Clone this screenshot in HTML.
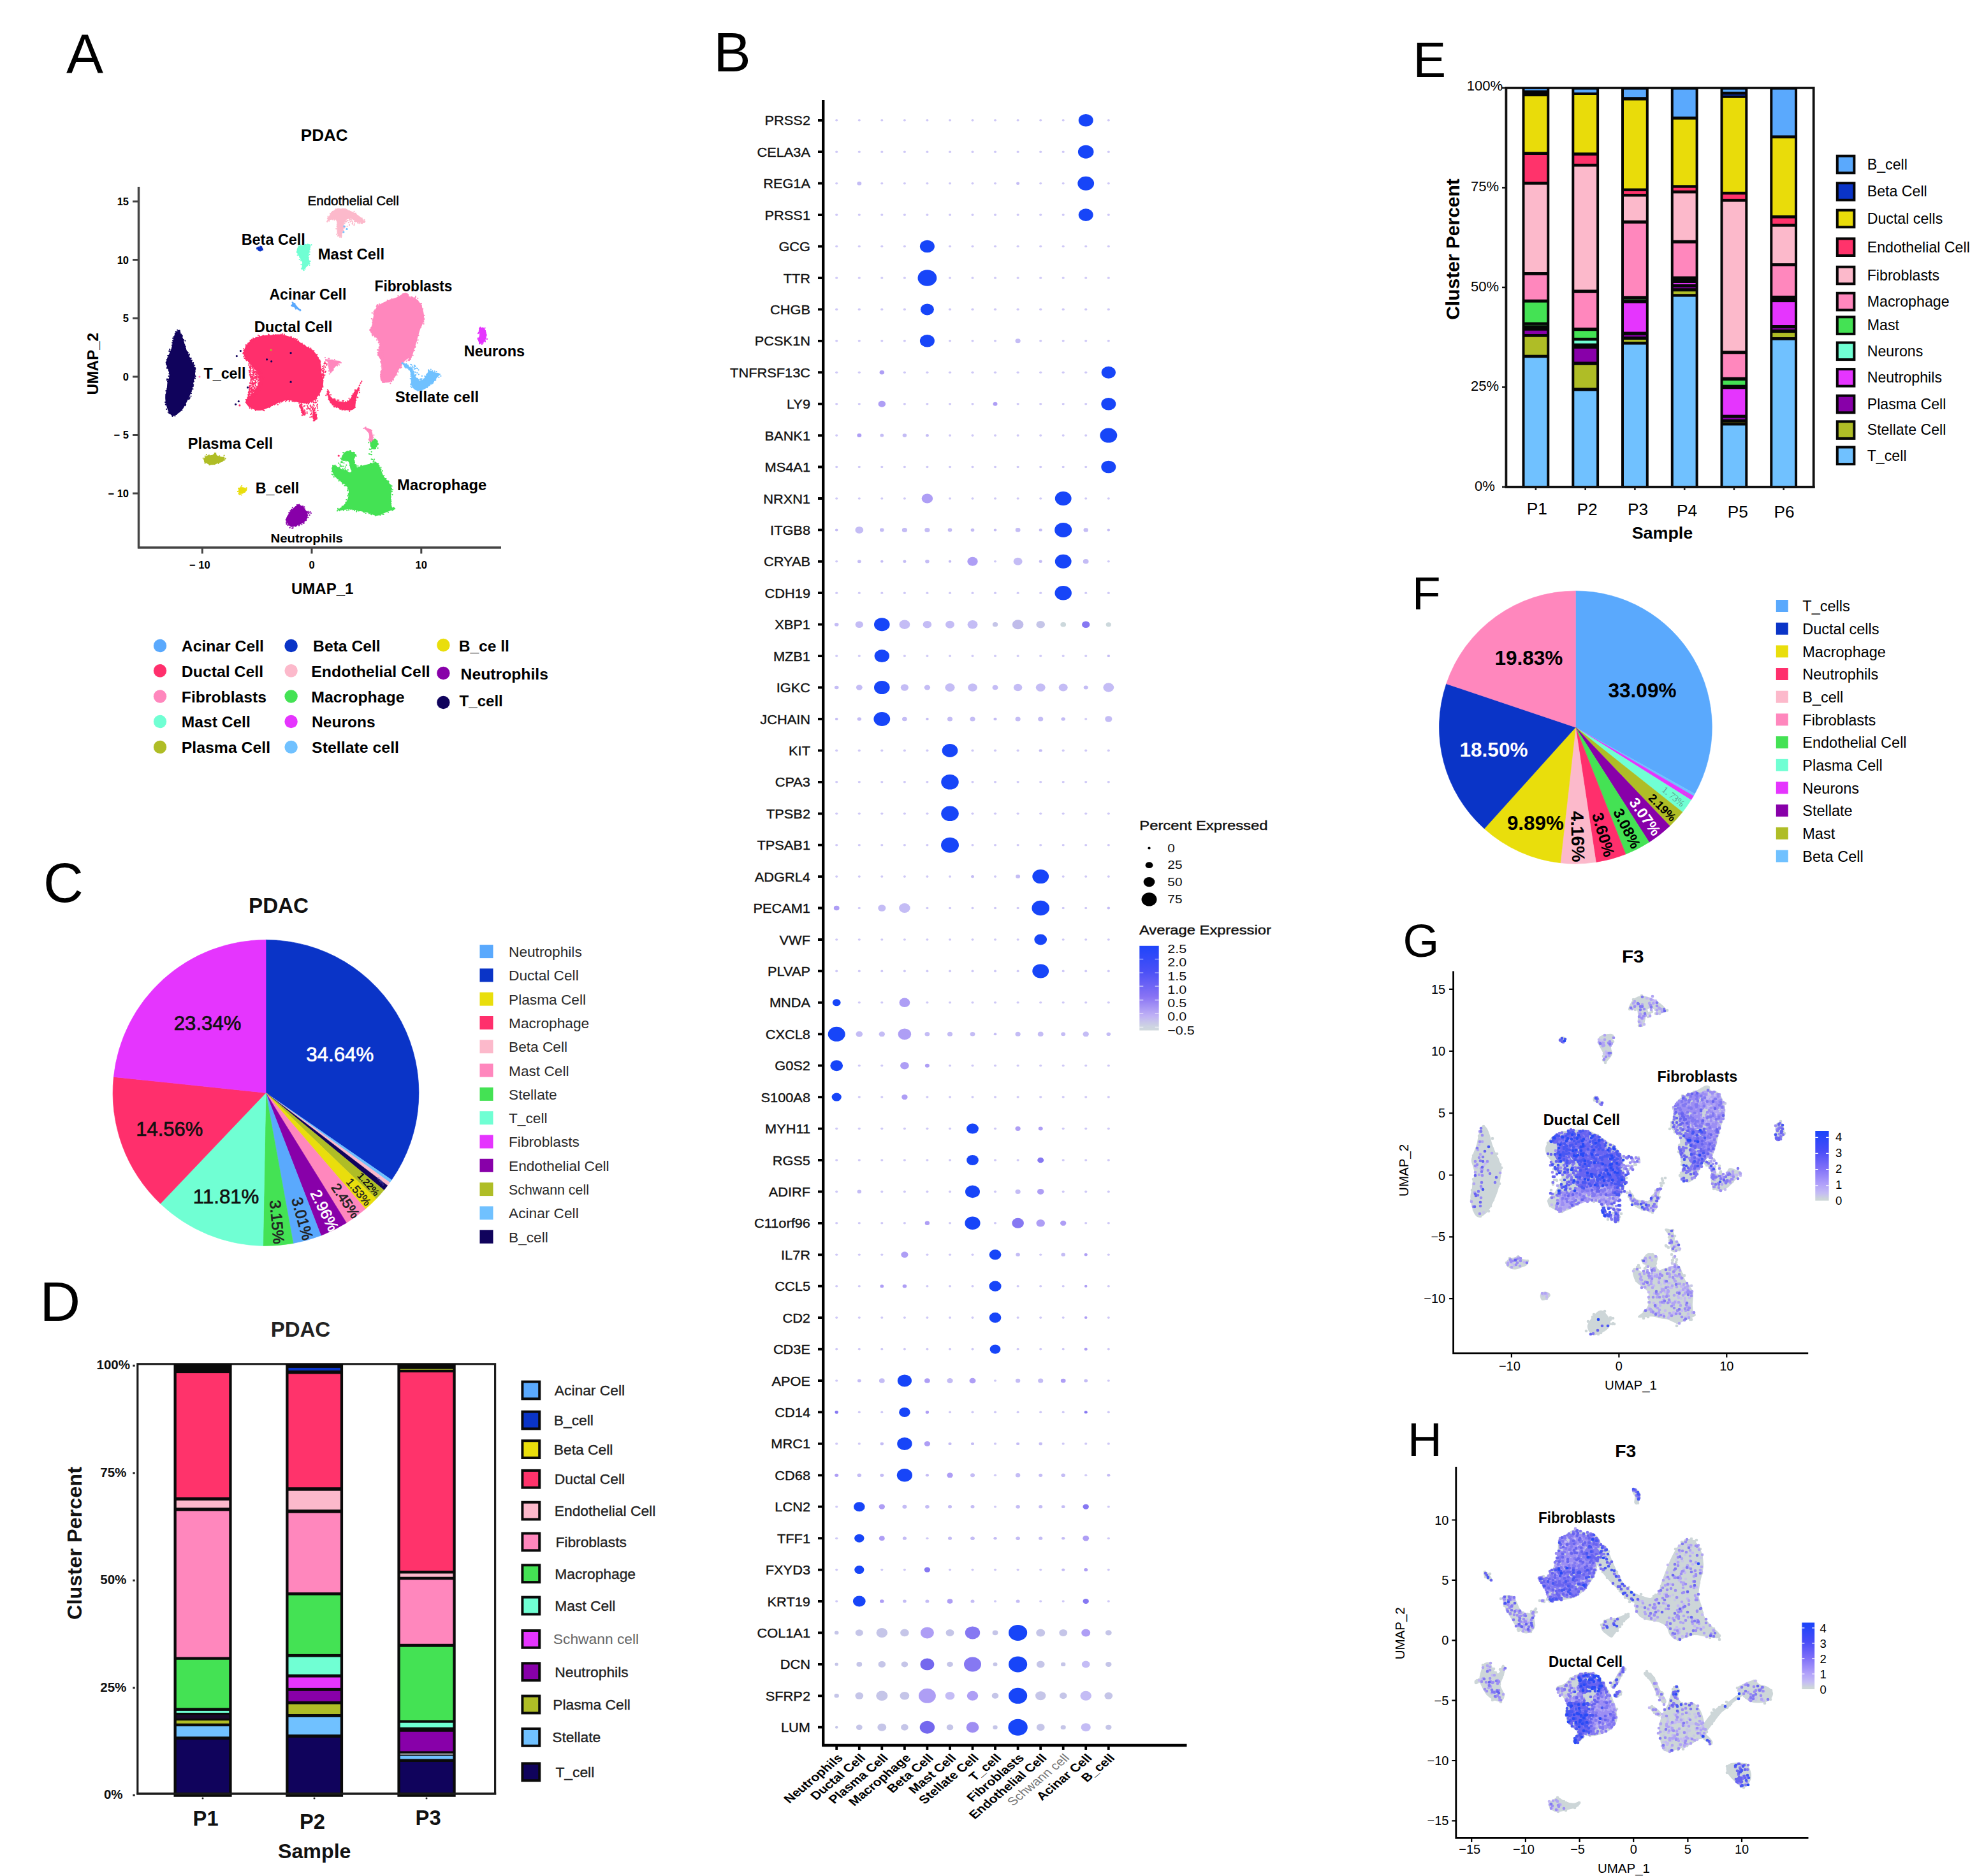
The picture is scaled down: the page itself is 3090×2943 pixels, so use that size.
<!DOCTYPE html>
<html><head><meta charset="utf-8"><title>Figure</title>
<style>html,body{margin:0;padding:0;background:#fff}svg{display:block}text{font-family:"Liberation Sans",sans-serif}</style>
</head><body>
<svg width="3090" height="2943" viewBox="0 0 3090 2943">
<rect width="3090" height="2943" fill="#fff"/>
<text x="104" y="115.3" font-size="87">A</text>
<text x="471.8" y="221" font-size="26.5" font-weight="bold" textLength="73.7" lengthAdjust="spacingAndGlyphs">PDAC</text>
<path d="M278.9 519.2C280.4 519.4 282.4 521.2 284 523.7C285.5 526.1 286.8 530.3 288 533.8C289.2 537.4 289.7 541.1 291.1 545C292.4 548.9 294.3 553.1 296.1 557.2C298 561.2 300.5 565.6 302.2 569.3C303.9 573.1 305.8 576.1 306.3 579.5C306.8 582.9 305.8 585.9 305.3 589.6C304.8 593.4 304.1 597.8 303.2 601.8C302.4 605.9 301.7 609.6 300.2 614C298.7 618.4 296.5 623.5 294.1 628.2C291.7 633 288.7 638.9 286 642.4C283.3 646 280.4 647.9 277.9 649.5C275.3 651.2 273 652.7 270.8 652.2C268.6 651.7 266.4 649.5 264.7 646.5C263 643.5 261.5 638.4 260.6 634.3C259.7 630.3 259 626.2 259.2 622.1C259.4 618.1 261 613.7 261.6 609.9C262.2 606.2 262 603.2 262.6 599.8C263.3 596.4 265.5 593 265.7 589.6C265.9 586.3 264.5 582.9 263.7 579.5C262.8 576.1 260.6 572.7 260.6 569.3C260.6 566 262.3 562.9 263.7 559.2C265 555.5 267.4 551.4 268.7 547C270.1 542.6 270.8 536.9 271.8 532.8C272.8 528.7 273.6 524.9 274.8 522.6C276 520.4 277.4 519 278.9 519.2Z" fill="#10035c"/>
<path d="M265.4 648.2h0M266.1 547.9h0M299.8 614.2h0M296.9 556.7h0M296.5 622.3h0M274.8 523.4h0M305.9 577.1h0M270 651.5h0M272.2 528.6h0M289.4 541.4h0M267 551.6h0M265.3 586.3h0M291.1 634.5h0M261.2 641.9h0M303.1 571.1h0M261.1 570.2h0M271.7 535.3h0M259.8 634.6h0M294.6 557.3h0M289.3 541.9h0M264.6 590.1h0M283.1 524.7h0M260.7 568.7h0M290.6 636.2h0M303.2 589.9h0M264.1 596h0M259.4 631.4h0M293.7 552.1h0M261.2 572.1h0M305.5 582.8h0M303.1 573.9h0M290.5 534.6h0M271.1 534.4h0M262.3 610.1h0M305.2 587.8h0M273.1 531.1h0M284.3 524.7h0M286.5 639.7h0M303.2 569h0M262.7 575.2h0M283.5 643.6h0M300.4 611.7h0M269.9 541.6h0M295.8 557.5h0M305.4 591.6h0M261.6 567.3h0M303.2 603.9h0M294.6 624h0M284.6 526.4h0M275.9 520h0M260.2 634.9h0M295.3 625.5h0M278.2 517.8h0M294.9 553.4h0M302.5 610.3h0M265.3 644.1h0M265.9 581.7h0M306 593.8h0M264.9 581.3h0M262 577.7h0M305.2 573h0M299.7 562h0M302.7 606.2h0M274.9 650.5h0M271.1 545.3h0M259.3 630.9h0M265 557.8h0M265.2 550.8h0M303.9 598.4h0M306.2 579h0M263.8 646.7h0M300.8 565.4h0M286 531.5h0M289.3 541.2h0M262.9 561.8h0M262.2 576.5h0M285.3 643.5h0M266.5 590.2h0M290.9 546.6h0M271.5 651.9h0M261.4 626.2h0M299.5 621.5h0M305.6 589.1h0M263.5 595.3h0M260 631.4h0M270.3 537.7h0M263.8 558h0M295.9 626.2h0M288.1 533.3h0M261.9 596.2h0M263 607.2h0M266.9 648.3h0M263 598.5h0M296.7 555.7h0M290.7 543.7h0M271.8 538h0M287.8 533.4h0M306.5 590.4h0M270.5 653h0M305.4 593.1h0M286 527.1h0M303.1 603.9h0M262.1 594.7h0M262 564.6h0M301.7 606.1h0M263.9 606.2h0M281.4 519.9h0M305.1 587.1h0M261.9 564h0M274.4 652.4h0M281.7 518.6h0M272.1 541.9h0M300 617.1h0M262.5 576.7h0M280 518.9h0M275.7 522.7h0M297.1 625.5h0M305.5 583.5h0M260.4 613.2h0M276.8 649.9h0M263.2 558h0M306.3 578h0M281.2 521.2h0M297.7 624h0M298.3 562.2h0M282.4 521.1h0M281.3 520.3h0M266.4 548.7h0M263.7 577.7h0M300.7 609.4h0M260.1 619.5h0M287.5 532.8h0M305.5 580.5h0M271.2 530.7h0" stroke="#10035c" stroke-width="2.2" stroke-linecap="round" fill="none"/>
<path d="M382.4 550.1C383.4 546.8 385.8 542.1 388.5 538.9C391.2 535.7 395 532.8 398.7 530.8C402.4 528.7 406.5 527.5 410.9 526.7C415.3 525.9 420.3 526 425.1 525.7C429.8 525.3 434.6 524.3 439.3 524.7C444 525 449.1 526.2 453.5 527.7C457.9 529.2 461.6 531.4 465.7 533.8C469.7 536.2 473.8 539.4 477.9 541.9C481.9 544.5 486.7 546.2 490.1 549C493.4 551.9 496 555.5 498.2 559.2C500.4 562.9 502.2 567 503.2 571.4C504.3 575.8 503.6 581.2 504.3 585.6C504.9 590 507.3 593.4 507.3 597.8C507.3 602.2 505.8 607.9 504.3 612C502.7 616 500.5 619.3 498.2 622.1C495.8 625 493.1 627.5 490.1 629.2C487 630.9 483.6 631.9 479.9 632.3C476.2 632.6 471.8 631.9 467.7 631.3C463.7 630.6 459.6 628.6 455.5 628.2C451.5 627.9 447.4 628.2 443.4 629.2C439.3 630.3 435.2 632.5 431.2 634.3C427.1 636.2 423 638.8 419 640.4C414.9 642 410.5 643.9 406.8 644.1C403.1 644.2 399.7 642.7 396.6 641.4C393.6 640.1 390.4 638.2 388.5 636.3C386.7 634.5 385.3 632.5 385.5 630.3C385.7 628.1 387.7 625.3 389.5 623.1C391.4 620.9 394.8 619.1 396.6 617.1C398.5 615 399.2 613.3 400.7 611C402.2 608.6 404.6 605.9 405.8 602.8C407 599.8 408.3 596.1 407.8 592.7C407.3 589.3 404.9 585.7 402.7 582.5C400.6 579.4 397.5 576.7 395 573.8C392.5 570.9 389.7 567.9 387.7 565.3C385.7 562.7 383.9 560.7 383 558.2C382.2 555.6 381.5 553.3 382.4 550.1Z" fill="#ff2f6c"/>
<path d="M399.7 614.2h0M405.6 600.7h0M440.8 524.6h0M421.2 526h0M386.5 558.7h0M485.5 631.1h0M390.7 637.3h0M496 624h0M436.5 526.8h0M435.8 634.8h0M400.9 610.9h0M500.7 620.3h0M504.7 611h0M484.3 544.6h0M489.9 629.7h0M413.2 526.6h0M400.6 531h0M390.5 622.9h0M422.7 637.1h0M464.4 629h0M400.5 642.7h0M406.7 589.9h0M506.1 588h0M468.2 536.4h0M404.6 585.4h0M498.6 561.3h0M468 535.1h0M385 563.3h0M400.2 579.4h0M422.3 525.5h0M490.7 626.7h0M401.7 583.9h0M488.7 548.5h0M503.2 585.8h0M411.9 642.6h0M502.8 581.6h0M462.9 628h0M385.9 541.2h0M386.3 563.5h0M483 631.5h0M443.4 629.7h0M460.5 530.5h0M381.4 554.6h0M449.3 628.2h0M445.9 524.7h0M506.4 596.8h0M460.5 629.4h0M413.2 643.5h0M390.1 567.2h0M448.1 630h0M500.7 564.7h0M472.4 632.2h0M427.1 635.9h0M497.3 556.4h0M392.5 533.9h0M481.8 630.5h0M424.3 637.5h0M396.6 576.2h0M400.3 579.1h0M385.7 631.1h0M396.4 613.8h0M401.5 529.6h0M402.4 530.2h0M407 594.6h0M467.3 536.4h0M402.7 584.9h0M381.7 553h0M383.4 550.4h0M443.1 524.1h0M397 574.5h0M400.4 531.3h0M453.7 629.8h0M391 537.8h0M478.3 632.4h0M405 526h0M500.9 618.5h0M397.1 530.7h0M503.7 580.3h0M385.5 562h0M496.9 556.4h0M394.5 574.3h0M430.8 634.4h0M405.4 586.5h0M498.1 560.7h0M390.7 570h0M462.4 531.9h0M401.1 643.9h0M432.1 525.3h0M428.7 525.4h0M469 537.4h0M397.9 612.5h0M400.6 578.6h0M394.7 641.3h0M459.1 629.5h0M391.3 638.3h0M500.9 565.8h0M396.2 617.6h0M382.5 559.4h0M507.5 592.6h0M383.3 555.8h0M472.6 540.2h0M382 547.3h0M491.6 550.8h0M502.4 567.1h0M383.5 561.9h0M477.3 541.5h0M430.5 635h0M481.2 633.2h0M395.4 616.9h0M504.3 587.2h0M403.6 585.7h0M395.9 575.7h0M408.7 591.6h0M463 531.1h0M493.8 626.8h0M401.6 642.3h0M391.9 640.3h0M456.7 529.4h0M407.1 527.2h0M387.3 564.3h0M435.5 630.9h0M421.1 524.5h0M465.8 532.3h0M386.4 627.5h0M492.3 550.4h0M496.8 625.3h0M478.5 542.5h0M394 534.4h0M449.8 627.6h0M469.1 632.5h0M492.1 627.8h0M385.8 627h0M386.1 627.1h0M441.4 630.5h0M493.1 626.7h0M396.6 534.7h0M506.1 604.4h0M422.3 637h0M391.4 537.5h0M385.5 562h0M505.8 589.3h0M390.6 570.3h0M386.8 631.2h0M503.3 583.3h0M438.8 632h0M506.4 606.9h0M389.6 620.2h0M469.2 537.8h0M398.6 531.7h0M398.2 640.4h0M502 568.5h0M386.7 565.5h0M456.5 527.8h0M473.8 538.5h0M416.6 638.4h0M389.9 635.4h0M404.6 585.2h0M462.6 630.2h0M432.6 633.4h0M382.4 550.2h0M409.1 642.8h0M487.3 546.4h0M385.9 543.2h0M426.1 526.8h0M503.9 579.6h0M395.2 618.4h0M391.7 637.2h0M501.6 565.4h0M389.1 538.6h0M392.5 571.3h0M482.8 545.7h0M422.6 638.8h0M422.3 639.1h0M407.8 593h0M458.5 629.5h0M453.9 628.1h0M391 622.4h0M404.2 606.2h0M388.5 623.2h0M414.3 644.2h0M491.2 550.6h0M499.2 561.3h0M503.8 611.1h0M486 629.5h0M397.6 614h0M412 642.4h0M409.2 592.8h0M484.3 633h0M456.8 529.5h0M464.5 533.2h0M395.1 532.7h0M411.5 527.4h0M495.3 626h0" stroke="#ff2f6c" stroke-width="2.2" stroke-linecap="round" fill="none"/>
<path d="M514.4 614C515 613.6 516.8 619.5 518.5 621.7C520.2 623.9 522 625.9 524.6 627.2C527.1 628.6 530.7 629.3 533.7 629.8C536.8 630.4 540.3 631.3 542.8 630.7C545.4 630.1 547.2 628 548.9 626.2C550.6 624.4 551.5 622.1 553 619.7C554.5 617.3 556.4 613.5 558.1 612C559.8 610.5 562.8 609.2 563.1 610.6C563.5 611.9 561 616.8 560.1 620.1C559.2 623.4 558.4 626.9 557.9 630.3C557.3 633.6 558 637.8 556.6 640C555.3 642.2 552.6 643.1 549.9 643.7C547.3 644.2 543.7 643.5 540.8 643C537.9 642.6 535.4 641.9 532.7 640.8C530 639.8 526.9 638.2 524.6 636.8C522.2 635.3 520.1 634 518.5 631.9C516.9 629.8 515.5 627.1 514.8 624.2C514.1 621.2 513.8 614.4 514.4 614Z" fill="#ff2f6c"/>
<path d="M532.7 638.6h0M563.2 612.1h0M519 619.4h0M523.8 626.5h0M525.1 625.9h0M553.9 618h0M552.6 623.7h0M557 611.5h0M554.5 619.1h0M560.4 623.3h0M519.4 624.3h0M523.8 627.9h0M555.9 638.4h0M515.8 615h0M513.2 617.8h0M513.6 615.1h0M513.9 618.7h0M529 627.6h0M525.8 637.6h0M523.5 628.8h0M523.3 626h0M555.8 615.9h0M561.5 609.7h0M531.4 627.7h0M534.3 641.1h0M513.5 614.1h0M558.2 628h0M530.1 628.1h0M556.9 639h0M513.9 611.6h0M521.4 635h0M557.9 614.5h0M525.8 627.4h0M537.3 628.9h0M561.3 623.6h0M552.2 620.8h0M560.8 616.5h0M538.4 642.5h0M519.8 631.2h0M558.2 622.2h0M547.5 624.8h0M535.3 640.2h0M534.5 642h0M524.2 638.3h0M523.7 637.1h0M556.9 632.1h0M530.5 637.7h0M557 612.9h0M525.4 627.7h0M515.5 626.6h0M548.2 644.9h0M516.4 615.3h0M557.9 618.7h0M542.1 630.3h0M541.1 643.2h0M564 615.7h0M536.6 642.9h0M545.4 629.2h0M549.1 626.9h0M539 628.9h0M535.4 640.8h0M513.3 619.3h0M511.3 620.3h0M518.6 631.5h0M562 611.6h0M527.6 639.1h0M515 613.3h0M532.6 641.3h0M537 641.8h0M557.1 616.4h0M559.1 613.6h0" stroke="#ff2f6c" stroke-width="2.2" stroke-linecap="round" fill="none"/>
<path d="M470.2 632.7C470.7 632.4 473.5 637.8 474.8 640.4C476.1 643 477.9 646.9 477.9 648.5C477.9 650.2 475.8 651.2 474.8 650.2C473.8 649.1 472.6 645.3 471.8 642.4C471 639.5 469.6 633 470.2 632.7Z" fill="#ff2f6c"/>
<path d="M473.1 647h0M471.9 635.4h0M474.4 639.6h0M472.7 639.4h0M473.5 637.3h0M473.3 633.9h0M470.1 638.1h0M470 635.8h0M473.7 651.4h0M477.4 650.8h0M473.8 639h0M475.7 648.6h0M476.1 650.2h0M474.9 651.3h0M470.5 635.3h0M469.5 630.7h0M478.6 647.9h0M473 641.2h0" stroke="#ff2f6c" stroke-width="2.2" stroke-linecap="round" fill="none"/>
<path d="M489 638.4C489.5 638.4 492.8 643.5 494.1 646.5C495.5 649.5 497.3 654.5 497.2 656.6C497 658.8 494.3 660 493.1 659.7C491.9 659.4 490.4 656.8 490.1 654.6C489.7 652.4 491.2 649.2 491.1 646.5C490.9 643.8 488.5 638.4 489 638.4Z" fill="#ff2f6c"/>
<path d="M496.4 649.9h0M488.8 644.6h0M491.7 660.1h0M493.4 658.7h0M490.4 640.8h0M496.7 657.3h0M493.3 660h0M495.5 646.5h0M490.9 653h0M489.6 637.4h0M493.2 641.9h0M496.1 651.8h0M492.9 644.2h0M497.2 655.7h0M494.2 647.2h0M495.3 651.2h0M492.6 659.3h0M489.9 641.9h0M491.3 650.8h0M486.7 636.9h0M496.1 653h0M491.1 646.3h0" stroke="#ff2f6c" stroke-width="2.2" stroke-linecap="round" fill="none"/>
<path d="M511.4 563.7C512.7 562.9 518.7 564.3 522.5 564.9C526.4 565.4 533.3 565.7 534.3 566.9C535.3 568.2 530.6 570.3 528.6 572.4C526.7 574.5 524.2 577.3 522.5 579.5C520.8 581.7 519.7 585.9 518.5 585.6C517.3 585.2 516.1 580.2 515.4 577.5C514.8 574.8 515.1 571.6 514.4 569.3C513.7 567 510 564.4 511.4 563.7Z" fill="#ff87bd"/>
<path d="M510 561.1h0M521.7 565.4h0M529 573.7h0M533.1 568.1h0M512.2 565.7h0M513.3 571.2h0M530.2 571.3h0M515 562.3h0M520.8 565.9h0M516.6 586.6h0M511 564.1h0M524.7 564.1h0M520.9 581.7h0M528.1 571.8h0M516.4 562.5h0M512.8 572.5h0M530.4 566.8h0M531.5 568.5h0M532.8 569.2h0M532.1 572.5h0M515.9 565.2h0M517.2 577h0M516.3 577.5h0M520.6 564.8h0M511.2 565.6h0M512.9 565.5h0M515.3 573.9h0M521.4 565h0M523 580.3h0M515.9 581.8h0M534.9 569.2h0M521.8 580.4h0" stroke="#ff87bd" stroke-width="2.2" stroke-linecap="round" fill="none"/>
<path d="M319.5 721.6C319.2 719.6 321.2 716.9 323.6 715.5C325.9 714.2 331.3 714.3 333.7 713.5C336.1 712.7 336.4 710.1 337.8 710.5C339.1 710.8 339.5 714.3 341.8 715.5C344.2 716.7 350.6 716.2 352 717.6C353.3 718.9 351.6 722.1 349.9 723.7C348.3 725.2 344.5 725.8 341.8 726.7C339.1 727.6 336.4 729.2 333.7 729.3C331 729.5 328 729 325.6 727.7C323.2 726.4 319.8 723.7 319.5 721.6Z" fill="#afbd26"/>
<path d="M328.7 728.5h0M340.9 716.2h0M321.8 715.7h0M352.3 721.6h0M321.9 726.3h0M337 711h0M351.6 714.6h0M335.4 713.3h0M343.2 716h0M321.5 726.5h0M320.9 724.3h0M326.9 715.2h0M337.3 711.4h0M344.2 715.3h0M336.7 711.2h0M338.3 711h0M321.5 720.1h0M336.8 727.5h0M323.8 713.1h0M338.5 727.1h0M342.8 727h0M324.8 715.6h0M329.3 728.9h0M336.7 728.2h0M328.4 727.4h0M322.5 722.7h0M320.3 720.5h0M350.6 717.7h0M326.5 715.3h0M318.7 718.8h0M350.6 718h0M327.9 714h0M328.4 729.1h0M321.9 725.4h0M343.1 725.6h0M353.6 719.4h0M341.2 715.8h0" stroke="#afbd26" stroke-width="2.2" stroke-linecap="round" fill="none"/>
<path d="M374.3 767.3C375.2 765.6 378.2 764.2 380.4 764.3C382.6 764.4 387.2 766.4 387.5 767.9C387.9 769.4 384.5 772.3 382.4 773.4C380.4 774.5 376.7 775.4 375.3 774.4C374 773.4 373.5 769 374.3 767.3Z" fill="#e9de0c"/>
<path d="M381.3 766.6h0M376.2 765.8h0M380.3 773.5h0M379.2 762.2h0M382.9 766.6h0M381.6 766.1h0M383.7 771.9h0M377.9 764.2h0M375.5 775.5h0M376.9 775.6h0M374.2 766.2h0M374.5 774.3h0M386.6 765.3h0M374.6 766.4h0M379 776.5h0M386.7 765.9h0M372.9 771h0" stroke="#e9de0c" stroke-width="2.2" stroke-linecap="round" fill="none"/>
<path d="M513.5 345.8C513.5 344 517.2 336.6 519.6 333.7C522 330.7 524.5 329.2 527.7 328.2C530.9 327.2 535 327 538.9 327.6C542.8 328.1 547 329.8 551.1 331.6C555.1 333.5 559.9 336.2 563.2 338.7C566.6 341.3 570.4 345.1 571.4 346.9C572.4 348.6 571.4 349.1 569.3 349.3C567.3 349.5 562.6 349 559.2 347.9C555.8 346.8 552.1 343 549 342.8C546 342.6 542.6 344.5 540.9 346.9C539.2 349.2 539.7 353.3 538.9 357C538 360.7 537 367 535.8 369.2C534.7 371.4 533 370.9 531.8 370.2C530.6 369.5 529.2 368 528.7 365.1C528.2 362.3 529.1 356.3 528.7 352.9C528.4 349.6 528.2 346.2 526.7 344.8C525.2 343.5 521.8 344.7 519.6 344.8C517.4 345 513.5 347.7 513.5 345.8Z" fill="#fcb9cb"/>
<path d="M538.4 357.7h0M513.2 347.8h0M558.9 346.9h0M529.9 327.5h0M538.6 361.4h0M526.7 329h0M567.7 342.4h0M528.6 355.3h0M528.2 367.7h0M530.5 328h0M568.5 344.7h0M572.2 347.4h0M537.5 364.5h0M533 371.8h0M514.8 341h0M516.2 346.7h0M520.1 333.2h0M569.2 348.2h0M569.7 349h0M538.4 356.5h0M548.5 342.9h0M548.1 331.3h0M513.9 342.5h0M543.1 343.4h0M517.9 334.8h0M527.4 358.8h0M517.8 337.5h0M547.6 343.1h0M566.4 350h0M540.1 357.5h0M537.7 327.6h0M551.1 345.1h0M528.3 345h0M534.7 370.2h0M560.7 348.2h0M541.2 348.1h0M551.1 333h0M515.8 344.8h0M568.9 349.3h0M558.1 334.7h0M522 331.8h0M537.2 358.4h0M531.8 327.5h0M541.4 327.7h0M555.5 331.8h0M540.2 355.4h0M539.8 346.2h0M528.8 352.7h0M524.7 344.9h0M535.6 369.5h0M530 370.2h0M542.2 345.7h0M537.5 360.9h0M522.1 344.5h0M571.5 348.8h0M535.2 372.1h0M570 347.7h0M568.1 350.2h0M513.7 346.6h0M571.7 347.4h0M545.2 342.9h0M558.1 347h0M542.6 343.6h0M527 328h0M535.5 371.1h0M550.9 342.2h0M567 348.8h0M564.1 348.4h0M538.7 354.8h0M568.9 349.1h0M547.8 342.6h0M556.6 334.9h0M531.3 369.6h0M531.2 369h0M521.8 343.2h0M571.8 348.5h0M514.6 339.7h0M571.5 344.9h0M539.6 328h0M543.7 328.8h0" stroke="#fcb9cb" stroke-width="2.2" stroke-linecap="round" fill="none"/>
<path d="M751.1 517.4C751.9 515.4 755.5 513.4 757.2 513.4C758.8 513.4 760.2 515.4 761.2 517.4C762.2 519.4 763.2 522.8 763.2 525.5C763.2 528.2 762.4 531.5 761.2 533.7C760 535.9 757.7 537.9 756.1 538.7C754.6 539.6 753.1 539.7 752.1 538.7C751.1 537.7 750.1 534.8 750.1 532.6C750.1 530.4 751.9 528.1 752.1 525.5C752.3 523 750.2 519.4 751.1 517.4Z" fill="#e535fe"/>
<path d="M753.4 513.6h0M751 534.3h0M749.8 532.1h0M763.5 531.8h0M752 539.3h0M752.8 515.5h0M752.6 514.6h0M752.3 515h0M752 515.7h0M753.1 535.1h0M754.1 514.9h0M761.1 521.3h0M752.5 516.3h0M764.2 531.8h0M761 536.1h0M759.5 531.9h0M757.6 538h0M760.9 518.8h0M762.9 525.6h0M751.5 530.2h0M749.9 523.2h0M750.8 521.5h0M760.9 534.9h0M755.9 540h0M760.7 514.6h0M756.8 538.5h0M752.1 537.8h0M749.6 530.7h0M753.3 523.4h0" stroke="#e535fe" stroke-width="2.2" stroke-linecap="round" fill="none"/>
<path d="M599.8 590.1C599.8 589.7 600.1 582.3 599.8 578.3C599.5 574.3 599 569.9 597.8 566.1C596.6 562.4 593 559.4 592.7 556C592.4 552.6 595.6 549.6 595.7 545.8C595.9 542.1 595.4 537 593.7 533.7C592 530.3 587.8 527.9 585.6 525.5C583.4 523.2 580.8 522.1 580.5 519.4C580.2 516.7 582.7 513 583.6 509.3C584.4 505.6 584.9 500.8 585.6 497.1C586.3 493.4 585.9 490.2 587.6 487C589.3 483.7 592 480.5 595.7 477.8C599.5 475.1 605.5 472.6 609.9 470.7C614.3 468.8 617.7 468.5 622.1 466.6C626.5 464.8 633 459.5 636.3 459.5C639.7 459.5 639.7 465.1 642.4 466.6C645.1 468.2 649.5 466.6 652.6 468.7C655.6 470.7 658.7 474.8 660.7 478.8C662.7 482.9 664.3 488.6 664.8 493C665.3 497.4 664.8 501.2 663.8 505.2C662.7 509.3 660.2 513 658.7 517.4C657.2 521.8 656 526.9 654.6 531.6C653.3 536.4 651.9 541.4 650.6 545.8C649.2 550.2 647.9 554.6 646.5 558C645.1 561.4 643.5 565.4 642.4 566.1C641.4 566.9 642.3 561.6 640.4 562.3C638.5 563.1 633.6 567.7 631.3 570.5C628.9 573.2 628.1 575.2 626.2 578.6C624.3 582 622.5 587.4 620.1 590.8C617.7 594.1 615 597.4 612 598.9C608.9 600.4 604.4 600.6 601.8 599.9C599.3 599.2 597.1 598 596.8 594.8C596.4 591.6 599.3 581.4 599.8 580.6C600.3 579.8 599.8 590.5 599.8 590.1Z" fill="#ff87bd"/>
<path d="M583.8 524.4h0M582.2 514h0M596.9 538.5h0M600.8 583.9h0M586.7 490.4h0M646 466.3h0M627.7 577.4h0M600 574.1h0M663 484.8h0M660.6 479.1h0M593.7 534.5h0M614 598.2h0M585.5 505.1h0M643.7 563h0M586.6 488.5h0M662.6 499.5h0M594.7 535h0M597 567.5h0M591.4 482.9h0M642.4 466h0M659.1 476.3h0M650.1 550h0M640 461.8h0M625.8 576.4h0M582.8 500h0M591.5 532.2h0M640.3 564.9h0M624.9 583.5h0M580.1 517.8h0M624.4 464.2h0M656.5 526.2h0M663.2 502.3h0M587.8 527.9h0M639.2 461.4h0M582.4 519.2h0M600.3 589.9h0M600 585h0M609 471.9h0M593.7 537.6h0M614.5 469.2h0M599.9 579.9h0M599.3 585.9h0M664.9 499.4h0M644.6 466.3h0M597.1 591.6h0M586.9 526h0M584.7 525.5h0M612.1 597.2h0M598.1 583.6h0M643.6 468.2h0M650.7 468.2h0M593.9 537.1h0M602 600h0M665.3 494.8h0M641.7 563.3h0M586.7 526.1h0M597.7 568.5h0M652 466.3h0M651.3 543.7h0M651 545h0M600.9 584.4h0M582.3 518.9h0M614.6 597.6h0M632.2 461h0M629.7 576.4h0M629.8 571.6h0M636.8 461h0M649.5 467.1h0M638.8 461.9h0M585.8 492.5h0M615.9 592.5h0M645.6 467h0M594.9 534.9h0M599.9 581h0M595 544.1h0M586.9 490.6h0M595.7 535.3h0M663.2 484.5h0M652.5 536.1h0M595.2 534h0M660.1 513.2h0M584.2 505.7h0M629.3 574h0M601 583.5h0M591.1 533.5h0M628 576h0M597.6 594.4h0M640.2 463.7h0M593 480.2h0M646.4 467.7h0M595.1 544.3h0M598.8 571.6h0M587.2 506.3h0M665 501.5h0M595.3 477.3h0M609.8 598.7h0M592.5 478.2h0M663.9 503.7h0M654.8 538h0M593.5 552.7h0M660.9 476.2h0M664.5 505h0M592.1 553.6h0M589.5 528.6h0M646.3 468.4h0M642.3 467.8h0M583.7 490.9h0M597.9 566.3h0M655.2 471.8h0M641.5 565.4h0M603.3 599.6h0M583.9 500.5h0M647.2 466.7h0M584.3 526.4h0M598.7 585.2h0M643.8 564h0M617 595.9h0M652 464.8h0M585.2 523.5h0M660.6 511.1h0M581.8 518.3h0M591.3 478.9h0M640.5 464.8h0M638.4 561h0M645 465.9h0M592.5 556.8h0M595 477h0M588.5 486.8h0M584.7 502.5h0M595.5 540.9h0M637.6 566.6h0M642.1 564.4h0M647.6 557.5h0M598.8 577.3h0M620.4 586.7h0M580.7 516.5h0M627.8 573.5h0M660.8 479.4h0M631.4 461.6h0M629.9 572.1h0M601 584h0M594.9 547.7h0M609.6 598.8h0M633.5 569.6h0M600.4 599h0M622.6 588.3h0M607.7 471.2h0M590.9 480.9h0M645.2 466.7h0M595.4 545.6h0M644.8 560.4h0M632.5 570h0M598.1 586h0M642.3 469.3h0M655.6 533.4h0M656.7 475.8h0M597 538.4h0M660.9 480.9h0M655.3 468h0M627.4 576.8h0M600.2 600h0M599.6 585.8h0M653.3 534.3h0M599.9 586.3h0M612.2 470.7h0M590.6 480.7h0M664.6 508.2h0M597.9 586.8h0M584.1 514h0M612.4 601.3h0M599.5 588.6h0M643.3 468h0M594.6 545.7h0M660.8 478.6h0M587.7 486.5h0M587.7 528.4h0" stroke="#ff87bd" stroke-width="2.2" stroke-linecap="round" fill="none"/>
<path d="M631.3 570.5C631.6 569.8 634.5 569.6 636.3 570.5C638.2 571.3 640.4 573.3 642.4 575.5C644.5 577.7 646.8 580.9 648.5 583.7C650.2 586.4 651.1 589.4 652.6 591.8C654.1 594.1 656 597.2 657.7 597.9C659.4 598.5 660.9 597.4 662.7 595.8C664.6 594.3 667.1 591.1 668.8 588.7C670.5 586.4 670.9 582.5 672.9 581.6C674.9 580.8 678.1 582.8 681 583.7C683.9 584.5 689.1 585.5 690.2 586.7C691.2 587.9 689.1 588.4 687.1 590.8C685.1 593.1 681.4 597.7 678 600.9C674.6 604.1 670.7 608 666.8 610.1C662.9 612.1 658 613.6 654.6 613.1C651.2 612.6 648.2 609.7 646.5 607C644.8 604.3 644.6 600.1 644.5 596.9C644.3 593.6 646.2 590.8 645.5 587.7C644.8 584.7 642.3 580.8 640.4 578.6C638.5 576.4 635.8 575.9 634.3 574.5C632.8 573.2 630.9 571.1 631.3 570.5Z" fill="#70c1ff"/>
<path d="M646.3 578.3h0M640 573.2h0M648.8 583h0M682.7 594.6h0M646.4 576.6h0M640.3 575.4h0M636.4 575.7h0M632.1 570.2h0M688.7 587.4h0M660.4 595.8h0M682.1 596.9h0M636.3 576.9h0M683.3 596.1h0M675.8 579.6h0M658.7 611.1h0M659.5 594.7h0M644.6 583.8h0M645.3 589.7h0M678.4 598.8h0M666.4 590.2h0M655.4 613.1h0M672 580.4h0M675.8 582.6h0M661.1 596h0M659.8 610.4h0M645.6 594.2h0M644 602.6h0M648.6 582.8h0M654.9 594.2h0M651 588.9h0M641.3 579.7h0M669.2 587.9h0M645.8 579.1h0M672 581.8h0M687.3 586.2h0M686.4 585.8h0M645.3 587.4h0M646.3 581.3h0M672.7 581.2h0M679 599.4h0M649.3 589h0M659.7 597.5h0M659.9 613h0M646 586.6h0M644.5 606h0M663.5 594.5h0M658.6 598.7h0M633.3 570.9h0M673.3 604.1h0M638.5 572.9h0M681.6 582.4h0M631.2 569h0M645.7 607.8h0M634.7 575.4h0M643.7 594.1h0M678.2 581.9h0M669.5 587.2h0M656.5 597.1h0M689.7 587.1h0M638.4 572.4h0M637.9 575.8h0M673.9 604.7h0M661.7 613h0M630.2 570.1h0M641.7 576.8h0M680.1 598.9h0M667.4 590.9h0M638.7 577.7h0M653.9 595.7h0M691.4 589.9h0M670.8 586.5h0M637.4 570.9h0M677.2 602.4h0M684.5 583h0M670.1 607.8h0M656 595.7h0M661.6 614.1h0M644.7 585.5h0M678.8 601.1h0M644.8 603.4h0M641.5 578.1h0M688.4 591.9h0" stroke="#70c1ff" stroke-width="2.2" stroke-linecap="round" fill="none"/>
<path d="M520.6 734.9C520.8 732.7 521.6 729.8 523.7 729.8C525.7 729.8 529.6 733.6 532.8 734.9C536 736.3 540.2 737 542.9 738C545.7 739 546.7 741.5 549 741C551.4 740.5 554.1 736.6 557.2 734.9C560.2 733.2 563.6 732 567.3 730.9C571 729.7 575.6 728.7 579.5 727.8C583.4 727 587.8 724.6 590.7 725.8C593.5 727 594.9 731.4 596.8 734.9C598.6 738.5 599.6 743.4 601.8 747.1C604 750.8 607.9 754.2 609.9 757.3C612 760.3 613.5 761 614 765.4C614.5 769.8 612.8 778.6 613 783.7C613.2 788.7 614.2 793.5 615 795.8C615.9 798.2 618.9 796.9 618.1 797.9C617.2 798.9 613 800.6 609.9 801.9C606.9 803.3 603 804.8 599.8 806C596.6 807.2 593.7 809 590.7 809C587.6 809 584.4 807 581.5 806C578.6 805 576.1 803.6 573.4 802.9C570.7 802.3 568 802.4 565.3 801.9C562.6 801.4 560.2 800.4 557.2 799.9C554.1 799.4 550.1 798.9 547 798.9C544 798.9 541.9 799.6 538.9 799.9C535.8 800.2 528.9 801.5 528.7 800.5C528.6 799.5 535.2 796.6 537.9 793.8C540.6 791 543.5 787.4 545 783.7C546.5 779.9 547.3 775.2 547 771.5C546.7 767.7 545 764 542.9 761.3C540.9 758.6 537.5 757.3 534.8 755.2C532.1 753.2 528.7 751.2 526.7 749.1C524.7 747.1 523.7 745.4 522.6 743C521.6 740.7 520.4 737.1 520.6 734.9Z" fill="#44e254"/>
<path d="M533.1 734.5h0M582.2 806.5h0M538.1 757.9h0M520.8 739.6h0M539 800.6h0M544.2 800.7h0M602.2 746.1h0M545.5 777.8h0M593.4 727.6h0M544.4 762.4h0M549.1 769.7h0M553.5 799.4h0M563.4 801h0M612.9 764.4h0M545.5 741.1h0M521.2 740h0M527.2 731.5h0M592.9 727.6h0M615 797h0M614.7 799.1h0M540.9 738.3h0M554.4 735.6h0M525.4 730.4h0M536.7 756.5h0M610.3 800.8h0M545.3 769.6h0M570.2 802.9h0M602 749.2h0M557.7 736h0M529.9 734h0M599.5 806.8h0M523.8 748.2h0M523.2 732.1h0M535.2 755h0M524.5 739.8h0M589.2 808.9h0M556.6 734.5h0M530 797.9h0M604.3 751.2h0M597.4 736.3h0M617.3 796h0M588.3 725.2h0M596.8 806.8h0M559.6 801h0M567.2 730.6h0M533.8 753.2h0M569.8 802.3h0M542.1 737.3h0M542.4 788h0M546.7 774.5h0M564.4 801.2h0M539.1 756.2h0M540.6 761.3h0M559.4 799.8h0M545.9 784.9h0M608.9 754.7h0M529 801.4h0M542.1 759.6h0M599.2 803.7h0M608.9 803.7h0M617.8 796.7h0M612.8 783.7h0M554.5 736.2h0M612.8 779.7h0M617.6 798.1h0M615.5 798.3h0M581.7 806.2h0M600 738.7h0M589.4 726.1h0M581 726.8h0M601.8 806.8h0M536.8 794.4h0M554.1 799h0M605.4 750.8h0M619.2 798.1h0M520.7 744h0M609.6 755.8h0M582.4 807.2h0M531.6 754.4h0M543.2 761.7h0M539.5 757.8h0M542.2 761.8h0M557.1 798.3h0M527.6 731.8h0M611.5 760.3h0M533.4 736.1h0M614 766.4h0M525.6 729.8h0M540.6 762h0M615.2 800.1h0M532.9 801.1h0M566 731h0M613.5 786.3h0M537.2 735.6h0M615.2 800.5h0M571.3 803.6h0M553.2 738.2h0M573.7 805h0M578.9 805.5h0M613.2 789.9h0M545.7 767.1h0M613.2 761.6h0M614.8 771.2h0M522.1 730.4h0M615.9 800.4h0M543.9 738.7h0M593.4 806.2h0M582.2 727.2h0M537.4 759h0M522.3 745h0M617.5 799.1h0M547.1 800.1h0M613.9 768.6h0M596.4 808h0M601.5 748.9h0M612.7 761.4h0M561.4 731.1h0M562.4 801.5h0M546.7 776.1h0M535.5 753.9h0M521 734.7h0M597.2 737.5h0M535.3 799.5h0M537.3 757.4h0M597.2 736.4h0M614.8 762.5h0M533.7 798.5h0M554.3 738.8h0M615.5 797.6h0M597.4 733.4h0M532 752.9h0M559.2 802.6h0M612.7 762.5h0M556 800.7h0M538.6 736.3h0M607 754.3h0M578.5 803.4h0M591.5 727h0M616 768.3h0M522.8 731.9h0M594.4 730.7h0M615.5 776.1h0M529.2 750.6h0M594.7 807.3h0M543.3 784h0M538.6 800h0M532 733.7h0M525.5 730.8h0M552.7 738.9h0M568.2 801.2h0M572.8 802.2h0M550.4 799.1h0M608.9 754.9h0" stroke="#44e254" stroke-width="2.2" stroke-linecap="round" fill="none"/>
<path d="M536.9 714.6C538.2 712.4 541.3 708.4 544 707.5C546.7 706.7 550.7 708.5 553.1 709.5C555.5 710.6 557.8 711.4 558.2 713.6C558.5 715.8 555.1 719.9 555.1 722.7C555.1 725.6 557.2 728.7 558.2 730.9C559.2 733.1 562.4 734.8 561.2 735.9C560 737.1 553.4 739.8 551.1 738C548.7 736.1 548.7 727.3 547 724.8C545.3 722.2 542.8 723.4 540.9 722.7C539.1 722.1 536.5 722.1 535.8 720.7C535.2 719.4 535.5 716.8 536.9 714.6Z" fill="#44e254"/>
<path d="M562.3 735.8h0M546.8 723.1h0M558.1 713.9h0M548 722.3h0M554.4 709.8h0M549.4 709.4h0M535.7 720.5h0M557.7 733.8h0M554.3 710.3h0M538 720.7h0M536.7 721.4h0M534.6 719h0M556.6 732h0M557.2 713.8h0M558.8 731.6h0M557.3 729h0M554.2 710h0M536.4 723.6h0M558.7 729.8h0M542.8 723.1h0M555.5 710.1h0M558.7 715.6h0M555.8 710h0M538.3 714.8h0M550.1 707.8h0M549.1 707h0M538.4 721.6h0M538.2 710.2h0M555.4 725.3h0M539.6 722.2h0M549.1 730.2h0M553.1 710.4h0M557.8 735h0M555.6 723h0M555.6 728h0M556 725.2h0M539.7 710.5h0M556.3 714.3h0M555 722.9h0M557.6 713.7h0M552.3 738.8h0M537.3 717.4h0M552.2 739.4h0" stroke="#44e254" stroke-width="2.2" stroke-linecap="round" fill="none"/>
<path d="M581.5 690.3C583 689.1 587.8 688.2 589.6 689.2C591.5 690.3 592.7 694.1 592.7 696.3C592.7 698.5 591.2 701.3 589.6 702.4C588.1 703.6 585.1 704.5 583.6 703.5C582 702.4 580.8 698.5 580.5 696.3C580.2 694.1 580 691.4 581.5 690.3Z" fill="#44e254"/>
<path d="M582.1 689.3h0M586.7 703h0M585.2 703.8h0M587.1 703.9h0M591.9 692h0M582.6 690.5h0M580.9 692.1h0M592.6 695.6h0M592.6 702.9h0M582.1 700.2h0M589 703.6h0M583.6 688.6h0M590.9 692.4h0M588.5 701.8h0M587.9 689.2h0M578.3 694.3h0M581.7 699.2h0M583.2 703.4h0M589.5 690.1h0M592.9 696.9h0" stroke="#44e254" stroke-width="2.2" stroke-linecap="round" fill="none"/>
<path d="M571.4 671.4C571.9 670.4 579.3 672.2 581.5 674C583.7 675.8 584.2 679.4 584.6 682.1C584.9 684.8 584.4 688.9 583.6 690.3C582.7 691.6 580.3 691.9 579.5 690.3C578.6 688.6 579.8 683.2 578.5 680.1C577.1 677 570.9 672.4 571.4 671.4Z" fill="#ff87bd"/>
<path d="M584.3 684.1h0M572.4 671.3h0M582.8 691.6h0M583 675.1h0M580.9 674h0M573.7 670.3h0M580.4 690.6h0M584.9 689.9h0M585.1 689.5h0M572.7 671.8h0M579.4 691.4h0M585.4 689.7h0M581 691h0M581.5 674.8h0M578.6 689h0M585.2 686h0M581.5 690.1h0M570.5 672h0M586.4 682.6h0M580.6 689.7h0M583.5 687.4h0M581.4 676.4h0M579.8 681.8h0M581.9 693h0" stroke="#ff87bd" stroke-width="2.2" stroke-linecap="round" fill="none"/>
<path d="M404.8 388.8C405.5 388 406.8 387.2 408 387.2C409.1 387.1 411 387.9 411.7 388.6C412.4 389.2 412.5 390.3 412.2 391.2C411.9 392.1 410.9 393.6 409.9 394.1C408.9 394.6 407.1 394.5 406.1 394.1C405.1 393.7 404.1 392.5 403.9 391.6C403.7 390.8 404.1 389.5 404.8 388.8Z" fill="#0a34c7"/>
<path d="M408 387.3h0M410.2 387.1h0M405.4 387.9h0M403.2 389.1h0M403 390.4h0M412 391.9h0M404.7 390.4h0M408.1 386.5h0M409.6 388.4h0M410.8 389.8h0M404.5 388.7h0" stroke="#0a34c7" stroke-width="2.2" stroke-linecap="round" fill="none"/>
<path d="M467.7 387.2C469.6 385.4 474.1 384.5 477.3 384C480.5 383.4 485.5 382.2 486.9 384C488.2 385.7 485.8 391.4 485.3 394.6C484.7 397.8 483.6 400.3 483.7 403.2C483.8 406 486.3 409 485.8 411.7C485.3 414.3 482.2 417.2 480.5 419.1C478.8 421.1 476.8 423.2 475.7 423.4C474.5 423.6 473.8 422.2 473.5 420.2C473.3 418.3 474.5 414.2 474.1 411.7C473.6 409.2 472 407.4 470.9 405.3C469.7 403.2 468 400.7 467.1 398.9C466.3 397.1 465.5 396.6 465.5 394.6C465.6 392.7 465.7 388.9 467.7 387.2Z" fill="#70ffd3"/>
<path d="M474.7 420.3h0M485.7 410.2h0M484.2 404.3h0M476.7 424.1h0M471.4 384.6h0M468.4 385.8h0M470.4 404.1h0M485.4 413.5h0M485.8 395.3h0M479 383.8h0M472.2 408.9h0M486.5 409.9h0M472.4 415.2h0M473.4 385.9h0M482.7 402.2h0M477.4 420.8h0M485.8 387.7h0M474.2 420.2h0M483.8 384.1h0M481.8 416.5h0M485.4 416h0M469.7 407h0M472.3 407.5h0M482.5 404.8h0M475 410.2h0M474.7 414.2h0M472.9 421.7h0M486.1 409.5h0M466.7 400.3h0M482.7 383.3h0M465.6 395.6h0M483.2 400.1h0M485.5 399.1h0M478 419.8h0M466.8 391.1h0M478.4 422h0M472.5 405.5h0M483.5 405.3h0M465.7 395.3h0M483.9 401.1h0M483.2 397.9h0M470.7 385.9h0M483.3 405.8h0M476.8 420.8h0M476.2 423.7h0M488.5 384.2h0M485.7 391.5h0" stroke="#70ffd3" stroke-width="2.2" stroke-linecap="round" fill="none"/>
<path d="M457.5 479.4C457 478 458.9 474.5 460.2 474.6C461.5 474.7 463.9 478.1 465.5 479.9C467.2 481.7 469.8 484.1 470.3 485.2C470.9 486.4 469.9 487.2 468.7 486.8C467.6 486.5 465.3 484.4 463.4 483.1C461.5 481.9 458.1 480.8 457.5 479.4Z" fill="#5aa9fd"/>
<path d="M459.8 480.6h0M459.2 474.8h0M470.7 487.4h0M462.8 482.7h0M464.8 483.2h0M459 474.8h0M457.1 479h0M464.1 484.7h0M459.3 480.7h0M457.2 479.7h0M464.3 483h0M470.8 485.9h0M458.6 474.3h0M469.6 485.9h0M471.5 486.6h0M462.4 476.3h0" stroke="#5aa9fd" stroke-width="2.2" stroke-linecap="round" fill="none"/>
<path d="M448.7 813.8C449.2 811.1 451.6 807.7 453.8 804.7C456 801.6 459.2 797.6 461.9 795.5C464.6 793.4 467.5 791.7 470.1 792.1C472.6 792.4 475.1 795.3 477.2 797.6C479.2 799.8 481.6 802.8 482.2 805.7C482.9 808.6 482.6 812.3 481.2 814.8C479.9 817.4 477 819.2 474.1 820.9C471.2 822.6 466.8 824 464 825C461.1 825.9 459.1 827.3 456.9 826.6C454.7 825.9 452.1 823 450.8 820.9C449.4 818.8 448.2 816.5 448.7 813.8Z" fill="#8800a9"/>
<path d="M451.7 809.9h0M465.2 824.4h0M458.7 800h0M450.5 818.6h0M451.6 824.2h0M465 823.2h0M476.9 820.4h0M483.2 811.8h0M467.4 792.1h0M457 799.2h0M458.8 796.4h0M455.1 803.8h0M463.5 795.6h0M459.6 828.2h0M454.7 827.8h0M452.1 822.6h0M463.3 825.3h0M480.1 816.2h0M469.4 791.6h0M448.7 815.4h0M449.3 817.5h0M474.8 818.4h0M477.9 798.4h0M483.7 805.2h0M454.5 804.6h0M475.7 820.8h0M463.9 825.3h0M481 802.8h0M482.4 808.2h0M475 794.2h0M475.3 819.9h0M473.4 823h0M476.3 795.8h0M456.3 801.1h0M470.1 822.5h0M480.6 802.7h0M468.3 793h0M481.1 804h0M453.1 804.6h0M449 820.1h0M449.5 822.2h0M469 824.4h0M455.2 801.6h0M481.2 805.3h0M465.9 792.1h0M458.2 828.7h0M477.4 795.4h0" stroke="#8800a9" stroke-width="2.2" stroke-linecap="round" fill="none"/>
<path d="M396.9 584.8h0M393.3 621.7h0M397.6 612h0M395.5 590.8h0M406.8 582.8h0M401.9 600.3h0M405.2 580.4h0M402.3 616.8h0M392.4 623.2h0M402.1 614.8h0M410.4 592.6h0M391.3 607.6h0M408.7 596.1h0M403.4 586.9h0M394.8 595.9h0M401.1 598.5h0M390 572.7h0M396.5 612.4h0M407.3 585.6h0M394.3 601.2h0M392.1 606.1h0M403 612.6h0M407.3 612.1h0M406.3 587.6h0M388.9 625.1h0M399.2 577.2h0M405.4 580.3h0M399.7 608h0M407.7 586.1h0M392.8 581.4h0M398.3 606.9h0M395.5 581.4h0M393.3 577.1h0M392.6 590h0M400.8 582.6h0M400.2 596.9h0M392.7 605.4h0M391.3 581.8h0M413 594.9h0M396.9 596.1h0M396.8 611h0M397.9 580.9h0M410.3 604.4h0M406.7 592.2h0M398.1 596.5h0M395.4 603.3h0M405 613.4h0M397.2 619.9h0M408.4 605.3h0M405.4 591.4h0M398.1 582.6h0M390.6 622.5h0M396 599.2h0M400.6 592.7h0M411.1 591.9h0M404.4 599h0M396.3 594h0M403.6 616.3h0M394.4 593.1h0M397.7 592.6h0M394.8 590.9h0M409.2 581.3h0M392.6 575.7h0M408.8 580.6h0M393.5 575.6h0M394.5 613.3h0M411.9 596.6h0M392.6 614.2h0M410.2 593.9h0M390 621.1h0M407.4 605.7h0M404.1 578.7h0M391.8 582.5h0M403.6 609.9h0M413.1 592.5h0M397.8 586.5h0M392.1 582.4h0M401.5 610.4h0M408.4 604.5h0M399.4 621.6h0M403.4 591.2h0M402.3 580.3h0M408.6 595.5h0M405.2 604.2h0M406.7 595.2h0M395.9 593.4h0M394.6 622.9h0M405.7 590.2h0M407.5 587h0M403.6 581.2h0M410.2 599.7h0M394.8 623.9h0M389.7 624.3h0M407.5 580.7h0M407.6 604.4h0M389.8 615.8h0M390.5 621h0M399.2 612.9h0M394.3 613.2h0M404.6 577.8h0M400.5 612.7h0M393.2 608.9h0M394.8 593.1h0M402.6 617.5h0M407.5 597.9h0M410.3 594.8h0M390.6 614.2h0M391.3 610.3h0M388.9 627.6h0M401.8 613.7h0M391 607.9h0M397.5 586.3h0M400.1 577.2h0M399.9 612.5h0M406.8 591.6h0M391.1 617.9h0M400.7 591.2h0M391.8 624.3h0M400 616.3h0M394.1 623.3h0M393.4 623h0M407.9 607.6h0M399.2 577.9h0M405.5 614h0M393.6 598.3h0M405.6 603.3h0M398.2 581.8h0M400.5 587.3h0M397.2 603.3h0M407.6 605.3h0M391.8 621.9h0M397.7 603h0M392.9 579.3h0M395 607.5h0M405.6 592.6h0M405.2 592.5h0M403.5 589.2h0M392.9 600.7h0M390.6 619.1h0M405.2 610.6h0M405.4 612.2h0M395.8 604.1h0M392.9 582.4h0M410.8 601.2h0M398.2 611.3h0M389.3 618.8h0M407.2 587.5h0M404 608.9h0M391.8 612.9h0M402.1 592.4h0M391.3 581.2h0M391.5 605.2h0M408.7 581.3h0M400.8 604.5h0M402.3 595.4h0M393.8 614.6h0M393.9 618.4h0M393.9 577.6h0M400.1 594h0M396.4 615.1h0M393.4 609.8h0M409.5 597.7h0M403.5 582.5h0M396.3 577.3h0M404.6 596h0M395.7 601h0M396.1 623.2h0M406.2 596.3h0M391.9 574.9h0M390.7 619.7h0M404.6 581.1h0M400.9 591.1h0M390.2 613.8h0M406.4 600.9h0M391.9 609.8h0M399 609.3h0M389.9 622.8h0M398 583.5h0M394.5 609.8h0M393.4 594.8h0M405.7 596.4h0M391.6 576.3h0M400.8 599.7h0M392.6 609.8h0M400.6 617.5h0M395.2 624.5h0M409 598.8h0M390.9 610.7h0M405.9 604.7h0M406.6 591.8h0M405.9 592.9h0M406.3 587.8h0M404.3 581.1h0M395.9 623.1h0M402.4 583.4h0M401.2 599.4h0M396.4 593.3h0M401 605.2h0M393.4 587.9h0M400.8 600.5h0M398.6 609.5h0M392.4 602.1h0M394.8 615.4h0M401.2 586.3h0M397.4 588.6h0M398.1 612h0M409.1 599.3h0M406.8 584.3h0M399.4 592.4h0M395.6 592.5h0M393 585.4h0M408.2 608.9h0M405.4 607.9h0M405.8 587.6h0M388.4 626.1h0M401.4 609.8h0M393.6 591.2h0M390.4 616.8h0M407 599.6h0M397.3 587.5h0M400.4 612.1h0M410.4 596.9h0M398.6 589.9h0M391.7 588.1h0M396.3 619.9h0M411 596.2h0M392.6 615.5h0M397.4 579h0M411.3 596.9h0M398 605.6h0M397.8 593.6h0M407.6 591h0M405.5 607.3h0M392.5 573.5h0M405.3 606.5h0M395.3 583.6h0M393.7 605.1h0M402.7 590.4h0M404.5 606h0M401 579.2h0M393.1 589.8h0M398.5 592.7h0M410.1 586h0M403 593.4h0M408.9 587.4h0M408 599.1h0M397.6 585.1h0M404 615.8h0M409.7 603h0M397.7 617h0M407.4 597h0M399.7 584.3h0M398.9 600.7h0M395.1 611.6h0M392 600.9h0M400.5 593.1h0M410.2 584.1h0M410.7 592.4h0M396.4 606.7h0M402.4 588.2h0M389.7 625.7h0M397.3 578.8h0M404.8 602.1h0M396.2 590.7h0M409.8 591.3h0M397 594.8h0M391.8 609.4h0M405.1 597.3h0M398.2 585.4h0M408.4 597.9h0M409.5 593.3h0M405.5 610.1h0M400.6 598.8h0M392.7 582h0M404.5 611.1h0M394.3 608.4h0M391.1 606.6h0M392 600.8h0M395.8 603.1h0M403.8 579.9h0M395.7 610.3h0M401.9 606.8h0M408.1 604.3h0M393.4 597.1h0M409.4 604h0M407.4 592.7h0M409.2 608.8h0M388.4 624.5h0M394.6 619.6h0M392.2 618.6h0M411 597h0M392.9 622.6h0M396.4 576.1h0M390.7 581.3h0M395.2 588h0M399.1 616.8h0M394.9 624.1h0M393.5 577.5h0M391.3 611.4h0M399.8 616.3h0M399.5 583.4h0M394.1 611.2h0M398 584.9h0M397.2 600.9h0M410.6 592.3h0M393 591.8h0M406.8 609.1h0M398.2 601.7h0M391.6 623.7h0M400 600.7h0M408.3 583.4h0M406.6 592.1h0M394.8 607.9h0M400.2 593.4h0M402.8 584.5h0M408.6 586.6h0M409.4 603.2h0M403.4 607.3h0M390.8 615.8h0M395.2 620.6h0M408.3 610.3h0M409 596.8h0M392.5 578h0M398.4 600.8h0M391.4 584.7h0M410.4 594.1h0M391.4 582.6h0M402.8 583h0M400.1 602.4h0M399.1 600.5h0" stroke="#ff2f6c" stroke-width="2.2" stroke-linecap="round" fill="none"/>
<path d="M495.1 628.7h0M498 634.3h0M486.7 644.6h0M478.4 650.4h0M475.9 645.7h0M489.1 639.5h0M483.8 630.2h0M489 649.3h0M473.6 645h0M491.8 631.3h0M495.1 654.7h0M470.3 635.8h0M471.4 635.9h0M476.6 637.4h0M483.3 639.5h0M493.5 650.2h0M472.3 635h0M492.6 640.8h0M498 640.2h0M478.6 630.4h0M498.6 643.8h0M482.6 641.5h0M492.9 653.5h0M483.7 633.6h0M481.6 648.4h0M486.3 642.3h0M486.8 635.7h0M486.3 654.6h0M471.2 639.5h0M488.6 653.9h0M483.5 632.2h0M478.2 649.9h0M491.7 634.5h0M489 648.2h0M482.6 638.1h0M487.5 638.5h0M478.4 644.8h0M494.2 631.7h0M491.7 630.3h0M498.2 629h0M491.5 639.5h0M474.4 640.3h0M484.5 640.9h0M472.6 644.1h0M480.8 641.5h0M478.9 647.9h0M494.9 640.2h0M492.5 636.7h0M475.1 641.6h0M492.7 636.6h0M473.5 644h0M497 635.5h0M486.4 640.9h0M497.5 637.4h0M487.2 649.9h0M472.2 637.4h0M480.5 632.1h0M473.5 635h0M474.9 644h0M481.9 635.9h0M481.6 646.4h0M495.9 631.3h0M487.2 650.2h0M477.5 643.4h0M474.6 641.5h0M477.6 646.1h0M478.1 636.6h0M489 630.8h0M493.9 643.3h0M475.9 631.7h0" stroke="#ff2f6c" stroke-width="2.2" stroke-linecap="round" fill="none"/>
<path d="M508.4 579.6h0M510.1 575.9h0M507.6 590.7h0M506.5 593.2h0M511.9 572.6h0M510.9 582.7h0M509.5 588.3h0M511.3 570.3h0M506.4 582.8h0M505.8 578.4h0M509.6 568.2h0M508.1 583.7h0M507.4 577.4h0M507.3 585.1h0M510.3 583.8h0M507.5 581.5h0M508.5 570.6h0M508 589.1h0M506.2 586.4h0M506.4 587.7h0M508.1 574.2h0M507.3 588h0M509.7 570.1h0M505.5 581.4h0M506 574.8h0" stroke="#ff2f6c" stroke-width="2.2" stroke-linecap="round" fill="none"/>
<path d="M567.3 598.2h0M561.7 610.6h0M565.6 601.2h0M566 600.7h0M557 617.6h0M556.1 618.4h0M562.6 607.9h0M553.5 620h0M566.1 600.6h0M563.6 605.1h0M557.3 616.8h0M563.2 609.3h0M564.2 604.3h0M558.1 615.8h0" stroke="#ff2f6c" stroke-width="2.2" stroke-linecap="round" fill="none"/>
<path d="M594.8 557.4h0M601 572.7h0M600.6 570h0M599.4 582.3h0M599.1 567.9h0M600.3 578h0M598.6 580.7h0M595.2 552.4h0M598.3 555.8h0M600.3 553.3h0M600.6 554.7h0M597.5 560.2h0M599.8 573.2h0M601.7 561.9h0M594.3 557.6h0M596.5 561.7h0M597.6 582.7h0M600.2 563.5h0M598.1 569.4h0M595 554.1h0M602.3 575.3h0M599.9 558.8h0M597.7 585.4h0M599.4 556.7h0M598.9 567.1h0M600 550h0M594.3 553.4h0M602 553.8h0M596.9 589.8h0M601.9 582.7h0M600.5 575h0M600.2 562.3h0M599.7 566.5h0M600.6 550.1h0M603 565.3h0M601.3 569.2h0M601.4 561.6h0M597.1 551.7h0M602 578.4h0M600.3 575.2h0M601.4 560.4h0M594.2 550h0M600.4 557.5h0M599.4 574.2h0M596.2 550.7h0M600.3 550h0M599.8 570.1h0M597.1 554.6h0M597.4 583.9h0M596.2 560h0M599.2 573.6h0M602.4 571h0M593.5 548.9h0M597.1 587.4h0M599.9 580.7h0M600.7 561.6h0M600.3 557.3h0M598 574.7h0M600.9 555.6h0M601.3 591.8h0M600.5 577.1h0M600.9 571.2h0M598.1 589.3h0M599.2 577.4h0M598.4 570.2h0M600.6 573.7h0M598.1 564.3h0M591.9 548.9h0M600.2 565.8h0M595.5 558.8h0" stroke="#ff87bd" stroke-width="2.2" stroke-linecap="round" fill="none"/>
<path d="M656.5 580.3h0M649.2 591.7h0M653.8 577.6h0M668 596.8h0M645.4 572.3h0M668.3 590.7h0M656.7 597.6h0M672.6 589.2h0M654.9 578.1h0M672.5 592.7h0M644.6 577.4h0M652.2 587.9h0M651.6 583.8h0M651.7 588.9h0M644.2 583h0M661.9 589.9h0M644.7 587.5h0M646.3 579.8h0M661.8 597.9h0M649.4 583.8h0M647 574.5h0M647.8 580.6h0M654 593.6h0M654.3 584.9h0M654.1 594h0M649.8 574.6h0M646.5 580.7h0M649.4 576.9h0M651.7 578h0M650.5 579h0M652.4 594.5h0M667.6 591.7h0M671 590.4h0M644.3 571.8h0M646.1 578.3h0M658.6 595.5h0M644.5 590.3h0M652.7 597.5h0M650.7 573.5h0M649.8 573.1h0M646.9 583.7h0M646.1 589.6h0M644.2 575.8h0M648.8 586.1h0M656.8 587.3h0M665.5 597.7h0M651.4 574.8h0M661.2 594.3h0M644.9 579.4h0M669.8 591.4h0" stroke="#70c1ff" stroke-width="2.2" stroke-linecap="round" fill="none"/>
<path d="M582.9 713.2h0M582.6 720.3h0M580.4 712.7h0M587.1 720.6h0M578.9 712h0M586.3 723.2h0M579.7 704.7h0M582.5 713.2h0M582.7 708.8h0M584.5 720.9h0M585.4 724.7h0M581.7 704.8h0" stroke="#44e254" stroke-width="2.2" stroke-linecap="round" fill="none"/>
<path d="M559.6 347.1h0M561.2 349.7h0M563.2 348h0M552.6 350.8h0M563.4 350.3h0M543.4 347.6h0M542.6 343.9h0M556.2 347.4h0M546.8 349.2h0M541.3 355.7h0M552.4 347.2h0M557.2 347.7h0M541.2 344.5h0M549.4 344.6h0M545.6 345.9h0M539.6 346.7h0M540.6 350.3h0M548 352.4h0M556 351.3h0M548 353.2h0M553.2 349.4h0M553.1 351.6h0M544.6 355h0M563.7 349.7h0M544.2 346.6h0M549.6 347.8h0M564.6 347.6h0M548.2 345.3h0M555.4 353.2h0M542 348.1h0" stroke="#fcb9cb" stroke-width="2.2" stroke-linecap="round" fill="none"/>
<path d="M533.6 731.3h0M535.3 731.5h0M545.8 737.2h0M533.4 728.3h0M539.4 726.3h0M541.7 732.7h0M535.1 724.9h0M543.3 729.7h0M533.8 730.6h0M541 735.6h0M536.2 731.3h0M538.5 731.5h0M536.8 725.6h0M536.3 731.7h0M531.1 726.6h0" stroke="#44e254" stroke-width="2.2" stroke-linecap="round" fill="none"/>
<path d="M487.9 805h0M482.4 803.7h0M484.8 804.5h0M486.5 803.1h0M485.7 808h0M483.3 802.6h0" stroke="#8800a9" stroke-width="2.2" stroke-linecap="round" fill="none"/>
<circle cx="377.4" cy="550.5" r="1.6" fill="#10035c"/>
<circle cx="371.3" cy="558.6" r="1.6" fill="#10035c"/>
<circle cx="418.6" cy="563.9" r="1.6" fill="#10035c"/>
<circle cx="425.7" cy="566.9" r="1.6" fill="#10035c"/>
<circle cx="456.1" cy="553.7" r="1.6" fill="#10035c"/>
<circle cx="456.1" cy="599.2" r="1.6" fill="#10035c"/>
<circle cx="388.5" cy="607.9" r="1.6" fill="#10035c"/>
<circle cx="374.3" cy="629.6" r="1.6" fill="#10035c"/>
<circle cx="369.6" cy="634.3" r="1.6" fill="#10035c"/>
<circle cx="425.1" cy="549" r="1.6" fill="#afbd26"/>
<circle cx="375.9" cy="635.9" r="1.6" fill="#ff2f6c"/>
<circle cx="531.2" cy="715" r="1.6" fill="#ff2f6c"/>
<circle cx="313" cy="591.1" r="1.6" fill="#ff87bd"/>
<circle cx="620.1" cy="450.4" r="1.6" fill="#ff87bd"/>
<circle cx="539.9" cy="355" r="1.6" fill="#70c1ff"/>
<circle cx="544" cy="359.4" r="1.6" fill="#70c1ff"/>
<circle cx="538.9" cy="364.1" r="1.6" fill="#70c1ff"/>
<path d="M217.5 293V860.5M216 859H786" stroke="#444" stroke-width="3.5" fill="none"/>
<path d="M208 316H217M208 407.6H217M208 499.3H217M208 591H217M208 682.5H217M208 774H217M317.3 859V868.5M489 859V868.5M660.8 859V868.5" stroke="#444" stroke-width="3" fill="none"/>
<text x="202" y="321.9" font-size="16.5" text-anchor="end" font-weight="bold">15</text>
<text x="202" y="413.5" font-size="16.5" text-anchor="end" font-weight="bold">10</text>
<text x="202" y="505.2" font-size="16.5" text-anchor="end" font-weight="bold">5</text>
<text x="202" y="596.9" font-size="16.5" text-anchor="end" font-weight="bold">0</text>
<text x="202" y="688.4" font-size="16.5" text-anchor="end" font-weight="bold">− 5</text>
<text x="202" y="779.9" font-size="16.5" text-anchor="end" font-weight="bold">− 10</text>
<text x="313.3" y="892" font-size="16.5" text-anchor="middle" font-weight="bold">− 10</text>
<text x="489" y="892" font-size="16.5" text-anchor="middle" font-weight="bold">0</text>
<text x="660.8" y="892" font-size="16.5" text-anchor="middle" font-weight="bold">10</text>
<text x="456.9" y="931.6" font-size="24" font-weight="bold" textLength="97.5" lengthAdjust="spacingAndGlyphs">UMAP_1</text>
<text font-size="24" text-anchor="middle" font-weight="bold" textLength="97.5" lengthAdjust="spacingAndGlyphs" transform="translate(153.5 570.8) rotate(-90)">UMAP_2</text>
<text x="482.4" y="322.1" font-size="20.7" textLength="143.4" lengthAdjust="spacingAndGlyphs" stroke="#000" stroke-width="0.5">Endothelial Cell</text>
<text x="378.7" y="384" font-size="23" font-weight="bold" textLength="100.2" lengthAdjust="spacingAndGlyphs">Beta Cell</text>
<text x="498.7" y="406.8" font-size="23" font-weight="bold" textLength="104.5" lengthAdjust="spacingAndGlyphs">Mast Cell</text>
<text x="587.6" y="456.9" font-size="23" font-weight="bold" textLength="121.8" lengthAdjust="spacingAndGlyphs">Fibroblasts</text>
<text x="422.4" y="469.8" font-size="23" font-weight="bold" textLength="121" lengthAdjust="spacingAndGlyphs">Acinar Cell</text>
<text x="398.7" y="520.6" font-size="23" font-weight="bold" textLength="122.8" lengthAdjust="spacingAndGlyphs">Ductal Cell</text>
<text x="319.5" y="593.7" font-size="23" font-weight="bold" textLength="66" lengthAdjust="spacingAndGlyphs">T_cell</text>
<text x="727.7" y="559" font-size="23" font-weight="bold" textLength="95.4" lengthAdjust="spacingAndGlyphs">Neurons</text>
<text x="619.7" y="631.4" font-size="23" font-weight="bold" textLength="131.4" lengthAdjust="spacingAndGlyphs">Stellate cell</text>
<text x="294.7" y="704.4" font-size="23" font-weight="bold" textLength="133.4" lengthAdjust="spacingAndGlyphs">Plasma Cell</text>
<text x="400.7" y="774" font-size="23" font-weight="bold" textLength="68.6" lengthAdjust="spacingAndGlyphs">B_cell</text>
<text x="623.1" y="769" font-size="23" font-weight="bold" textLength="140.1" lengthAdjust="spacingAndGlyphs">Macrophage</text>
<text x="424.4" y="851.4" font-size="19" font-weight="bold" textLength="113.6" lengthAdjust="spacingAndGlyphs">Neutrophils</text>
<circle cx="251" cy="1013" r="10.2" fill="#5aa9fd"/>
<text x="284.8" y="1022.3" font-size="24.7" font-weight="bold" textLength="129.1" lengthAdjust="spacingAndGlyphs">Acinar Cell</text>
<circle cx="251" cy="1052.3" r="10.2" fill="#ff2f6c"/>
<text x="284.8" y="1061.6" font-size="24.7" font-weight="bold" textLength="128.3" lengthAdjust="spacingAndGlyphs">Ductal Cell</text>
<circle cx="251" cy="1092.5" r="10.2" fill="#ff87bd"/>
<text x="284.8" y="1101.8" font-size="24.7" font-weight="bold" textLength="133.2" lengthAdjust="spacingAndGlyphs">Fibroblasts</text>
<circle cx="251" cy="1132" r="10.2" fill="#70ffd3"/>
<text x="284.8" y="1141.3" font-size="24.7" font-weight="bold" textLength="108" lengthAdjust="spacingAndGlyphs">Mast Cell</text>
<circle cx="251" cy="1172" r="10.2" fill="#afbd26"/>
<text x="284.8" y="1181.3" font-size="24.7" font-weight="bold" textLength="139.3" lengthAdjust="spacingAndGlyphs">Plasma Cell</text>
<circle cx="456.6" cy="1013" r="10.2" fill="#0a34c7"/>
<text x="491.1" y="1022.3" font-size="24.7" font-weight="bold" textLength="105.6" lengthAdjust="spacingAndGlyphs">Beta Cell</text>
<circle cx="456.6" cy="1052.3" r="10.2" fill="#fcb9cb"/>
<text x="488.3" y="1061.6" font-size="24.7" font-weight="bold" textLength="186.4" lengthAdjust="spacingAndGlyphs">Endothelial Cell</text>
<circle cx="456.6" cy="1092.5" r="10.2" fill="#44e254"/>
<text x="488.3" y="1101.8" font-size="24.7" font-weight="bold" textLength="146.2" lengthAdjust="spacingAndGlyphs">Macrophage</text>
<circle cx="456.6" cy="1132" r="10.2" fill="#e535fe"/>
<text x="489.1" y="1141.3" font-size="24.7" font-weight="bold" textLength="99.5" lengthAdjust="spacingAndGlyphs">Neurons</text>
<circle cx="456.6" cy="1172" r="10.2" fill="#70c1ff"/>
<text x="489.1" y="1181.3" font-size="24.7" font-weight="bold" textLength="136.9" lengthAdjust="spacingAndGlyphs">Stellate cell</text>
<circle cx="695.4" cy="1012" r="10.2" fill="#e9de0c"/>
<text x="719.7" y="1022.3" font-size="24.7" font-weight="bold" textLength="79.2" lengthAdjust="spacingAndGlyphs">B_ce ll</text>
<circle cx="695.4" cy="1056" r="10.2" fill="#8800a9"/>
<text x="722.6" y="1065.7" font-size="24.7" font-weight="bold" textLength="137.3" lengthAdjust="spacingAndGlyphs">Neutrophils</text>
<circle cx="695.4" cy="1102" r="10.2" fill="#10035c"/>
<text x="720.6" y="1107.6" font-size="24.7" font-weight="bold" textLength="68.2" lengthAdjust="spacingAndGlyphs">T_cell</text>
<text x="1119.3" y="112.4" font-size="87.6">B</text>
<path d="M1291.2 157V2739.8M1289.5 2738H1861.5" stroke="#000" stroke-width="4.4" fill="none"/>
<path d="M1283 188.8H1291M1283 238.2H1291M1283 287.7H1291M1283 337.1H1291M1283 386.5H1291M1283 436H1291M1283 485.4H1291M1283 534.8H1291M1283 584.2H1291M1283 633.7H1291M1283 683.1H1291M1283 732.5H1291M1283 782H1291M1283 831.4H1291M1283 880.8H1291M1283 930.2H1291M1283 979.7H1291M1283 1029.1H1291M1283 1078.5H1291M1283 1128H1291M1283 1177.4H1291M1283 1226.8H1291M1283 1276.3H1291M1283 1325.7H1291M1283 1375.1H1291M1283 1424.5H1291M1283 1474H1291M1283 1523.4H1291M1283 1572.8H1291M1283 1622.3H1291M1283 1671.7H1291M1283 1721.1H1291M1283 1770.6H1291M1283 1820H1291M1283 1869.4H1291M1283 1918.8H1291M1283 1968.3H1291M1283 2017.7H1291M1283 2067.1H1291M1283 2116.6H1291M1283 2166H1291M1283 2215.4H1291M1283 2264.9H1291M1283 2314.3H1291M1283 2363.7H1291M1283 2413.2H1291M1283 2462.6H1291M1283 2512H1291M1283 2561.4H1291M1283 2610.9H1291M1283 2660.3H1291M1283 2709.7H1291M1312.2 2738V2745M1347.8 2738V2745M1383.3 2738V2745M1418.9 2738V2745M1454.4 2738V2745M1490 2738V2745M1525.5 2738V2745M1561 2738V2745M1596.6 2738V2745M1632.2 2738V2745M1667.7 2738V2745M1703.2 2738V2745M1738.8 2738V2745" stroke="#000" stroke-width="3.8" fill="none"/>
<text x="1271" y="196.3" font-size="19.8" text-anchor="end" textLength="71.4" lengthAdjust="spacingAndGlyphs" fill="#111" stroke="#111" stroke-width="0.35">PRSS2</text>
<text x="1271" y="245.7" font-size="19.8" text-anchor="end" textLength="83.5" lengthAdjust="spacingAndGlyphs" fill="#111" stroke="#111" stroke-width="0.35">CELA3A</text>
<text x="1271" y="295.2" font-size="19.8" text-anchor="end" textLength="73.8" lengthAdjust="spacingAndGlyphs" fill="#111" stroke="#111" stroke-width="0.35">REG1A</text>
<text x="1271" y="344.6" font-size="19.8" text-anchor="end" textLength="71.4" lengthAdjust="spacingAndGlyphs" fill="#111" stroke="#111" stroke-width="0.35">PRSS1</text>
<text x="1271" y="394" font-size="19.8" text-anchor="end" textLength="49.6" lengthAdjust="spacingAndGlyphs" fill="#111" stroke="#111" stroke-width="0.35">GCG</text>
<text x="1271" y="443.5" font-size="19.8" text-anchor="end" textLength="42.3" lengthAdjust="spacingAndGlyphs" fill="#111" stroke="#111" stroke-width="0.35">TTR</text>
<text x="1271" y="492.9" font-size="19.8" text-anchor="end" textLength="62.9" lengthAdjust="spacingAndGlyphs" fill="#111" stroke="#111" stroke-width="0.35">CHGB</text>
<text x="1271" y="542.3" font-size="19.8" text-anchor="end" textLength="87.2" lengthAdjust="spacingAndGlyphs" fill="#111" stroke="#111" stroke-width="0.35">PCSK1N</text>
<text x="1271" y="591.7" font-size="19.8" text-anchor="end" textLength="125.9" lengthAdjust="spacingAndGlyphs" fill="#111" stroke="#111" stroke-width="0.35">TNFRSF13C</text>
<text x="1271" y="641.2" font-size="19.8" text-anchor="end" textLength="37.1" lengthAdjust="spacingAndGlyphs" fill="#111" stroke="#111" stroke-width="0.35">LY9</text>
<text x="1271" y="690.6" font-size="19.8" text-anchor="end" textLength="71.4" lengthAdjust="spacingAndGlyphs" fill="#111" stroke="#111" stroke-width="0.35">BANK1</text>
<text x="1271" y="740" font-size="19.8" text-anchor="end" textLength="71.4" lengthAdjust="spacingAndGlyphs" fill="#111" stroke="#111" stroke-width="0.35">MS4A1</text>
<text x="1271" y="789.5" font-size="19.8" text-anchor="end" textLength="73.8" lengthAdjust="spacingAndGlyphs" fill="#111" stroke="#111" stroke-width="0.35">NRXN1</text>
<text x="1271" y="838.9" font-size="19.8" text-anchor="end" textLength="62.9" lengthAdjust="spacingAndGlyphs" fill="#111" stroke="#111" stroke-width="0.35">ITGB8</text>
<text x="1271" y="888.3" font-size="19.8" text-anchor="end" textLength="73" lengthAdjust="spacingAndGlyphs" fill="#111" stroke="#111" stroke-width="0.35">CRYAB</text>
<text x="1271" y="937.8" font-size="19.8" text-anchor="end" textLength="71.4" lengthAdjust="spacingAndGlyphs" fill="#111" stroke="#111" stroke-width="0.35">CDH19</text>
<text x="1271" y="987.2" font-size="19.8" text-anchor="end" textLength="55.7" lengthAdjust="spacingAndGlyphs" fill="#111" stroke="#111" stroke-width="0.35">XBP1</text>
<text x="1271" y="1036.6" font-size="19.8" text-anchor="end" textLength="58.1" lengthAdjust="spacingAndGlyphs" fill="#111" stroke="#111" stroke-width="0.35">MZB1</text>
<text x="1271" y="1086" font-size="19.8" text-anchor="end" textLength="53.2" lengthAdjust="spacingAndGlyphs" fill="#111" stroke="#111" stroke-width="0.35">IGKC</text>
<text x="1271" y="1135.5" font-size="19.8" text-anchor="end" textLength="78.7" lengthAdjust="spacingAndGlyphs" fill="#111" stroke="#111" stroke-width="0.35">JCHAIN</text>
<text x="1271" y="1184.9" font-size="19.8" text-anchor="end" textLength="33.9" lengthAdjust="spacingAndGlyphs" fill="#111" stroke="#111" stroke-width="0.35">KIT</text>
<text x="1271" y="1234.3" font-size="19.8" text-anchor="end" textLength="55.3" lengthAdjust="spacingAndGlyphs" fill="#111" stroke="#111" stroke-width="0.35">CPA3</text>
<text x="1271" y="1283.8" font-size="19.8" text-anchor="end" textLength="69" lengthAdjust="spacingAndGlyphs" fill="#111" stroke="#111" stroke-width="0.35">TPSB2</text>
<text x="1271" y="1333.2" font-size="19.8" text-anchor="end" textLength="83.5" lengthAdjust="spacingAndGlyphs" fill="#111" stroke="#111" stroke-width="0.35">TPSAB1</text>
<text x="1271" y="1382.6" font-size="19.8" text-anchor="end" textLength="87.2" lengthAdjust="spacingAndGlyphs" fill="#111" stroke="#111" stroke-width="0.35">ADGRL4</text>
<text x="1271" y="1432" font-size="19.8" text-anchor="end" textLength="89.6" lengthAdjust="spacingAndGlyphs" fill="#111" stroke="#111" stroke-width="0.35">PECAM1</text>
<text x="1271" y="1481.5" font-size="19.8" text-anchor="end" textLength="48.4" lengthAdjust="spacingAndGlyphs" fill="#111" stroke="#111" stroke-width="0.35">VWF</text>
<text x="1271" y="1530.9" font-size="19.8" text-anchor="end" textLength="67" lengthAdjust="spacingAndGlyphs" fill="#111" stroke="#111" stroke-width="0.35">PLVAP</text>
<text x="1271" y="1580.3" font-size="19.8" text-anchor="end" textLength="64.1" lengthAdjust="spacingAndGlyphs" fill="#111" stroke="#111" stroke-width="0.35">MNDA</text>
<text x="1271" y="1629.8" font-size="19.8" text-anchor="end" textLength="70.2" lengthAdjust="spacingAndGlyphs" fill="#111" stroke="#111" stroke-width="0.35">CXCL8</text>
<text x="1271" y="1679.2" font-size="19.8" text-anchor="end" textLength="55.7" lengthAdjust="spacingAndGlyphs" fill="#111" stroke="#111" stroke-width="0.35">G0S2</text>
<text x="1271" y="1728.6" font-size="19.8" text-anchor="end" textLength="77.5" lengthAdjust="spacingAndGlyphs" fill="#111" stroke="#111" stroke-width="0.35">S100A8</text>
<text x="1271" y="1778.1" font-size="19.8" text-anchor="end" textLength="71" lengthAdjust="spacingAndGlyphs" fill="#111" stroke="#111" stroke-width="0.35">MYH11</text>
<text x="1271" y="1827.5" font-size="19.8" text-anchor="end" textLength="59.3" lengthAdjust="spacingAndGlyphs" fill="#111" stroke="#111" stroke-width="0.35">RGS5</text>
<text x="1271" y="1876.9" font-size="19.8" text-anchor="end" textLength="65.3" lengthAdjust="spacingAndGlyphs" fill="#111" stroke="#111" stroke-width="0.35">ADIRF</text>
<text x="1271" y="1926.3" font-size="19.8" text-anchor="end" textLength="88" lengthAdjust="spacingAndGlyphs" fill="#111" stroke="#111" stroke-width="0.35">C11orf96</text>
<text x="1271" y="1975.8" font-size="19.8" text-anchor="end" textLength="46" lengthAdjust="spacingAndGlyphs" fill="#111" stroke="#111" stroke-width="0.35">IL7R</text>
<text x="1271" y="2025.2" font-size="19.8" text-anchor="end" textLength="55.7" lengthAdjust="spacingAndGlyphs" fill="#111" stroke="#111" stroke-width="0.35">CCL5</text>
<text x="1271" y="2074.6" font-size="19.8" text-anchor="end" textLength="43.6" lengthAdjust="spacingAndGlyphs" fill="#111" stroke="#111" stroke-width="0.35">CD2</text>
<text x="1271" y="2124.1" font-size="19.8" text-anchor="end" textLength="58.1" lengthAdjust="spacingAndGlyphs" fill="#111" stroke="#111" stroke-width="0.35">CD3E</text>
<text x="1271" y="2173.5" font-size="19.8" text-anchor="end" textLength="60.5" lengthAdjust="spacingAndGlyphs" fill="#111" stroke="#111" stroke-width="0.35">APOE</text>
<text x="1271" y="2222.9" font-size="19.8" text-anchor="end" textLength="55.7" lengthAdjust="spacingAndGlyphs" fill="#111" stroke="#111" stroke-width="0.35">CD14</text>
<text x="1271" y="2272.4" font-size="19.8" text-anchor="end" textLength="61.7" lengthAdjust="spacingAndGlyphs" fill="#111" stroke="#111" stroke-width="0.35">MRC1</text>
<text x="1271" y="2321.8" font-size="19.8" text-anchor="end" textLength="55.7" lengthAdjust="spacingAndGlyphs" fill="#111" stroke="#111" stroke-width="0.35">CD68</text>
<text x="1271" y="2371.2" font-size="19.8" text-anchor="end" textLength="55.7" lengthAdjust="spacingAndGlyphs" fill="#111" stroke="#111" stroke-width="0.35">LCN2</text>
<text x="1271" y="2420.7" font-size="19.8" text-anchor="end" textLength="52" lengthAdjust="spacingAndGlyphs" fill="#111" stroke="#111" stroke-width="0.35">TFF1</text>
<text x="1271" y="2470.1" font-size="19.8" text-anchor="end" textLength="70.2" lengthAdjust="spacingAndGlyphs" fill="#111" stroke="#111" stroke-width="0.35">FXYD3</text>
<text x="1271" y="2519.5" font-size="19.8" text-anchor="end" textLength="67.4" lengthAdjust="spacingAndGlyphs" fill="#111" stroke="#111" stroke-width="0.35">KRT19</text>
<text x="1271" y="2568.9" font-size="19.8" text-anchor="end" textLength="83.5" lengthAdjust="spacingAndGlyphs" fill="#111" stroke="#111" stroke-width="0.35">COL1A1</text>
<text x="1271" y="2618.4" font-size="19.8" text-anchor="end" textLength="47.2" lengthAdjust="spacingAndGlyphs" fill="#111" stroke="#111" stroke-width="0.35">DCN</text>
<text x="1271" y="2667.8" font-size="19.8" text-anchor="end" textLength="70.2" lengthAdjust="spacingAndGlyphs" fill="#111" stroke="#111" stroke-width="0.35">SFRP2</text>
<text x="1271" y="2717.2" font-size="19.8" text-anchor="end" textLength="46" lengthAdjust="spacingAndGlyphs" fill="#111" stroke="#111" stroke-width="0.35">LUM</text>
<g fill="#cfc9f7"><ellipse cx="1312.2" cy="188.8" rx="2.1" ry="1.8"/><ellipse cx="1347.8" cy="188.8" rx="2.1" ry="1.8"/><ellipse cx="1383.3" cy="188.8" rx="2.1" ry="1.8"/><ellipse cx="1418.9" cy="188.8" rx="2.1" ry="1.8"/><ellipse cx="1454.4" cy="188.8" rx="2.1" ry="1.8"/><ellipse cx="1490" cy="188.8" rx="2.1" ry="1.8"/><ellipse cx="1525.5" cy="188.8" rx="2.1" ry="1.8"/><ellipse cx="1561" cy="188.8" rx="2.1" ry="1.8"/><ellipse cx="1596.6" cy="188.8" rx="2.1" ry="1.8"/><ellipse cx="1632.2" cy="188.8" rx="2.1" ry="1.8"/><ellipse cx="1667.7" cy="188.8" rx="2.1" ry="1.8"/><ellipse cx="1738.8" cy="188.8" rx="2.1" ry="1.8"/><ellipse cx="1312.2" cy="238.2" rx="2.1" ry="1.8"/><ellipse cx="1347.8" cy="238.2" rx="2.1" ry="1.8"/><ellipse cx="1383.3" cy="238.2" rx="2.1" ry="1.8"/><ellipse cx="1418.9" cy="238.2" rx="2.1" ry="1.8"/><ellipse cx="1454.4" cy="238.2" rx="2.1" ry="1.8"/><ellipse cx="1490" cy="238.2" rx="2.1" ry="1.8"/><ellipse cx="1525.5" cy="238.2" rx="2.1" ry="1.8"/><ellipse cx="1561" cy="238.2" rx="2.1" ry="1.8"/><ellipse cx="1596.6" cy="238.2" rx="2.1" ry="1.8"/><ellipse cx="1632.2" cy="238.2" rx="2.1" ry="1.8"/><ellipse cx="1667.7" cy="238.2" rx="2.1" ry="1.8"/><ellipse cx="1738.8" cy="238.2" rx="2.1" ry="1.8"/><ellipse cx="1312.2" cy="287.7" rx="2.1" ry="1.8"/><ellipse cx="1383.3" cy="287.7" rx="2.1" ry="1.8"/><ellipse cx="1418.9" cy="287.7" rx="2.1" ry="1.8"/><ellipse cx="1454.4" cy="287.7" rx="2.1" ry="1.8"/><ellipse cx="1490" cy="287.7" rx="2.1" ry="1.8"/><ellipse cx="1525.5" cy="287.7" rx="2.1" ry="1.8"/><ellipse cx="1561" cy="287.7" rx="2.1" ry="1.8"/><ellipse cx="1632.2" cy="287.7" rx="2.1" ry="1.8"/><ellipse cx="1667.7" cy="287.7" rx="2.1" ry="1.8"/><ellipse cx="1738.8" cy="287.7" rx="2.1" ry="1.8"/><ellipse cx="1312.2" cy="337.1" rx="2.1" ry="1.8"/><ellipse cx="1347.8" cy="337.1" rx="2.1" ry="1.8"/><ellipse cx="1383.3" cy="337.1" rx="2.1" ry="1.8"/><ellipse cx="1418.9" cy="337.1" rx="2.1" ry="1.8"/><ellipse cx="1454.4" cy="337.1" rx="2.1" ry="1.8"/><ellipse cx="1490" cy="337.1" rx="2.1" ry="1.8"/><ellipse cx="1525.5" cy="337.1" rx="2.1" ry="1.8"/><ellipse cx="1561" cy="337.1" rx="2.1" ry="1.8"/><ellipse cx="1596.6" cy="337.1" rx="2.1" ry="1.8"/><ellipse cx="1632.2" cy="337.1" rx="2.1" ry="1.8"/><ellipse cx="1667.7" cy="337.1" rx="2.1" ry="1.8"/><ellipse cx="1738.8" cy="337.1" rx="2.1" ry="1.8"/><ellipse cx="1312.2" cy="386.5" rx="2.1" ry="1.8"/><ellipse cx="1347.8" cy="386.5" rx="2.1" ry="1.8"/><ellipse cx="1383.3" cy="386.5" rx="2.1" ry="1.8"/><ellipse cx="1418.9" cy="386.5" rx="2.1" ry="1.8"/><ellipse cx="1490" cy="386.5" rx="2.1" ry="1.8"/><ellipse cx="1525.5" cy="386.5" rx="2.1" ry="1.8"/><ellipse cx="1561" cy="386.5" rx="2.1" ry="1.8"/><ellipse cx="1596.6" cy="386.5" rx="2.1" ry="1.8"/><ellipse cx="1632.2" cy="386.5" rx="2.1" ry="1.8"/><ellipse cx="1667.7" cy="386.5" rx="2.1" ry="1.8"/><ellipse cx="1703.2" cy="386.5" rx="2.1" ry="1.8"/><ellipse cx="1738.8" cy="386.5" rx="2.1" ry="1.8"/><ellipse cx="1312.2" cy="436" rx="2.1" ry="1.8"/><ellipse cx="1347.8" cy="436" rx="2.1" ry="1.8"/><ellipse cx="1383.3" cy="436" rx="2.1" ry="1.8"/><ellipse cx="1418.9" cy="436" rx="2.1" ry="1.8"/><ellipse cx="1490" cy="436" rx="2.1" ry="1.8"/><ellipse cx="1525.5" cy="436" rx="2.1" ry="1.8"/><ellipse cx="1561" cy="436" rx="2.1" ry="1.8"/><ellipse cx="1596.6" cy="436" rx="2.1" ry="1.8"/><ellipse cx="1632.2" cy="436" rx="2.1" ry="1.8"/><ellipse cx="1667.7" cy="436" rx="2.1" ry="1.8"/><ellipse cx="1703.2" cy="436" rx="2.1" ry="1.8"/><ellipse cx="1738.8" cy="436" rx="2.1" ry="1.8"/><ellipse cx="1312.2" cy="485.4" rx="2.1" ry="1.8"/><ellipse cx="1347.8" cy="485.4" rx="2.1" ry="1.8"/><ellipse cx="1383.3" cy="485.4" rx="2.1" ry="1.8"/><ellipse cx="1418.9" cy="485.4" rx="2.1" ry="1.8"/><ellipse cx="1490" cy="485.4" rx="2.1" ry="1.8"/><ellipse cx="1525.5" cy="485.4" rx="2.1" ry="1.8"/><ellipse cx="1561" cy="485.4" rx="2.1" ry="1.8"/><ellipse cx="1596.6" cy="485.4" rx="2.1" ry="1.8"/><ellipse cx="1632.2" cy="485.4" rx="2.1" ry="1.8"/><ellipse cx="1667.7" cy="485.4" rx="2.1" ry="1.8"/><ellipse cx="1703.2" cy="485.4" rx="2.1" ry="1.8"/><ellipse cx="1738.8" cy="485.4" rx="2.1" ry="1.8"/><ellipse cx="1312.2" cy="534.8" rx="2.1" ry="1.8"/><ellipse cx="1347.8" cy="534.8" rx="2.1" ry="1.8"/><ellipse cx="1383.3" cy="534.8" rx="2.1" ry="1.8"/><ellipse cx="1418.9" cy="534.8" rx="2.1" ry="1.8"/><ellipse cx="1490" cy="534.8" rx="2.1" ry="1.8"/><ellipse cx="1525.5" cy="534.8" rx="2.1" ry="1.8"/><ellipse cx="1561" cy="534.8" rx="2.1" ry="1.8"/><ellipse cx="1632.2" cy="534.8" rx="2.1" ry="1.8"/><ellipse cx="1667.7" cy="534.8" rx="2.1" ry="1.8"/><ellipse cx="1703.2" cy="534.8" rx="2.1" ry="1.8"/><ellipse cx="1738.8" cy="534.8" rx="2.1" ry="1.8"/><ellipse cx="1312.2" cy="584.2" rx="2.1" ry="1.8"/><ellipse cx="1347.8" cy="584.2" rx="2.1" ry="1.8"/><ellipse cx="1418.9" cy="584.2" rx="2.1" ry="1.8"/><ellipse cx="1454.4" cy="584.2" rx="2.1" ry="1.8"/><ellipse cx="1490" cy="584.2" rx="2.1" ry="1.8"/><ellipse cx="1525.5" cy="584.2" rx="2.1" ry="1.8"/><ellipse cx="1561" cy="584.2" rx="2.1" ry="1.8"/><ellipse cx="1596.6" cy="584.2" rx="2.1" ry="1.8"/><ellipse cx="1632.2" cy="584.2" rx="2.1" ry="1.8"/><ellipse cx="1667.7" cy="584.2" rx="2.1" ry="1.8"/><ellipse cx="1703.2" cy="584.2" rx="2.1" ry="1.8"/><ellipse cx="1312.2" cy="633.7" rx="2.1" ry="1.8"/><ellipse cx="1347.8" cy="633.7" rx="2.1" ry="1.8"/><ellipse cx="1418.9" cy="633.7" rx="2.1" ry="1.8"/><ellipse cx="1454.4" cy="633.7" rx="2.1" ry="1.8"/><ellipse cx="1490" cy="633.7" rx="2.1" ry="1.8"/><ellipse cx="1525.5" cy="633.7" rx="2.1" ry="1.8"/><ellipse cx="1596.6" cy="633.7" rx="2.1" ry="1.8"/><ellipse cx="1632.2" cy="633.7" rx="2.1" ry="1.8"/><ellipse cx="1667.7" cy="633.7" rx="2.1" ry="1.8"/><ellipse cx="1703.2" cy="633.7" rx="2.1" ry="1.8"/><ellipse cx="1312.2" cy="683.1" rx="2.1" ry="1.8"/><ellipse cx="1490" cy="683.1" rx="2.1" ry="1.8"/><ellipse cx="1525.5" cy="683.1" rx="2.1" ry="1.8"/><ellipse cx="1561" cy="683.1" rx="2.1" ry="1.8"/><ellipse cx="1596.6" cy="683.1" rx="2.1" ry="1.8"/><ellipse cx="1632.2" cy="683.1" rx="2.1" ry="1.8"/><ellipse cx="1667.7" cy="683.1" rx="2.1" ry="1.8"/><ellipse cx="1703.2" cy="683.1" rx="2.1" ry="1.8"/><ellipse cx="1312.2" cy="732.5" rx="2.1" ry="1.8"/><ellipse cx="1347.8" cy="732.5" rx="2.1" ry="1.8"/><ellipse cx="1383.3" cy="732.5" rx="2.1" ry="1.8"/><ellipse cx="1418.9" cy="732.5" rx="2.1" ry="1.8"/><ellipse cx="1454.4" cy="732.5" rx="2.1" ry="1.8"/><ellipse cx="1490" cy="732.5" rx="2.1" ry="1.8"/><ellipse cx="1525.5" cy="732.5" rx="2.1" ry="1.8"/><ellipse cx="1561" cy="732.5" rx="2.1" ry="1.8"/><ellipse cx="1596.6" cy="732.5" rx="2.1" ry="1.8"/><ellipse cx="1632.2" cy="732.5" rx="2.1" ry="1.8"/><ellipse cx="1667.7" cy="732.5" rx="2.1" ry="1.8"/><ellipse cx="1703.2" cy="732.5" rx="2.1" ry="1.8"/><ellipse cx="1312.2" cy="782" rx="2.1" ry="1.8"/><ellipse cx="1347.8" cy="782" rx="2.1" ry="1.8"/><ellipse cx="1383.3" cy="782" rx="2.1" ry="1.8"/><ellipse cx="1418.9" cy="782" rx="2.1" ry="1.8"/><ellipse cx="1490" cy="782" rx="2.1" ry="1.8"/><ellipse cx="1525.5" cy="782" rx="2.1" ry="1.8"/><ellipse cx="1561" cy="782" rx="2.1" ry="1.8"/><ellipse cx="1596.6" cy="782" rx="2.1" ry="1.8"/><ellipse cx="1632.2" cy="782" rx="2.1" ry="1.8"/><ellipse cx="1703.2" cy="782" rx="2.1" ry="1.8"/><ellipse cx="1738.8" cy="782" rx="2.1" ry="1.8"/><ellipse cx="1312.2" cy="880.8" rx="2.1" ry="1.8"/><ellipse cx="1561" cy="880.8" rx="2.1" ry="1.8"/><ellipse cx="1738.8" cy="880.8" rx="2.1" ry="1.8"/><ellipse cx="1312.2" cy="930.2" rx="2.1" ry="1.8"/><ellipse cx="1347.8" cy="930.2" rx="2.1" ry="1.8"/><ellipse cx="1383.3" cy="930.2" rx="2.1" ry="1.8"/><ellipse cx="1418.9" cy="930.2" rx="2.1" ry="1.8"/><ellipse cx="1454.4" cy="930.2" rx="2.1" ry="1.8"/><ellipse cx="1490" cy="930.2" rx="2.1" ry="1.8"/><ellipse cx="1525.5" cy="930.2" rx="2.1" ry="1.8"/><ellipse cx="1561" cy="930.2" rx="2.1" ry="1.8"/><ellipse cx="1596.6" cy="930.2" rx="2.1" ry="1.8"/><ellipse cx="1632.2" cy="930.2" rx="2.1" ry="1.8"/><ellipse cx="1703.2" cy="930.2" rx="2.1" ry="1.8"/><ellipse cx="1738.8" cy="930.2" rx="2.1" ry="1.8"/><ellipse cx="1312.2" cy="1029.1" rx="2.1" ry="1.8"/><ellipse cx="1347.8" cy="1029.1" rx="2.1" ry="1.8"/><ellipse cx="1418.9" cy="1029.1" rx="2.1" ry="1.8"/><ellipse cx="1454.4" cy="1029.1" rx="2.1" ry="1.8"/><ellipse cx="1490" cy="1029.1" rx="2.1" ry="1.8"/><ellipse cx="1525.5" cy="1029.1" rx="2.1" ry="1.8"/><ellipse cx="1561" cy="1029.1" rx="2.1" ry="1.8"/><ellipse cx="1596.6" cy="1029.1" rx="2.1" ry="1.8"/><ellipse cx="1632.2" cy="1029.1" rx="2.1" ry="1.8"/><ellipse cx="1667.7" cy="1029.1" rx="2.1" ry="1.8"/><ellipse cx="1703.2" cy="1029.1" rx="2.1" ry="1.8"/><ellipse cx="1703.2" cy="1128" rx="2.1" ry="1.8"/><ellipse cx="1312.2" cy="1177.4" rx="2.1" ry="1.8"/><ellipse cx="1347.8" cy="1177.4" rx="2.1" ry="1.8"/><ellipse cx="1383.3" cy="1177.4" rx="2.1" ry="1.8"/><ellipse cx="1418.9" cy="1177.4" rx="2.1" ry="1.8"/><ellipse cx="1454.4" cy="1177.4" rx="2.1" ry="1.8"/><ellipse cx="1525.5" cy="1177.4" rx="2.1" ry="1.8"/><ellipse cx="1561" cy="1177.4" rx="2.1" ry="1.8"/><ellipse cx="1596.6" cy="1177.4" rx="2.1" ry="1.8"/><ellipse cx="1667.7" cy="1177.4" rx="2.1" ry="1.8"/><ellipse cx="1703.2" cy="1177.4" rx="2.1" ry="1.8"/><ellipse cx="1738.8" cy="1177.4" rx="2.1" ry="1.8"/><ellipse cx="1312.2" cy="1226.8" rx="2.1" ry="1.8"/><ellipse cx="1347.8" cy="1226.8" rx="2.1" ry="1.8"/><ellipse cx="1383.3" cy="1226.8" rx="2.1" ry="1.8"/><ellipse cx="1418.9" cy="1226.8" rx="2.1" ry="1.8"/><ellipse cx="1454.4" cy="1226.8" rx="2.1" ry="1.8"/><ellipse cx="1525.5" cy="1226.8" rx="2.1" ry="1.8"/><ellipse cx="1561" cy="1226.8" rx="2.1" ry="1.8"/><ellipse cx="1596.6" cy="1226.8" rx="2.1" ry="1.8"/><ellipse cx="1632.2" cy="1226.8" rx="2.1" ry="1.8"/><ellipse cx="1667.7" cy="1226.8" rx="2.1" ry="1.8"/><ellipse cx="1703.2" cy="1226.8" rx="2.1" ry="1.8"/><ellipse cx="1738.8" cy="1226.8" rx="2.1" ry="1.8"/><ellipse cx="1312.2" cy="1276.3" rx="2.1" ry="1.8"/><ellipse cx="1347.8" cy="1276.3" rx="2.1" ry="1.8"/><ellipse cx="1383.3" cy="1276.3" rx="2.1" ry="1.8"/><ellipse cx="1418.9" cy="1276.3" rx="2.1" ry="1.8"/><ellipse cx="1454.4" cy="1276.3" rx="2.1" ry="1.8"/><ellipse cx="1525.5" cy="1276.3" rx="2.1" ry="1.8"/><ellipse cx="1561" cy="1276.3" rx="2.1" ry="1.8"/><ellipse cx="1596.6" cy="1276.3" rx="2.1" ry="1.8"/><ellipse cx="1632.2" cy="1276.3" rx="2.1" ry="1.8"/><ellipse cx="1667.7" cy="1276.3" rx="2.1" ry="1.8"/><ellipse cx="1703.2" cy="1276.3" rx="2.1" ry="1.8"/><ellipse cx="1738.8" cy="1276.3" rx="2.1" ry="1.8"/><ellipse cx="1312.2" cy="1325.7" rx="2.1" ry="1.8"/><ellipse cx="1347.8" cy="1325.7" rx="2.1" ry="1.8"/><ellipse cx="1383.3" cy="1325.7" rx="2.1" ry="1.8"/><ellipse cx="1418.9" cy="1325.7" rx="2.1" ry="1.8"/><ellipse cx="1454.4" cy="1325.7" rx="2.1" ry="1.8"/><ellipse cx="1525.5" cy="1325.7" rx="2.1" ry="1.8"/><ellipse cx="1561" cy="1325.7" rx="2.1" ry="1.8"/><ellipse cx="1596.6" cy="1325.7" rx="2.1" ry="1.8"/><ellipse cx="1632.2" cy="1325.7" rx="2.1" ry="1.8"/><ellipse cx="1667.7" cy="1325.7" rx="2.1" ry="1.8"/><ellipse cx="1703.2" cy="1325.7" rx="2.1" ry="1.8"/><ellipse cx="1738.8" cy="1325.7" rx="2.1" ry="1.8"/><ellipse cx="1312.2" cy="1375.1" rx="2.1" ry="1.8"/><ellipse cx="1347.8" cy="1375.1" rx="2.1" ry="1.8"/><ellipse cx="1383.3" cy="1375.1" rx="2.1" ry="1.8"/><ellipse cx="1418.9" cy="1375.1" rx="2.1" ry="1.8"/><ellipse cx="1454.4" cy="1375.1" rx="2.1" ry="1.8"/><ellipse cx="1490" cy="1375.1" rx="2.1" ry="1.8"/><ellipse cx="1561" cy="1375.1" rx="2.1" ry="1.8"/><ellipse cx="1667.7" cy="1375.1" rx="2.1" ry="1.8"/><ellipse cx="1703.2" cy="1375.1" rx="2.1" ry="1.8"/><ellipse cx="1738.8" cy="1375.1" rx="2.1" ry="1.8"/><ellipse cx="1347.8" cy="1424.5" rx="2.1" ry="1.8"/><ellipse cx="1454.4" cy="1424.5" rx="2.1" ry="1.8"/><ellipse cx="1490" cy="1424.5" rx="2.1" ry="1.8"/><ellipse cx="1525.5" cy="1424.5" rx="2.1" ry="1.8"/><ellipse cx="1561" cy="1424.5" rx="2.1" ry="1.8"/><ellipse cx="1596.6" cy="1424.5" rx="2.1" ry="1.8"/><ellipse cx="1667.7" cy="1424.5" rx="2.1" ry="1.8"/><ellipse cx="1703.2" cy="1424.5" rx="2.1" ry="1.8"/><ellipse cx="1312.2" cy="1474" rx="2.1" ry="1.8"/><ellipse cx="1347.8" cy="1474" rx="2.1" ry="1.8"/><ellipse cx="1383.3" cy="1474" rx="2.1" ry="1.8"/><ellipse cx="1418.9" cy="1474" rx="2.1" ry="1.8"/><ellipse cx="1454.4" cy="1474" rx="2.1" ry="1.8"/><ellipse cx="1490" cy="1474" rx="2.1" ry="1.8"/><ellipse cx="1525.5" cy="1474" rx="2.1" ry="1.8"/><ellipse cx="1561" cy="1474" rx="2.1" ry="1.8"/><ellipse cx="1596.6" cy="1474" rx="2.1" ry="1.8"/><ellipse cx="1667.7" cy="1474" rx="2.1" ry="1.8"/><ellipse cx="1703.2" cy="1474" rx="2.1" ry="1.8"/><ellipse cx="1738.8" cy="1474" rx="2.1" ry="1.8"/><ellipse cx="1312.2" cy="1523.4" rx="2.1" ry="1.8"/><ellipse cx="1347.8" cy="1523.4" rx="2.1" ry="1.8"/><ellipse cx="1383.3" cy="1523.4" rx="2.1" ry="1.8"/><ellipse cx="1418.9" cy="1523.4" rx="2.1" ry="1.8"/><ellipse cx="1454.4" cy="1523.4" rx="2.1" ry="1.8"/><ellipse cx="1490" cy="1523.4" rx="2.1" ry="1.8"/><ellipse cx="1525.5" cy="1523.4" rx="2.1" ry="1.8"/><ellipse cx="1561" cy="1523.4" rx="2.1" ry="1.8"/><ellipse cx="1596.6" cy="1523.4" rx="2.1" ry="1.8"/><ellipse cx="1667.7" cy="1523.4" rx="2.1" ry="1.8"/><ellipse cx="1703.2" cy="1523.4" rx="2.1" ry="1.8"/><ellipse cx="1738.8" cy="1523.4" rx="2.1" ry="1.8"/><ellipse cx="1347.8" cy="1572.8" rx="2.1" ry="1.8"/><ellipse cx="1383.3" cy="1572.8" rx="2.1" ry="1.8"/><ellipse cx="1454.4" cy="1572.8" rx="2.1" ry="1.8"/><ellipse cx="1490" cy="1572.8" rx="2.1" ry="1.8"/><ellipse cx="1525.5" cy="1572.8" rx="2.1" ry="1.8"/><ellipse cx="1561" cy="1572.8" rx="2.1" ry="1.8"/><ellipse cx="1596.6" cy="1572.8" rx="2.1" ry="1.8"/><ellipse cx="1632.2" cy="1572.8" rx="2.1" ry="1.8"/><ellipse cx="1667.7" cy="1572.8" rx="2.1" ry="1.8"/><ellipse cx="1703.2" cy="1572.8" rx="2.1" ry="1.8"/><ellipse cx="1738.8" cy="1572.8" rx="2.1" ry="1.8"/><ellipse cx="1347.8" cy="1671.7" rx="2.1" ry="1.8"/><ellipse cx="1383.3" cy="1671.7" rx="2.1" ry="1.8"/><ellipse cx="1490" cy="1671.7" rx="2.1" ry="1.8"/><ellipse cx="1525.5" cy="1671.7" rx="2.1" ry="1.8"/><ellipse cx="1561" cy="1671.7" rx="2.1" ry="1.8"/><ellipse cx="1596.6" cy="1671.7" rx="2.1" ry="1.8"/><ellipse cx="1632.2" cy="1671.7" rx="2.1" ry="1.8"/><ellipse cx="1667.7" cy="1671.7" rx="2.1" ry="1.8"/><ellipse cx="1703.2" cy="1671.7" rx="2.1" ry="1.8"/><ellipse cx="1738.8" cy="1671.7" rx="2.1" ry="1.8"/><ellipse cx="1347.8" cy="1721.1" rx="2.1" ry="1.8"/><ellipse cx="1383.3" cy="1721.1" rx="2.1" ry="1.8"/><ellipse cx="1454.4" cy="1721.1" rx="2.1" ry="1.8"/><ellipse cx="1490" cy="1721.1" rx="2.1" ry="1.8"/><ellipse cx="1525.5" cy="1721.1" rx="2.1" ry="1.8"/><ellipse cx="1561" cy="1721.1" rx="2.1" ry="1.8"/><ellipse cx="1596.6" cy="1721.1" rx="2.1" ry="1.8"/><ellipse cx="1632.2" cy="1721.1" rx="2.1" ry="1.8"/><ellipse cx="1667.7" cy="1721.1" rx="2.1" ry="1.8"/><ellipse cx="1703.2" cy="1721.1" rx="2.1" ry="1.8"/><ellipse cx="1738.8" cy="1721.1" rx="2.1" ry="1.8"/><ellipse cx="1312.2" cy="1770.6" rx="2.1" ry="1.8"/><ellipse cx="1347.8" cy="1770.6" rx="2.1" ry="1.8"/><ellipse cx="1383.3" cy="1770.6" rx="2.1" ry="1.8"/><ellipse cx="1418.9" cy="1770.6" rx="2.1" ry="1.8"/><ellipse cx="1454.4" cy="1770.6" rx="2.1" ry="1.8"/><ellipse cx="1490" cy="1770.6" rx="2.1" ry="1.8"/><ellipse cx="1561" cy="1770.6" rx="2.1" ry="1.8"/><ellipse cx="1667.7" cy="1770.6" rx="2.1" ry="1.8"/><ellipse cx="1703.2" cy="1770.6" rx="2.1" ry="1.8"/><ellipse cx="1738.8" cy="1770.6" rx="2.1" ry="1.8"/><ellipse cx="1312.2" cy="1820" rx="2.1" ry="1.8"/><ellipse cx="1347.8" cy="1820" rx="2.1" ry="1.8"/><ellipse cx="1383.3" cy="1820" rx="2.1" ry="1.8"/><ellipse cx="1418.9" cy="1820" rx="2.1" ry="1.8"/><ellipse cx="1454.4" cy="1820" rx="2.1" ry="1.8"/><ellipse cx="1490" cy="1820" rx="2.1" ry="1.8"/><ellipse cx="1561" cy="1820" rx="2.1" ry="1.8"/><ellipse cx="1596.6" cy="1820" rx="2.1" ry="1.8"/><ellipse cx="1667.7" cy="1820" rx="2.1" ry="1.8"/><ellipse cx="1703.2" cy="1820" rx="2.1" ry="1.8"/><ellipse cx="1738.8" cy="1820" rx="2.1" ry="1.8"/><ellipse cx="1312.2" cy="1869.4" rx="2.1" ry="1.8"/><ellipse cx="1383.3" cy="1869.4" rx="2.1" ry="1.8"/><ellipse cx="1418.9" cy="1869.4" rx="2.1" ry="1.8"/><ellipse cx="1454.4" cy="1869.4" rx="2.1" ry="1.8"/><ellipse cx="1490" cy="1869.4" rx="2.1" ry="1.8"/><ellipse cx="1561" cy="1869.4" rx="2.1" ry="1.8"/><ellipse cx="1667.7" cy="1869.4" rx="2.1" ry="1.8"/><ellipse cx="1703.2" cy="1869.4" rx="2.1" ry="1.8"/><ellipse cx="1738.8" cy="1869.4" rx="2.1" ry="1.8"/><ellipse cx="1312.2" cy="1918.8" rx="2.1" ry="1.8"/><ellipse cx="1347.8" cy="1918.8" rx="2.1" ry="1.8"/><ellipse cx="1383.3" cy="1918.8" rx="2.1" ry="1.8"/><ellipse cx="1418.9" cy="1918.8" rx="2.1" ry="1.8"/><ellipse cx="1490" cy="1918.8" rx="2.1" ry="1.8"/><ellipse cx="1561" cy="1918.8" rx="2.1" ry="1.8"/><ellipse cx="1703.2" cy="1918.8" rx="2.1" ry="1.8"/><ellipse cx="1738.8" cy="1918.8" rx="2.1" ry="1.8"/><ellipse cx="1312.2" cy="1968.3" rx="2.1" ry="1.8"/><ellipse cx="1347.8" cy="1968.3" rx="2.1" ry="1.8"/><ellipse cx="1383.3" cy="1968.3" rx="2.1" ry="1.8"/><ellipse cx="1454.4" cy="1968.3" rx="2.1" ry="1.8"/><ellipse cx="1490" cy="1968.3" rx="2.1" ry="1.8"/><ellipse cx="1525.5" cy="1968.3" rx="2.1" ry="1.8"/><ellipse cx="1632.2" cy="1968.3" rx="2.1" ry="1.8"/><ellipse cx="1738.8" cy="1968.3" rx="2.1" ry="1.8"/><ellipse cx="1312.2" cy="2017.7" rx="2.1" ry="1.8"/><ellipse cx="1347.8" cy="2017.7" rx="2.1" ry="1.8"/><ellipse cx="1454.4" cy="2017.7" rx="2.1" ry="1.8"/><ellipse cx="1490" cy="2017.7" rx="2.1" ry="1.8"/><ellipse cx="1525.5" cy="2017.7" rx="2.1" ry="1.8"/><ellipse cx="1596.6" cy="2017.7" rx="2.1" ry="1.8"/><ellipse cx="1632.2" cy="2017.7" rx="2.1" ry="1.8"/><ellipse cx="1667.7" cy="2017.7" rx="2.1" ry="1.8"/><ellipse cx="1738.8" cy="2017.7" rx="2.1" ry="1.8"/><ellipse cx="1312.2" cy="2067.1" rx="2.1" ry="1.8"/><ellipse cx="1347.8" cy="2067.1" rx="2.1" ry="1.8"/><ellipse cx="1383.3" cy="2067.1" rx="2.1" ry="1.8"/><ellipse cx="1418.9" cy="2067.1" rx="2.1" ry="1.8"/><ellipse cx="1454.4" cy="2067.1" rx="2.1" ry="1.8"/><ellipse cx="1490" cy="2067.1" rx="2.1" ry="1.8"/><ellipse cx="1525.5" cy="2067.1" rx="2.1" ry="1.8"/><ellipse cx="1596.6" cy="2067.1" rx="2.1" ry="1.8"/><ellipse cx="1632.2" cy="2067.1" rx="2.1" ry="1.8"/><ellipse cx="1667.7" cy="2067.1" rx="2.1" ry="1.8"/><ellipse cx="1738.8" cy="2067.1" rx="2.1" ry="1.8"/><ellipse cx="1312.2" cy="2116.6" rx="2.1" ry="1.8"/><ellipse cx="1347.8" cy="2116.6" rx="2.1" ry="1.8"/><ellipse cx="1383.3" cy="2116.6" rx="2.1" ry="1.8"/><ellipse cx="1418.9" cy="2116.6" rx="2.1" ry="1.8"/><ellipse cx="1454.4" cy="2116.6" rx="2.1" ry="1.8"/><ellipse cx="1490" cy="2116.6" rx="2.1" ry="1.8"/><ellipse cx="1525.5" cy="2116.6" rx="2.1" ry="1.8"/><ellipse cx="1596.6" cy="2116.6" rx="2.1" ry="1.8"/><ellipse cx="1632.2" cy="2116.6" rx="2.1" ry="1.8"/><ellipse cx="1667.7" cy="2116.6" rx="2.1" ry="1.8"/><ellipse cx="1738.8" cy="2116.6" rx="2.1" ry="1.8"/><ellipse cx="1312.2" cy="2166" rx="2.1" ry="1.8"/><ellipse cx="1561" cy="2166" rx="2.1" ry="1.8"/><ellipse cx="1738.8" cy="2166" rx="2.1" ry="1.8"/><ellipse cx="1347.8" cy="2215.4" rx="2.1" ry="1.8"/><ellipse cx="1383.3" cy="2215.4" rx="2.1" ry="1.8"/><ellipse cx="1490" cy="2215.4" rx="2.1" ry="1.8"/><ellipse cx="1525.5" cy="2215.4" rx="2.1" ry="1.8"/><ellipse cx="1561" cy="2215.4" rx="2.1" ry="1.8"/><ellipse cx="1596.6" cy="2215.4" rx="2.1" ry="1.8"/><ellipse cx="1632.2" cy="2215.4" rx="2.1" ry="1.8"/><ellipse cx="1667.7" cy="2215.4" rx="2.1" ry="1.8"/><ellipse cx="1738.8" cy="2215.4" rx="2.1" ry="1.8"/><ellipse cx="1312.2" cy="2264.9" rx="2.1" ry="1.8"/><ellipse cx="1347.8" cy="2264.9" rx="2.1" ry="1.8"/><ellipse cx="1561" cy="2264.9" rx="2.1" ry="1.8"/><ellipse cx="1667.7" cy="2264.9" rx="2.1" ry="1.8"/><ellipse cx="1703.2" cy="2264.9" rx="2.1" ry="1.8"/><ellipse cx="1738.8" cy="2264.9" rx="2.1" ry="1.8"/><ellipse cx="1561" cy="2314.3" rx="2.1" ry="1.8"/><ellipse cx="1703.2" cy="2314.3" rx="2.1" ry="1.8"/><ellipse cx="1312.2" cy="2363.7" rx="2.1" ry="1.8"/><ellipse cx="1561" cy="2363.7" rx="2.1" ry="1.8"/><ellipse cx="1738.8" cy="2363.7" rx="2.1" ry="1.8"/><ellipse cx="1312.2" cy="2413.2" rx="2.1" ry="1.8"/><ellipse cx="1454.4" cy="2413.2" rx="2.1" ry="1.8"/><ellipse cx="1738.8" cy="2413.2" rx="2.1" ry="1.8"/><ellipse cx="1312.2" cy="2462.6" rx="2.1" ry="1.8"/><ellipse cx="1383.3" cy="2462.6" rx="2.1" ry="1.8"/><ellipse cx="1418.9" cy="2462.6" rx="2.1" ry="1.8"/><ellipse cx="1490" cy="2462.6" rx="2.1" ry="1.8"/><ellipse cx="1525.5" cy="2462.6" rx="2.1" ry="1.8"/><ellipse cx="1561" cy="2462.6" rx="2.1" ry="1.8"/><ellipse cx="1596.6" cy="2462.6" rx="2.1" ry="1.8"/><ellipse cx="1632.2" cy="2462.6" rx="2.1" ry="1.8"/><ellipse cx="1738.8" cy="2462.6" rx="2.1" ry="1.8"/><ellipse cx="1312.2" cy="2512" rx="2.1" ry="1.8"/><ellipse cx="1561" cy="2512" rx="2.1" ry="1.8"/><ellipse cx="1632.2" cy="2512" rx="2.1" ry="1.8"/><ellipse cx="1667.7" cy="2512" rx="2.1" ry="1.8"/><ellipse cx="1738.8" cy="2512" rx="2.1" ry="1.8"/></g>
<g fill="#1745f8"><ellipse cx="1703.2" cy="188.8" rx="11.5" ry="9.8"/><ellipse cx="1703.2" cy="238.2" rx="12.3" ry="10.5"/><ellipse cx="1703.2" cy="287.7" rx="12.9" ry="11"/><ellipse cx="1703.2" cy="337.1" rx="11.5" ry="9.8"/><ellipse cx="1454.4" cy="386.5" rx="11.5" ry="9.8"/><ellipse cx="1454.4" cy="436" rx="14.9" ry="12.7"/><ellipse cx="1454.4" cy="485.4" rx="10.5" ry="9"/><ellipse cx="1454.4" cy="534.8" rx="11.5" ry="9.8"/><ellipse cx="1738.8" cy="584.2" rx="11.1" ry="9.5"/><ellipse cx="1738.8" cy="633.7" rx="11.5" ry="9.8"/><ellipse cx="1738.8" cy="683.1" rx="13.5" ry="11.5"/><ellipse cx="1738.8" cy="732.5" rx="11.5" ry="9.8"/><ellipse cx="1667.7" cy="782" rx="12.9" ry="11"/><ellipse cx="1667.7" cy="831.4" rx="13.5" ry="11.5"/><ellipse cx="1667.7" cy="880.8" rx="12.9" ry="11"/><ellipse cx="1667.7" cy="930.2" rx="13.2" ry="11.3"/><ellipse cx="1383.3" cy="979.7" rx="12.3" ry="10.5"/><ellipse cx="1383.3" cy="1029.1" rx="11.7" ry="10"/><ellipse cx="1383.3" cy="1078.5" rx="12.3" ry="10.5"/><ellipse cx="1383.3" cy="1128" rx="12.9" ry="11"/><ellipse cx="1490" cy="1177.4" rx="12.3" ry="10.5"/><ellipse cx="1490" cy="1226.8" rx="13.8" ry="11.8"/><ellipse cx="1490" cy="1276.3" rx="13.8" ry="11.8"/><ellipse cx="1490" cy="1325.7" rx="14" ry="12"/><ellipse cx="1632.2" cy="1375.1" rx="12.9" ry="11"/><ellipse cx="1632.2" cy="1424.5" rx="13.8" ry="11.8"/><ellipse cx="1632.2" cy="1474" rx="9.9" ry="8.5"/><ellipse cx="1632.2" cy="1523.4" rx="12.9" ry="11"/><ellipse cx="1312.2" cy="1572.8" rx="6.4" ry="5.5"/><ellipse cx="1312.2" cy="1622.3" rx="13.5" ry="11.5"/><ellipse cx="1312.2" cy="1671.7" rx="9.9" ry="8.5"/><ellipse cx="1312.2" cy="1721.1" rx="7.6" ry="6.5"/><ellipse cx="1525.5" cy="1770.6" rx="9.4" ry="8"/><ellipse cx="1525.5" cy="1820" rx="9.4" ry="8"/><ellipse cx="1525.5" cy="1869.4" rx="11.5" ry="9.8"/><ellipse cx="1525.5" cy="1918.8" rx="12.1" ry="10.3"/><ellipse cx="1561" cy="1968.3" rx="9.4" ry="8"/><ellipse cx="1561" cy="2017.7" rx="9.6" ry="8.2"/><ellipse cx="1561" cy="2067.1" rx="9.4" ry="8"/><ellipse cx="1561" cy="2116.6" rx="8.4" ry="7.2"/><ellipse cx="1418.9" cy="2166" rx="11.1" ry="9.5"/><ellipse cx="1418.9" cy="2215.4" rx="8.8" ry="7.5"/><ellipse cx="1418.9" cy="2264.9" rx="11.7" ry="10"/><ellipse cx="1418.9" cy="2314.3" rx="12.1" ry="10.3"/><ellipse cx="1347.8" cy="2363.7" rx="8.8" ry="7.5"/><ellipse cx="1347.8" cy="2413.2" rx="7.6" ry="6.5"/><ellipse cx="1347.8" cy="2462.6" rx="7.6" ry="6.5"/><ellipse cx="1347.8" cy="2512" rx="9.9" ry="8.5"/><ellipse cx="1596.6" cy="2561.4" rx="14.6" ry="12.5"/><ellipse cx="1596.6" cy="2610.9" rx="14.6" ry="12.5"/><ellipse cx="1596.6" cy="2660.3" rx="14.6" ry="12.5"/><ellipse cx="1596.6" cy="2709.7" rx="15.2" ry="13"/></g>
<g fill="#c4bcf5"><ellipse cx="1347.8" cy="287.7" rx="3.5" ry="3"/><ellipse cx="1596.6" cy="287.7" rx="2.6" ry="2.2"/><ellipse cx="1596.6" cy="534.8" rx="4.1" ry="3.5"/><ellipse cx="1383.3" cy="683.1" rx="2.9" ry="2.5"/><ellipse cx="1418.9" cy="683.1" rx="3.3" ry="2.8"/><ellipse cx="1454.4" cy="683.1" rx="2.6" ry="2.2"/><ellipse cx="1312.2" cy="831.4" rx="2.3" ry="2"/><ellipse cx="1347.8" cy="831.4" rx="6.4" ry="5.5"/><ellipse cx="1383.3" cy="831.4" rx="3.3" ry="2.8"/><ellipse cx="1418.9" cy="831.4" rx="4.1" ry="3.5"/><ellipse cx="1454.4" cy="831.4" rx="4.1" ry="3.5"/><ellipse cx="1490" cy="831.4" rx="3.3" ry="2.8"/><ellipse cx="1525.5" cy="831.4" rx="2.9" ry="2.5"/><ellipse cx="1561" cy="831.4" rx="2.3" ry="2"/><ellipse cx="1596.6" cy="831.4" rx="3.9" ry="3.3"/><ellipse cx="1632.2" cy="831.4" rx="2.6" ry="2.2"/><ellipse cx="1703.2" cy="831.4" rx="3.7" ry="3.2"/><ellipse cx="1738.8" cy="831.4" rx="2.3" ry="2"/><ellipse cx="1347.8" cy="880.8" rx="2.9" ry="2.5"/><ellipse cx="1383.3" cy="880.8" rx="2.3" ry="2"/><ellipse cx="1418.9" cy="880.8" rx="2.6" ry="2.2"/><ellipse cx="1454.4" cy="880.8" rx="3.3" ry="2.8"/><ellipse cx="1490" cy="880.8" rx="2.3" ry="2"/><ellipse cx="1596.6" cy="880.8" rx="7" ry="6"/><ellipse cx="1632.2" cy="880.8" rx="2.6" ry="2.2"/><ellipse cx="1703.2" cy="880.8" rx="4.4" ry="3.8"/><ellipse cx="1312.2" cy="979.7" rx="3.3" ry="2.8"/><ellipse cx="1347.8" cy="979.7" rx="6.2" ry="5.3"/><ellipse cx="1418.9" cy="979.7" rx="8.4" ry="7.2"/><ellipse cx="1454.4" cy="979.7" rx="6.8" ry="5.8"/><ellipse cx="1490" cy="979.7" rx="7" ry="6"/><ellipse cx="1525.5" cy="979.7" rx="8" ry="6.8"/><ellipse cx="1738.8" cy="1029.1" rx="2.3" ry="2"/><ellipse cx="1312.2" cy="1078.5" rx="3.3" ry="2.8"/><ellipse cx="1347.8" cy="1078.5" rx="4.9" ry="4.2"/><ellipse cx="1418.9" cy="1078.5" rx="6.1" ry="5.2"/><ellipse cx="1454.4" cy="1078.5" rx="4.7" ry="4"/><ellipse cx="1490" cy="1078.5" rx="7.6" ry="6.5"/><ellipse cx="1525.5" cy="1078.5" rx="7.3" ry="6.2"/><ellipse cx="1561" cy="1078.5" rx="4.4" ry="3.8"/><ellipse cx="1596.6" cy="1078.5" rx="6.7" ry="5.7"/><ellipse cx="1632.2" cy="1078.5" rx="7.4" ry="6.3"/><ellipse cx="1667.7" cy="1078.5" rx="7" ry="6"/><ellipse cx="1703.2" cy="1078.5" rx="3.5" ry="3"/><ellipse cx="1738.8" cy="1078.5" rx="8.4" ry="7.2"/><ellipse cx="1312.2" cy="1128" rx="2.3" ry="2"/><ellipse cx="1347.8" cy="1128" rx="3.3" ry="2.8"/><ellipse cx="1418.9" cy="1128" rx="3.9" ry="3.3"/><ellipse cx="1454.4" cy="1128" rx="2.3" ry="2"/><ellipse cx="1490" cy="1128" rx="4.1" ry="3.5"/><ellipse cx="1525.5" cy="1128" rx="4.1" ry="3.5"/><ellipse cx="1561" cy="1128" rx="2.6" ry="2.2"/><ellipse cx="1596.6" cy="1128" rx="4.1" ry="3.5"/><ellipse cx="1632.2" cy="1128" rx="4.1" ry="3.5"/><ellipse cx="1667.7" cy="1128" rx="3.3" ry="2.8"/><ellipse cx="1738.8" cy="1128" rx="5.6" ry="4.8"/><ellipse cx="1632.2" cy="1177.4" rx="2.6" ry="2.2"/><ellipse cx="1525.5" cy="1375.1" rx="2.6" ry="2.2"/><ellipse cx="1596.6" cy="1375.1" rx="3.5" ry="3"/><ellipse cx="1383.3" cy="1424.5" rx="6.1" ry="5.2"/><ellipse cx="1418.9" cy="1424.5" rx="8.8" ry="7.5"/><ellipse cx="1738.8" cy="1424.5" rx="2.3" ry="2"/><ellipse cx="1347.8" cy="1622.3" rx="5.3" ry="4.5"/><ellipse cx="1383.3" cy="1622.3" rx="4.7" ry="4"/><ellipse cx="1454.4" cy="1622.3" rx="3.9" ry="3.3"/><ellipse cx="1490" cy="1622.3" rx="4.1" ry="3.5"/><ellipse cx="1525.5" cy="1622.3" rx="3.9" ry="3.3"/><ellipse cx="1561" cy="1622.3" rx="2.3" ry="2"/><ellipse cx="1596.6" cy="1622.3" rx="4.1" ry="3.5"/><ellipse cx="1632.2" cy="1622.3" rx="4.4" ry="3.8"/><ellipse cx="1667.7" cy="1622.3" rx="3.5" ry="3"/><ellipse cx="1703.2" cy="1622.3" rx="4.7" ry="4"/><ellipse cx="1738.8" cy="1622.3" rx="3.3" ry="2.8"/><ellipse cx="1347.8" cy="1869.4" rx="3.3" ry="2.8"/><ellipse cx="1596.6" cy="1869.4" rx="4.1" ry="3.5"/><ellipse cx="1596.6" cy="1968.3" rx="3.3" ry="2.8"/><ellipse cx="1667.7" cy="1968.3" rx="3.3" ry="2.8"/><ellipse cx="1347.8" cy="2166" rx="2.9" ry="2.5"/><ellipse cx="1383.3" cy="2166" rx="4.4" ry="3.8"/><ellipse cx="1490" cy="2166" rx="4.7" ry="4"/><ellipse cx="1596.6" cy="2166" rx="3.7" ry="3.2"/><ellipse cx="1632.2" cy="2166" rx="4.1" ry="3.5"/><ellipse cx="1703.2" cy="2166" rx="2.9" ry="2.5"/><ellipse cx="1383.3" cy="2264.9" rx="2.7" ry="2.3"/><ellipse cx="1490" cy="2264.9" rx="2.6" ry="2.2"/><ellipse cx="1525.5" cy="2264.9" rx="2.6" ry="2.2"/><ellipse cx="1596.6" cy="2264.9" rx="2.6" ry="2.2"/><ellipse cx="1632.2" cy="2264.9" rx="2.7" ry="2.3"/><ellipse cx="1347.8" cy="2314.3" rx="3.3" ry="2.8"/><ellipse cx="1383.3" cy="2314.3" rx="3" ry="2.6"/><ellipse cx="1454.4" cy="2314.3" rx="2.6" ry="2.2"/><ellipse cx="1525.5" cy="2314.3" rx="3.5" ry="3"/><ellipse cx="1596.6" cy="2314.3" rx="3.7" ry="3.2"/><ellipse cx="1632.2" cy="2314.3" rx="3" ry="2.6"/><ellipse cx="1667.7" cy="2314.3" rx="3.3" ry="2.8"/><ellipse cx="1738.8" cy="2314.3" rx="2.6" ry="2.2"/><ellipse cx="1418.9" cy="2363.7" rx="3.5" ry="3"/><ellipse cx="1454.4" cy="2363.7" rx="3.3" ry="2.8"/><ellipse cx="1490" cy="2363.7" rx="3" ry="2.6"/><ellipse cx="1525.5" cy="2363.7" rx="3" ry="2.6"/><ellipse cx="1596.6" cy="2363.7" rx="3.3" ry="2.8"/><ellipse cx="1632.2" cy="2363.7" rx="3" ry="2.6"/><ellipse cx="1667.7" cy="2363.7" rx="2.8" ry="2.4"/><ellipse cx="1418.9" cy="2413.2" rx="3" ry="2.6"/><ellipse cx="1490" cy="2413.2" rx="3" ry="2.6"/><ellipse cx="1525.5" cy="2413.2" rx="3.3" ry="2.8"/><ellipse cx="1561" cy="2413.2" rx="2.6" ry="2.2"/><ellipse cx="1596.6" cy="2413.2" rx="3.3" ry="2.8"/><ellipse cx="1632.2" cy="2413.2" rx="3" ry="2.6"/><ellipse cx="1667.7" cy="2413.2" rx="2.6" ry="2.2"/><ellipse cx="1667.7" cy="2462.6" rx="2.6" ry="2.2"/><ellipse cx="1418.9" cy="2512" rx="2.8" ry="2.4"/><ellipse cx="1454.4" cy="2512" rx="3" ry="2.6"/><ellipse cx="1525.5" cy="2512" rx="3" ry="2.6"/><ellipse cx="1596.6" cy="2512" rx="3" ry="2.6"/><ellipse cx="1703.2" cy="2610.9" rx="6.4" ry="5.5"/><ellipse cx="1490" cy="2660.3" rx="7.4" ry="6.3"/><ellipse cx="1703.2" cy="2660.3" rx="8.8" ry="7.5"/><ellipse cx="1703.2" cy="2709.7" rx="7.6" ry="6.5"/></g>
<g fill="#ae9ef5"><ellipse cx="1383.3" cy="584.2" rx="3.7" ry="3.2"/><ellipse cx="1383.3" cy="633.7" rx="5.8" ry="5"/><ellipse cx="1561" cy="633.7" rx="3.5" ry="3"/><ellipse cx="1347.8" cy="683.1" rx="3.5" ry="3"/><ellipse cx="1454.4" cy="782" rx="8.8" ry="7.5"/><ellipse cx="1525.5" cy="880.8" rx="8.2" ry="7"/><ellipse cx="1312.2" cy="1424.5" rx="4.4" ry="3.8"/><ellipse cx="1418.9" cy="1572.8" rx="8.4" ry="7.2"/><ellipse cx="1418.9" cy="1622.3" rx="10.3" ry="8.8"/><ellipse cx="1418.9" cy="1671.7" rx="6.8" ry="5.8"/><ellipse cx="1454.4" cy="1671.7" rx="3.5" ry="3"/><ellipse cx="1418.9" cy="1721.1" rx="4.7" ry="4"/><ellipse cx="1596.6" cy="1770.6" rx="4.1" ry="3.5"/><ellipse cx="1632.2" cy="1770.6" rx="3.5" ry="3"/><ellipse cx="1632.2" cy="1869.4" rx="5.3" ry="4.5"/><ellipse cx="1454.4" cy="1918.8" rx="3.7" ry="3.2"/><ellipse cx="1632.2" cy="1918.8" rx="6.8" ry="5.8"/><ellipse cx="1667.7" cy="1918.8" rx="4.7" ry="4"/><ellipse cx="1418.9" cy="1968.3" rx="5.6" ry="4.8"/><ellipse cx="1703.2" cy="1968.3" rx="2.6" ry="2.2"/><ellipse cx="1383.3" cy="2017.7" rx="2.9" ry="2.5"/><ellipse cx="1418.9" cy="2017.7" rx="3.3" ry="2.8"/><ellipse cx="1703.2" cy="2017.7" rx="2.3" ry="2"/><ellipse cx="1703.2" cy="2067.1" rx="2.3" ry="2"/><ellipse cx="1703.2" cy="2116.6" rx="2.6" ry="2.2"/><ellipse cx="1454.4" cy="2166" rx="4.4" ry="3.8"/><ellipse cx="1525.5" cy="2166" rx="5" ry="4.3"/><ellipse cx="1667.7" cy="2166" rx="3.9" ry="3.3"/><ellipse cx="1454.4" cy="2215.4" rx="2.7" ry="2.3"/><ellipse cx="1454.4" cy="2264.9" rx="4.7" ry="4"/><ellipse cx="1312.2" cy="2314.3" rx="3" ry="2.6"/><ellipse cx="1490" cy="2314.3" rx="4.7" ry="4"/><ellipse cx="1383.3" cy="2363.7" rx="4.7" ry="4"/><ellipse cx="1383.3" cy="2413.2" rx="4.4" ry="3.8"/><ellipse cx="1703.2" cy="2413.2" rx="4.9" ry="4.2"/><ellipse cx="1703.2" cy="2462.6" rx="3" ry="2.6"/><ellipse cx="1383.3" cy="2512" rx="3.3" ry="2.8"/><ellipse cx="1490" cy="2512" rx="4.4" ry="3.8"/><ellipse cx="1454.4" cy="2561.4" rx="10.5" ry="9"/><ellipse cx="1703.2" cy="2561.4" rx="7" ry="6"/><ellipse cx="1454.4" cy="2660.3" rx="13.5" ry="11.5"/><ellipse cx="1525.5" cy="2660.3" rx="8.8" ry="7.5"/></g>
<g fill="#c5c5e8"><ellipse cx="1561" cy="979.7" rx="4.2" ry="3.6"/><ellipse cx="1632.2" cy="979.7" rx="6.8" ry="5.8"/><ellipse cx="1312.2" cy="2561.4" rx="3.3" ry="2.8"/><ellipse cx="1347.8" cy="2561.4" rx="6.1" ry="5.2"/><ellipse cx="1383.3" cy="2561.4" rx="8.8" ry="7.5"/><ellipse cx="1418.9" cy="2561.4" rx="6.8" ry="5.8"/><ellipse cx="1490" cy="2561.4" rx="6.4" ry="5.5"/><ellipse cx="1561" cy="2561.4" rx="4.4" ry="3.8"/><ellipse cx="1632.2" cy="2561.4" rx="7" ry="6"/><ellipse cx="1667.7" cy="2561.4" rx="6.4" ry="5.5"/><ellipse cx="1738.8" cy="2561.4" rx="4.9" ry="4.2"/><ellipse cx="1312.2" cy="2610.9" rx="2.7" ry="2.3"/><ellipse cx="1347.8" cy="2610.9" rx="4.4" ry="3.8"/><ellipse cx="1383.3" cy="2610.9" rx="5.8" ry="5"/><ellipse cx="1418.9" cy="2610.9" rx="5.3" ry="4.5"/><ellipse cx="1490" cy="2610.9" rx="4.9" ry="4.2"/><ellipse cx="1561" cy="2610.9" rx="3.5" ry="3"/><ellipse cx="1632.2" cy="2610.9" rx="6.4" ry="5.5"/><ellipse cx="1667.7" cy="2610.9" rx="3.7" ry="3.2"/><ellipse cx="1738.8" cy="2610.9" rx="4.7" ry="4"/><ellipse cx="1312.2" cy="2660.3" rx="3.7" ry="3.2"/><ellipse cx="1347.8" cy="2660.3" rx="6.4" ry="5.5"/><ellipse cx="1383.3" cy="2660.3" rx="9.1" ry="7.8"/><ellipse cx="1418.9" cy="2660.3" rx="7.4" ry="6.3"/><ellipse cx="1561" cy="2660.3" rx="5.3" ry="4.5"/><ellipse cx="1632.2" cy="2660.3" rx="8.2" ry="7"/><ellipse cx="1667.7" cy="2660.3" rx="5.8" ry="5"/><ellipse cx="1738.8" cy="2660.3" rx="6.4" ry="5.5"/><ellipse cx="1312.2" cy="2709.7" rx="2.3" ry="2"/><ellipse cx="1347.8" cy="2709.7" rx="4.9" ry="4.2"/><ellipse cx="1383.3" cy="2709.7" rx="7" ry="6"/><ellipse cx="1418.9" cy="2709.7" rx="5.8" ry="5"/><ellipse cx="1490" cy="2709.7" rx="5.3" ry="4.5"/><ellipse cx="1561" cy="2709.7" rx="3.7" ry="3.2"/><ellipse cx="1632.2" cy="2709.7" rx="6.4" ry="5.5"/><ellipse cx="1667.7" cy="2709.7" rx="4.1" ry="3.5"/><ellipse cx="1738.8" cy="2709.7" rx="4.7" ry="4"/></g>
<g fill="#c0bcea"><ellipse cx="1596.6" cy="979.7" rx="8.8" ry="7.5"/></g>
<g fill="#ccd8dc"><ellipse cx="1667.7" cy="979.7" rx="4.4" ry="3.8"/><ellipse cx="1738.8" cy="979.7" rx="4.1" ry="3.5"/></g>
<g fill="#8678f2"><ellipse cx="1703.2" cy="979.7" rx="6.2" ry="5.3"/><ellipse cx="1632.2" cy="1820" rx="5" ry="4.3"/><ellipse cx="1596.6" cy="1918.8" rx="9.4" ry="8"/><ellipse cx="1312.2" cy="2215.4" rx="2.7" ry="2.3"/><ellipse cx="1703.2" cy="2215.4" rx="2.6" ry="2.2"/><ellipse cx="1703.2" cy="2363.7" rx="4.7" ry="4"/><ellipse cx="1454.4" cy="2462.6" rx="4.7" ry="4"/><ellipse cx="1703.2" cy="2512" rx="4.7" ry="4"/><ellipse cx="1525.5" cy="2561.4" rx="11.7" ry="10"/><ellipse cx="1525.5" cy="2610.9" rx="13.5" ry="11.5"/></g>
<g fill="#7468ee"><ellipse cx="1454.4" cy="2610.9" rx="10.9" ry="9.3"/><ellipse cx="1454.4" cy="2709.7" rx="11.7" ry="10"/></g>
<g fill="#9f8ef2"><ellipse cx="1525.5" cy="2709.7" rx="9.9" ry="8.5"/></g>
<text transform="translate(1323.2 2759) scale(1.2 1) rotate(-45)" font-size="18" text-anchor="end" font-weight="bold">Neutrophils</text>
<text transform="translate(1358.8 2759) scale(1.2 1) rotate(-45)" font-size="18" text-anchor="end" font-weight="bold">Ductal Cell</text>
<text transform="translate(1394.3 2759) scale(1.2 1) rotate(-45)" font-size="18" text-anchor="end" font-weight="bold">Plasma Cell</text>
<text transform="translate(1429.9 2759) scale(1.2 1) rotate(-45)" font-size="18" text-anchor="end" font-weight="bold">Macrophage</text>
<text transform="translate(1465.4 2759) scale(1.2 1) rotate(-45)" font-size="18" text-anchor="end" font-weight="bold">Beta Cell</text>
<text transform="translate(1501 2759) scale(1.2 1) rotate(-45)" font-size="18" text-anchor="end" font-weight="bold">Mast Cell</text>
<text transform="translate(1536.5 2759) scale(1.2 1) rotate(-45)" font-size="18" text-anchor="end" font-weight="bold">Stellate Cell</text>
<text transform="translate(1572 2759) scale(1.2 1) rotate(-45)" font-size="18" text-anchor="end" font-weight="bold">T_cell</text>
<text transform="translate(1607.6 2759) scale(1.2 1) rotate(-45)" font-size="18" text-anchor="end" font-weight="bold">Fibroblasts</text>
<text transform="translate(1643.2 2759) scale(1.2 1) rotate(-45)" font-size="18" text-anchor="end" font-weight="bold">Endothelial Cell</text>
<text transform="translate(1678.7 2759) scale(1.2 1) rotate(-45)" font-size="18" text-anchor="end" fill="#777">Schwann cell</text>
<text transform="translate(1714.2 2759) scale(1.2 1) rotate(-45)" font-size="18" text-anchor="end" font-weight="bold">Acinar Cell</text>
<text transform="translate(1749.8 2759) scale(1.2 1) rotate(-45)" font-size="18" text-anchor="end" font-weight="bold">B_cell</text>
<text x="1787.3" y="1301.5" font-size="19.8" textLength="201.2" lengthAdjust="spacingAndGlyphs" fill="#111" stroke="#111" stroke-width="0.4">Percent Expressed</text>
<ellipse cx="1802.5" cy="1330.5" rx="2.2" ry="2" fill="#000"/>
<text x="1831.3" y="1336.6" font-size="17.8" textLength="11.6" lengthAdjust="spacingAndGlyphs" fill="#111">0</text>
<ellipse cx="1802.5" cy="1357.2" rx="5.9" ry="4.9" fill="#000"/>
<text x="1831.3" y="1363.3" font-size="17.8" textLength="23.2" lengthAdjust="spacingAndGlyphs" fill="#111">25</text>
<ellipse cx="1802.5" cy="1383.6" rx="8.9" ry="7.6" fill="#000"/>
<text x="1831.3" y="1390" font-size="17.8" textLength="23.2" lengthAdjust="spacingAndGlyphs" fill="#111">50</text>
<ellipse cx="1802.5" cy="1410.9" rx="12" ry="10.6" fill="#000"/>
<text x="1831.3" y="1417" font-size="17.8" textLength="23.2" lengthAdjust="spacingAndGlyphs" fill="#111">75</text>
<text x="1786.9" y="1465.6" font-size="19.8" textLength="207" lengthAdjust="spacingAndGlyphs" fill="#111" stroke="#111" stroke-width="0.4">Average Expressior</text>
<defs><linearGradient id="gb" x1="0" y1="0" x2="0" y2="1"><stop offset="0" stop-color="#1f45fa"/><stop offset="0.3" stop-color="#4a50f6"/><stop offset="0.6" stop-color="#8873f4"/><stop offset="0.83" stop-color="#c0b2f5"/><stop offset="0.95" stop-color="#cdd3e2"/><stop offset="1" stop-color="#cfd8dc"/></linearGradient></defs>
<rect x="1787.3" y="1483.8" width="30.4" height="132.7" fill="url(#gb)"/>
<path d="M1787.3 1504.7h6M1811.7 1504.7h6M1787.3 1526h6M1811.7 1526h6M1787.3 1547.2h6M1811.7 1547.2h6M1787.3 1568.9h6M1811.7 1568.9h6M1787.3 1590.2h6M1811.7 1590.2h6M1787.3 1611.4h6M1811.7 1611.4h6" stroke="#fff" stroke-width="1.2" opacity="0.7" fill="none"/>
<text x="1831.3" y="1495" font-size="18.4" textLength="29.9" lengthAdjust="spacingAndGlyphs" fill="#111">2.5</text>
<text x="1831.3" y="1516.2" font-size="18.4" textLength="29.9" lengthAdjust="spacingAndGlyphs" fill="#111">2.0</text>
<text x="1831.3" y="1537.5" font-size="18.4" textLength="29.9" lengthAdjust="spacingAndGlyphs" fill="#111">1.5</text>
<text x="1831.3" y="1558.8" font-size="18.4" textLength="29.9" lengthAdjust="spacingAndGlyphs" fill="#111">1.0</text>
<text x="1831.3" y="1580" font-size="18.4" textLength="29.9" lengthAdjust="spacingAndGlyphs" fill="#111">0.5</text>
<text x="1831.3" y="1601.3" font-size="18.4" textLength="29.9" lengthAdjust="spacingAndGlyphs" fill="#111">0.0</text>
<text x="1831.3" y="1622.6" font-size="18.4" textLength="42.5" lengthAdjust="spacingAndGlyphs" fill="#111">−0.5</text>
<text x="67.9" y="1415.2" font-size="87">C</text>
<text x="390" y="1431.7" font-size="34" font-weight="bold" textLength="94" lengthAdjust="spacingAndGlyphs" fill="#111">PDAC</text>
<path d="M417 1714.4L417 1474.4A240 240 0 0 1 614.3 1851Z" fill="#0a34c7" stroke="#0a34c7" stroke-width="0.6"/><path d="M417 1714.4L614.3 1851A240 240 0 0 1 611.4 1855.1Z" fill="#70c1ff" stroke="#70c1ff" stroke-width="0.6"/><path d="M417 1714.4L611.4 1855.1A240 240 0 0 1 607.8 1859.9Z" fill="#fcb9cb" stroke="#fcb9cb" stroke-width="0.6"/><path d="M417 1714.4L607.8 1859.9A240 240 0 0 1 602.2 1867Z" fill="#10035c" stroke="#10035c" stroke-width="0.6"/><path d="M417 1714.4L602.2 1867A240 240 0 0 1 590 1880.8Z" fill="#afbd26" stroke="#afbd26" stroke-width="0.6"/><path d="M417 1714.4L590 1880.8A240 240 0 0 1 573.2 1896.6Z" fill="#e9de0c" stroke="#e9de0c" stroke-width="0.6"/><path d="M417 1714.4L573.2 1896.6A240 240 0 0 1 543.4 1918.4Z" fill="#ff87bd" stroke="#ff87bd" stroke-width="0.6"/><path d="M417 1714.4L543.4 1918.4A240 240 0 0 1 503.5 1938.3Z" fill="#8800a9" stroke="#8800a9" stroke-width="0.6"/><path d="M417 1714.4L503.5 1938.3A240 240 0 0 1 459.9 1950.5Z" fill="#5aa9fd" stroke="#5aa9fd" stroke-width="0.6"/><path d="M417 1714.4L459.9 1950.5A240 240 0 0 1 412.6 1954.4Z" fill="#44e254" stroke="#44e254" stroke-width="0.6"/><path d="M417 1714.4L412.6 1954.4A240 240 0 0 1 251.6 1888.3Z" fill="#70ffd3" stroke="#70ffd3" stroke-width="0.6"/><path d="M417 1714.4L251.6 1888.3A240 240 0 0 1 178.3 1689.4Z" fill="#ff2f6c" stroke="#ff2f6c" stroke-width="0.6"/><path d="M417 1714.4L178.3 1689.4A240 240 0 0 1 417 1474.4Z" fill="#e535fe" stroke="#e535fe" stroke-width="0.6"/>
<text transform="translate(533.2 1653.5) rotate(0)" y="11.1" font-size="31" text-anchor="middle" fill="#fff" textLength="106" lengthAdjust="spacingAndGlyphs" stroke-width="0.7" stroke="#fff">34.64%</text>
<text transform="translate(325.6 1605.3) rotate(0)" y="11.1" font-size="31" text-anchor="middle" fill="#111" textLength="105.6" lengthAdjust="spacingAndGlyphs" stroke-width="0.7" stroke="#111">23.34%</text>
<text transform="translate(265.7 1770.8) rotate(0)" y="11.1" font-size="31" text-anchor="middle" fill="#111" textLength="105" lengthAdjust="spacingAndGlyphs" stroke-width="0.7" stroke="#111">14.56%</text>
<text transform="translate(354.6 1876.9) rotate(0)" y="11.1" font-size="31" text-anchor="middle" fill="#111" textLength="103.5" lengthAdjust="spacingAndGlyphs" stroke-width="0.7" stroke="#111">11.81%</text>
<text transform="translate(434.8 1917) rotate(85)" y="8.7" font-size="24.3" text-anchor="middle" fill="#222" textLength="69" lengthAdjust="spacingAndGlyphs" stroke-width="0.7" stroke="#222">3.15%</text>
<text transform="translate(474.4 1911.7) rotate(74.6)" y="8.7" font-size="24.3" text-anchor="middle" fill="#222" textLength="68.7" lengthAdjust="spacingAndGlyphs" stroke-width="0.7" stroke="#222">3.01%</text>
<text transform="translate(509.4 1898.8) rotate(63.7)" y="8.7" font-size="24.3" text-anchor="middle" fill="#fff" textLength="68.8" lengthAdjust="spacingAndGlyphs" stroke-width="0.7" stroke="#fff">2.96%</text>
<text transform="translate(542.2 1883.5) rotate(55.7)" y="7.7" font-size="21.4" text-anchor="middle" fill="#222" textLength="60.8" lengthAdjust="spacingAndGlyphs" stroke-width="0.7" stroke="#222">2.45%</text>
<text transform="translate(562.7 1869.8) rotate(50)" y="6.3" font-size="17.5" text-anchor="middle" fill="#222" textLength="49.7" lengthAdjust="spacingAndGlyphs" stroke-width="0.4" stroke="#222">1.53%</text>
<text transform="translate(578 1857.7) rotate(47.9)" y="5.4" font-size="15.2" text-anchor="middle" font-weight="bold" fill="#111" textLength="43" lengthAdjust="spacingAndGlyphs">1.22%</text>
<text transform="translate(597.5 1853.5) rotate(50)" y="2" font-size="5.5" text-anchor="middle" fill="#5a58c0">0.60%</text>
<rect x="752.5" y="1482.1" width="21" height="21" fill="#5aa9fd"/>
<text x="798" y="1501" font-size="22.7" fill="#2a2a2a">Neutrophils</text>
<rect x="752.5" y="1519.4" width="21" height="21" fill="#0a34c7"/>
<text x="798" y="1538.3" font-size="22.7" fill="#2a2a2a">Ductal Cell</text>
<rect x="752.5" y="1556.7" width="21" height="21" fill="#e9de0c"/>
<text x="798" y="1575.6" font-size="22.7" fill="#2a2a2a">Plasma Cell</text>
<rect x="752.5" y="1594" width="21" height="21" fill="#ff2f6c"/>
<text x="798" y="1612.9" font-size="22.7" fill="#2a2a2a">Macrophage</text>
<rect x="752.5" y="1631.3" width="21" height="21" fill="#fcb9cb"/>
<text x="798" y="1650.2" font-size="22.7" fill="#2a2a2a">Beta Cell</text>
<rect x="752.5" y="1668.6" width="21" height="21" fill="#ff87bd"/>
<text x="798" y="1687.5" font-size="22.7" fill="#2a2a2a">Mast Cell</text>
<rect x="752.5" y="1705.9" width="21" height="21" fill="#44e254"/>
<text x="798" y="1724.8" font-size="22.7" fill="#2a2a2a">Stellate</text>
<rect x="752.5" y="1743.2" width="21" height="21" fill="#70ffd3"/>
<text x="798" y="1762.1" font-size="22.7" fill="#2a2a2a">T_cell</text>
<rect x="752.5" y="1780.5" width="21" height="21" fill="#e535fe"/>
<text x="798" y="1799.4" font-size="22.7" fill="#2a2a2a">Fibroblasts</text>
<rect x="752.5" y="1817.8" width="21" height="21" fill="#8800a9"/>
<text x="798" y="1836.7" font-size="22.7" fill="#2a2a2a">Endothelial Cell</text>
<rect x="752.5" y="1855.1" width="21" height="21" fill="#afbd26"/>
<text x="798" y="1874" font-size="22.7" textLength="125.9" lengthAdjust="spacingAndGlyphs" fill="#2a2a2a">Schwann cell</text>
<rect x="752.5" y="1892.4" width="21" height="21" fill="#70c1ff"/>
<text x="798" y="1911.3" font-size="22.7" fill="#2a2a2a">Acinar Cell</text>
<rect x="752.5" y="1929.7" width="21" height="21" fill="#10035c"/>
<text x="798" y="1948.6" font-size="22.7" fill="#2a2a2a">B_cell</text>
<text x="62.6" y="2072.1" font-size="88">D</text>
<text x="424.7" y="2097" font-size="34" font-weight="bold" textLength="93.5" lengthAdjust="spacingAndGlyphs" fill="#222">PDAC</text>
<rect x="215.8" y="2139.8" width="560.8" height="674.1" fill="#fff" stroke="#1c1c1c" stroke-width="3.2"/>
<rect x="272.5" y="2139.8" width="91.1" height="679" fill="#0a0a0a"/>
<rect x="276.8" y="2154.1" width="82.5" height="194.9" fill="#ff336b"/>
<rect x="276.8" y="2353.9" width="82.5" height="11.3" fill="#fcb9cb"/>
<rect x="276.8" y="2370.4" width="82.5" height="229.1" fill="#ff87bd"/>
<rect x="276.8" y="2603.8" width="82.5" height="75.5" fill="#44e254"/>
<rect x="276.8" y="2683.9" width="82.5" height="3" fill="#70ffd3"/>
<rect x="276.8" y="2690" width="82.5" height="6.1" fill="#1a0a2a"/>
<rect x="276.8" y="2699.1" width="82.5" height="4.6" fill="#afbd26"/>
<rect x="276.8" y="2708.2" width="82.5" height="16.1" fill="#70c1ff"/>
<rect x="276.8" y="2729.2" width="82.5" height="82.8" fill="#10035c"/>
<rect x="448.2" y="2139.8" width="89.9" height="679" fill="#0a0a0a"/>
<rect x="452.5" y="2145.9" width="81.3" height="4" fill="#0a34c7"/>
<rect x="452.5" y="2155.3" width="81.3" height="177.9" fill="#ff336b"/>
<rect x="452.5" y="2338.7" width="81.3" height="29.5" fill="#fcb9cb"/>
<rect x="452.5" y="2373.7" width="81.3" height="124.4" fill="#ff87bd"/>
<rect x="452.5" y="2502.6" width="81.3" height="92.3" fill="#44e254"/>
<rect x="452.5" y="2599.5" width="81.3" height="27.1" fill="#70ffd3"/>
<rect x="452.5" y="2631.5" width="81.3" height="16.4" fill="#e535fe"/>
<rect x="452.5" y="2652.8" width="81.3" height="16.1" fill="#8800a9"/>
<rect x="452.5" y="2673.5" width="81.3" height="15.5" fill="#afbd26"/>
<rect x="452.5" y="2693.9" width="81.3" height="27.1" fill="#70c1ff"/>
<rect x="452.5" y="2725.9" width="81.3" height="86.2" fill="#10035c"/>
<rect x="623.4" y="2139.8" width="91.3" height="679" fill="#0a0a0a"/>
<rect x="627.7" y="2147.7" width="82.7" height="1.1" fill="#afbd26"/>
<rect x="627.7" y="2152.9" width="82.7" height="311.1" fill="#ff336b"/>
<rect x="627.7" y="2468.5" width="82.7" height="5.2" fill="#fcb9cb"/>
<rect x="627.7" y="2478.3" width="82.7" height="100.5" fill="#ff87bd"/>
<rect x="627.7" y="2583.7" width="82.7" height="114.8" fill="#44e254"/>
<rect x="627.7" y="2702.7" width="82.7" height="7" fill="#70ffd3"/>
<rect x="627.7" y="2716.8" width="82.7" height="30.5" fill="#8800a9"/>
<rect x="627.7" y="2754.5" width="82.7" height="4.9" fill="#70c1ff"/>
<rect x="627.7" y="2764" width="82.7" height="48.1" fill="#10035c"/>
<path d="M214.2 2813.9H778.2" stroke="#1c1c1c" stroke-width="3.2"/>
<rect x="627.7" y="2750.9" width="82.7" height="1.6" fill="#e8e8f0"/>
<path d="M208.3 2142.3h3.4" stroke="#222" stroke-width="3"/>
<text x="177.8" y="2148" font-size="21" text-anchor="middle" font-weight="bold" textLength="52.6" lengthAdjust="spacingAndGlyphs" fill="#111">100%</text>
<path d="M208.3 2310.8h3.4" stroke="#222" stroke-width="3"/>
<text x="177.8" y="2316.5" font-size="21" text-anchor="middle" font-weight="bold" textLength="41.2" lengthAdjust="spacingAndGlyphs" fill="#111">75%</text>
<path d="M208.3 2479.3h3.4" stroke="#222" stroke-width="3"/>
<text x="177.8" y="2485" font-size="21" text-anchor="middle" font-weight="bold" textLength="41.2" lengthAdjust="spacingAndGlyphs" fill="#111">50%</text>
<path d="M208.3 2647.8h3.4" stroke="#222" stroke-width="3"/>
<text x="177.8" y="2653.5" font-size="21" text-anchor="middle" font-weight="bold" textLength="41.2" lengthAdjust="spacingAndGlyphs" fill="#111">25%</text>
<path d="M208.3 2816.3h3.4" stroke="#222" stroke-width="3"/>
<text x="177.8" y="2822" font-size="21" text-anchor="middle" font-weight="bold" textLength="29.7" lengthAdjust="spacingAndGlyphs" fill="#111">0%</text>
<circle cx="318" cy="2821" r="1.5" fill="#222"/>
<circle cx="493" cy="2821" r="1.5" fill="#222"/>
<circle cx="669" cy="2821" r="1.5" fill="#222"/>
<text font-size="30.5" text-anchor="middle" font-weight="bold" textLength="240" lengthAdjust="spacingAndGlyphs" fill="#111" transform="translate(127.5 2421) rotate(-90)">Cluster Percent</text>
<text x="302.6" y="2864" font-size="33.7" font-weight="bold" textLength="40" lengthAdjust="spacingAndGlyphs" fill="#111">P1</text>
<text x="470" y="2869" font-size="33.7" font-weight="bold" textLength="40" lengthAdjust="spacingAndGlyphs" fill="#111">P2</text>
<text x="651.6" y="2863" font-size="33.7" font-weight="bold" textLength="40" lengthAdjust="spacingAndGlyphs" fill="#111">P3</text>
<text x="436" y="2915.3" font-size="31.5" font-weight="bold" textLength="114.5" lengthAdjust="spacingAndGlyphs" fill="#111">Sample</text>
<rect x="819.4" y="2167.6" width="26.8" height="26.8" fill="#5aa9fd" stroke="#0a0a0a" stroke-width="4"/>
<text x="869.8" y="2189" font-size="22.8" fill="#222" stroke="#222" stroke-width="0.35">Acinar Cell</text>
<rect x="819.4" y="2214.6" width="26.8" height="26.8" fill="#0a34c7" stroke="#0a0a0a" stroke-width="4"/>
<text x="868.8" y="2236" font-size="22.8" fill="#222" stroke="#222" stroke-width="0.35">B_cell</text>
<rect x="819.4" y="2260.2" width="26.8" height="26.8" fill="#e9de0c" stroke="#0a0a0a" stroke-width="4"/>
<text x="868.8" y="2281.6" font-size="22.8" fill="#222" stroke="#222" stroke-width="0.35">Beta Cell</text>
<rect x="819.4" y="2306.9" width="26.8" height="26.8" fill="#ff336b" stroke="#0a0a0a" stroke-width="4"/>
<text x="869.8" y="2328.3" font-size="22.8" fill="#222" stroke="#222" stroke-width="0.35">Ductal Cell</text>
<rect x="819.4" y="2356.7" width="26.8" height="26.8" fill="#fcb9cb" stroke="#0a0a0a" stroke-width="4"/>
<text x="869.8" y="2378.1" font-size="22.8" fill="#222" stroke="#222" stroke-width="0.35">Endothelial Cell</text>
<rect x="819.4" y="2405.5" width="26.8" height="26.8" fill="#ff87bd" stroke="#0a0a0a" stroke-width="4"/>
<text x="871.4" y="2426.9" font-size="22.8" fill="#222" stroke="#222" stroke-width="0.35">Fibroblasts</text>
<rect x="819.4" y="2455.3" width="26.8" height="26.8" fill="#44e254" stroke="#0a0a0a" stroke-width="4"/>
<text x="870.3" y="2476.7" font-size="22.8" fill="#222" stroke="#222" stroke-width="0.35">Macrophage</text>
<rect x="819.4" y="2505.6" width="26.8" height="26.8" fill="#70ffd3" stroke="#0a0a0a" stroke-width="4"/>
<text x="870.3" y="2527" font-size="22.8" fill="#222" stroke="#222" stroke-width="0.35">Mast Cell</text>
<rect x="819.4" y="2558" width="26.8" height="26.8" fill="#e535fe" stroke="#0a0a0a" stroke-width="4"/>
<text x="867.8" y="2579.4" font-size="22.8" fill="#666">Schwann cell</text>
<rect x="819.4" y="2609.3" width="26.8" height="26.8" fill="#8800a9" stroke="#0a0a0a" stroke-width="4"/>
<text x="870.3" y="2630.7" font-size="22.8" fill="#222" stroke="#222" stroke-width="0.35">Neutrophils</text>
<rect x="819.4" y="2660.6" width="26.8" height="26.8" fill="#afbd26" stroke="#0a0a0a" stroke-width="4"/>
<text x="867.2" y="2682" font-size="22.8" fill="#222" stroke="#222" stroke-width="0.35">Plasma Cell</text>
<rect x="819.4" y="2712" width="26.8" height="26.8" fill="#70c1ff" stroke="#0a0a0a" stroke-width="4"/>
<text x="866.2" y="2733.4" font-size="22.8" fill="#222" stroke="#222" stroke-width="0.35">Stellate</text>
<rect x="819.4" y="2766.4" width="26.8" height="26.8" fill="#10035c" stroke="#0a0a0a" stroke-width="4"/>
<text x="871.4" y="2787.8" font-size="22.8" fill="#222" stroke="#222" stroke-width="0.35">T_cell</text>
<text x="2216.5" y="120.9" font-size="77.4">E</text>
<rect x="2362.4" y="137.9" width="482.3" height="626" fill="#fff" stroke="#111" stroke-width="3.8"/>
<rect x="2387.5" y="137.9" width="42.8" height="628" fill="#060606"/>
<rect x="2391.5" y="139.8" width="34.8" height="1.8" fill="#5aa9fd"/>
<rect x="2391.5" y="151.1" width="34.8" height="87.1" fill="#e9dc0a"/>
<rect x="2391.5" y="243" width="34.8" height="42" fill="#ff336b"/>
<rect x="2391.5" y="289.7" width="34.8" height="137.3" fill="#fcb9cb"/>
<rect x="2391.5" y="431.7" width="34.8" height="38.1" fill="#ff87bd"/>
<rect x="2391.5" y="474.6" width="34.8" height="30.9" fill="#44e254"/>
<rect x="2391.5" y="509.7" width="34.8" height="1.1" fill="#1d4a22"/>
<rect x="2391.5" y="518.7" width="34.8" height="5.3" fill="#8800a9"/>
<rect x="2391.5" y="528.7" width="34.8" height="28" fill="#afbd26"/>
<rect x="2391.5" y="561.4" width="34.8" height="201.7" fill="#70c1ff"/>
<rect x="2407.6" y="765" width="2.6" height="4" fill="#222"/>
<rect x="2465.3" y="137.9" width="42.8" height="628" fill="#060606"/>
<rect x="2469.3" y="140.6" width="34.8" height="4.5" fill="#5aa9fd"/>
<rect x="2469.3" y="149" width="34.8" height="90.3" fill="#e9dc0a"/>
<rect x="2469.3" y="244.1" width="34.8" height="12.7" fill="#ff336b"/>
<rect x="2469.3" y="261.5" width="34.8" height="193" fill="#fcb9cb"/>
<rect x="2469.3" y="459.8" width="34.8" height="54.1" fill="#ff87bd"/>
<rect x="2469.3" y="519.2" width="34.8" height="10.6" fill="#44e254"/>
<rect x="2469.3" y="534.5" width="34.8" height="4.2" fill="#70ffd3"/>
<rect x="2469.3" y="546.9" width="34.8" height="20.6" fill="#8800a9"/>
<rect x="2469.3" y="572.8" width="34.8" height="35.6" fill="#afbd26"/>
<rect x="2469.3" y="613.4" width="34.8" height="149.7" fill="#70c1ff"/>
<rect x="2485.4" y="765" width="2.6" height="4" fill="#222"/>
<rect x="2543" y="137.9" width="42.8" height="628" fill="#060606"/>
<rect x="2547" y="140.6" width="34.8" height="11.6" fill="#5aa9fd"/>
<rect x="2547" y="157.5" width="34.8" height="138" fill="#e9dc0a"/>
<rect x="2547" y="300" width="34.8" height="4" fill="#ff336b"/>
<rect x="2547" y="308.5" width="34.8" height="37.2" fill="#fcb9cb"/>
<rect x="2547" y="350.7" width="34.8" height="113.6" fill="#ff87bd"/>
<rect x="2547" y="469" width="34.8" height="1.6" fill="#1d4a22"/>
<rect x="2547" y="475.6" width="34.8" height="44.9" fill="#e535fe"/>
<rect x="2547" y="525.8" width="34.8" height="2.1" fill="#8800a9"/>
<rect x="2547" y="532.9" width="34.8" height="3.2" fill="#afbd26"/>
<rect x="2547" y="540.6" width="34.8" height="222.5" fill="#70c1ff"/>
<rect x="2563.1" y="765" width="2.6" height="4" fill="#222"/>
<rect x="2620.8" y="137.9" width="42.8" height="628" fill="#060606"/>
<rect x="2624.8" y="140.6" width="34.8" height="42.2" fill="#5aa9fd"/>
<rect x="2624.8" y="187.6" width="34.8" height="102.7" fill="#e9dc0a"/>
<rect x="2624.8" y="294.7" width="34.8" height="4" fill="#ff336b"/>
<rect x="2624.8" y="303.4" width="34.8" height="73.4" fill="#fcb9cb"/>
<rect x="2624.8" y="381.8" width="34.8" height="51.7" fill="#ff87bd"/>
<rect x="2624.8" y="444" width="34.8" height="1.8" fill="#e535fe"/>
<rect x="2624.8" y="450.6" width="34.8" height="1.6" fill="#8800a9"/>
<rect x="2624.8" y="457.2" width="34.8" height="4" fill="#afbd26"/>
<rect x="2624.8" y="465.6" width="34.8" height="297.5" fill="#70c1ff"/>
<rect x="2640.9" y="765" width="2.6" height="4" fill="#222"/>
<rect x="2698.5" y="137.9" width="42.8" height="628" fill="#060606"/>
<rect x="2702.5" y="140.6" width="34.8" height="3.2" fill="#5aa9fd"/>
<rect x="2702.5" y="148.5" width="34.8" height="1.3" fill="#0a34c7"/>
<rect x="2702.5" y="153.8" width="34.8" height="147" fill="#e9dc0a"/>
<rect x="2702.5" y="305.3" width="34.8" height="6.6" fill="#ff336b"/>
<rect x="2702.5" y="316.6" width="34.8" height="233.7" fill="#fcb9cb"/>
<rect x="2702.5" y="555.3" width="34.8" height="36.4" fill="#ff87bd"/>
<rect x="2702.5" y="597.1" width="34.8" height="6.6" fill="#44e254"/>
<rect x="2702.5" y="610.3" width="34.8" height="40.4" fill="#e535fe"/>
<rect x="2702.5" y="655.7" width="34.8" height="2.1" fill="#8800a9"/>
<rect x="2702.5" y="662.5" width="34.8" height="1.1" fill="#4a4a10"/>
<rect x="2702.5" y="667.5" width="34.8" height="95.6" fill="#70c1ff"/>
<rect x="2718.6" y="765" width="2.6" height="4" fill="#222"/>
<rect x="2776.3" y="137.9" width="42.8" height="628" fill="#060606"/>
<rect x="2780.3" y="140.6" width="34.8" height="71.8" fill="#5aa9fd"/>
<rect x="2780.3" y="217.1" width="34.8" height="120.6" fill="#e9dc0a"/>
<rect x="2780.3" y="342.5" width="34.8" height="8.4" fill="#ff336b"/>
<rect x="2780.3" y="355.7" width="34.8" height="57.3" fill="#fcb9cb"/>
<rect x="2780.3" y="417.5" width="34.8" height="46.3" fill="#ff87bd"/>
<rect x="2780.3" y="474.1" width="34.8" height="35.9" fill="#e535fe"/>
<rect x="2780.3" y="515" width="34.8" height="1.8" fill="#8800a9"/>
<rect x="2780.3" y="522.1" width="34.8" height="6.9" fill="#afbd26"/>
<rect x="2780.3" y="533.7" width="34.8" height="229.4" fill="#70c1ff"/>
<rect x="2796.4" y="765" width="2.6" height="4" fill="#222"/>
<path d="M2360.5 763.9H2846.6" stroke="#111" stroke-width="3.8"/>
<path d="M2356 137.9h6" stroke="#111" stroke-width="2.5"/>
<text x="2329" y="141.9" font-size="22.5" text-anchor="middle" textLength="56.4" lengthAdjust="spacingAndGlyphs">100%</text>
<path d="M2356 294.4h6" stroke="#111" stroke-width="2.5"/>
<text x="2329" y="300.4" font-size="22.5" text-anchor="middle" textLength="44.1" lengthAdjust="spacingAndGlyphs">75%</text>
<path d="M2356 450.9h6" stroke="#111" stroke-width="2.5"/>
<text x="2329" y="456.9" font-size="22.5" text-anchor="middle" textLength="44.1" lengthAdjust="spacingAndGlyphs">50%</text>
<path d="M2356 607.4h6" stroke="#111" stroke-width="2.5"/>
<text x="2329" y="613.4" font-size="22.5" text-anchor="middle" textLength="44.1" lengthAdjust="spacingAndGlyphs">25%</text>
<path d="M2356 763.9h6" stroke="#111" stroke-width="2.5"/>
<text x="2329" y="769.9" font-size="22.5" text-anchor="middle" textLength="31.9" lengthAdjust="spacingAndGlyphs">0%</text>
<text font-size="29" text-anchor="middle" font-weight="bold" textLength="221.6" lengthAdjust="spacingAndGlyphs" transform="translate(2288.5 391) rotate(-90)">Cluster Percent</text>
<text x="2394.8" y="807" font-size="26.3">P1</text>
<text x="2473.5" y="808" font-size="26.3">P2</text>
<text x="2552.9" y="808" font-size="26.3">P3</text>
<text x="2630" y="810.4" font-size="26.3">P4</text>
<text x="2709.7" y="812" font-size="26.3">P5</text>
<text x="2782.4" y="812" font-size="26.3">P6</text>
<text x="2559.7" y="844.5" font-size="26.4" font-weight="bold" textLength="95.5" lengthAdjust="spacingAndGlyphs">Sample</text>
<rect x="2881.8" y="244.7" width="26.6" height="26.6" fill="#5aa9fd" stroke="#060606" stroke-width="4"/>
<text x="2928.7" y="265.8" font-size="23.2">B_cell</text>
<rect x="2881.8" y="287.2" width="26.6" height="26.6" fill="#0a34c7" stroke="#060606" stroke-width="4"/>
<text x="2928.7" y="308.3" font-size="23.2">Beta Cell</text>
<rect x="2881.8" y="329.7" width="26.6" height="26.6" fill="#e9dc0a" stroke="#060606" stroke-width="4"/>
<text x="2928.7" y="350.8" font-size="23.2">Ductal cells</text>
<rect x="2881.8" y="374.4" width="26.6" height="26.6" fill="#ff336b" stroke="#060606" stroke-width="4"/>
<text x="2928.7" y="395.5" font-size="23.2">Endothelial Cell</text>
<rect x="2881.8" y="418.7" width="26.6" height="26.6" fill="#fcb9cb" stroke="#060606" stroke-width="4"/>
<text x="2928.7" y="439.8" font-size="23.2">Fibroblasts</text>
<rect x="2881.8" y="459.8" width="26.6" height="26.6" fill="#ff87bd" stroke="#060606" stroke-width="4"/>
<text x="2928.7" y="480.9" font-size="23.2">Macrophage</text>
<rect x="2881.8" y="497.3" width="26.6" height="26.6" fill="#44e254" stroke="#060606" stroke-width="4"/>
<text x="2928.7" y="518.4" font-size="23.2">Mast</text>
<rect x="2881.8" y="537.5" width="26.6" height="26.6" fill="#70ffd3" stroke="#060606" stroke-width="4"/>
<text x="2928.7" y="558.6" font-size="23.2">Neurons</text>
<rect x="2881.8" y="579.1" width="26.6" height="26.6" fill="#e535fe" stroke="#060606" stroke-width="4"/>
<text x="2928.7" y="600.2" font-size="23.2">Neutrophils</text>
<rect x="2881.8" y="620.7" width="26.6" height="26.6" fill="#8800a9" stroke="#060606" stroke-width="4"/>
<text x="2928.7" y="641.8" font-size="23.2">Plasma Cell</text>
<rect x="2881.8" y="661.3" width="26.6" height="26.6" fill="#afbd26" stroke="#060606" stroke-width="4"/>
<text x="2928.7" y="682.4" font-size="23.2">Stellate Cell</text>
<rect x="2881.8" y="701.5" width="26.6" height="26.6" fill="#70c1ff" stroke="#060606" stroke-width="4"/>
<text x="2928.7" y="722.6" font-size="23.2">T_cell</text>
<text x="2214.9" y="955.9" font-size="73">F</text>
<path d="M2471.4 1141L2471.4 927A214 214 0 0 1 2658.3 1245.2Z" fill="#5aa9fd" stroke="#5aa9fd" stroke-width="0.6"/><path d="M2471.4 1141L2658.3 1245.2A214 214 0 0 1 2656.3 1248.7Z" fill="#70c1ff" stroke="#70c1ff" stroke-width="0.6"/><path d="M2471.4 1141L2656.3 1248.7A214 214 0 0 1 2652.4 1255.1Z" fill="#e535fe" stroke="#e535fe" stroke-width="0.6"/><path d="M2471.4 1141L2652.4 1255.1A214 214 0 0 1 2639 1274.1Z" fill="#70ffd3" stroke="#70ffd3" stroke-width="0.6"/><path d="M2471.4 1141L2639 1274.1A214 214 0 0 1 2619.2 1295.8Z" fill="#afbd26" stroke="#afbd26" stroke-width="0.6"/><path d="M2471.4 1141L2619.2 1295.8A214 214 0 0 1 2586.7 1321.3Z" fill="#8800a9" stroke="#8800a9" stroke-width="0.6"/><path d="M2471.4 1141L2586.7 1321.3A214 214 0 0 1 2549.9 1340.1Z" fill="#44e254" stroke="#44e254" stroke-width="0.6"/><path d="M2471.4 1141L2549.9 1340.1A214 214 0 0 1 2503.3 1352.6Z" fill="#ff2f6c" stroke="#ff2f6c" stroke-width="0.6"/><path d="M2471.4 1141L2503.3 1352.6A214 214 0 0 1 2447.5 1353.7Z" fill="#fcb9cb" stroke="#fcb9cb" stroke-width="0.6"/><path d="M2471.4 1141L2447.5 1353.7A214 214 0 0 1 2328.2 1300Z" fill="#e9de0c" stroke="#e9de0c" stroke-width="0.6"/><path d="M2471.4 1141L2328.2 1300A214 214 0 0 1 2268.6 1072.7Z" fill="#0a34c7" stroke="#0a34c7" stroke-width="0.6"/><path d="M2471.4 1141L2268.6 1072.7A214 214 0 0 1 2471.4 927Z" fill="#ff87bd" stroke="#ff87bd" stroke-width="0.6"/>
<text transform="translate(2576 1082.5) rotate(0)" y="11.3" font-size="31.5" text-anchor="middle" font-weight="bold" textLength="107" lengthAdjust="spacingAndGlyphs">33.09%</text>
<text transform="translate(2397.9 1031.3) rotate(0)" y="11.3" font-size="31.5" text-anchor="middle" font-weight="bold" textLength="107" lengthAdjust="spacingAndGlyphs">19.83%</text>
<text transform="translate(2343 1175.2) rotate(0)" y="11.3" font-size="31.5" text-anchor="middle" font-weight="bold" fill="#fff" textLength="107" lengthAdjust="spacingAndGlyphs">18.50%</text>
<text transform="translate(2408.4 1290.4) rotate(0)" y="11.3" font-size="31.5" text-anchor="middle" font-weight="bold" textLength="89" lengthAdjust="spacingAndGlyphs">9.89%</text>
<text transform="translate(2475.1 1312.3) rotate(88.5)" y="10.1" font-size="28.3" text-anchor="middle" font-weight="bold" textLength="80.3" lengthAdjust="spacingAndGlyphs">4.16%</text>
<text transform="translate(2515.2 1309.4) rotate(73.7)" y="8.9" font-size="25" text-anchor="middle" font-weight="bold" textLength="71" lengthAdjust="spacingAndGlyphs">3.60%</text>
<text transform="translate(2552.2 1299.5) rotate(63.4)" y="8.4" font-size="23.5" text-anchor="middle" font-weight="bold" textLength="66.7" lengthAdjust="spacingAndGlyphs">3.08%</text>
<text transform="translate(2580.6 1281) rotate(54.6)" y="8.4" font-size="23.4" text-anchor="middle" font-weight="bold" fill="#fff" textLength="66.3" lengthAdjust="spacingAndGlyphs">3.07%</text>
<text transform="translate(2607.6 1266.8) rotate(45)" y="6.6" font-size="18.4" text-anchor="middle" font-weight="bold" textLength="52.3" lengthAdjust="spacingAndGlyphs">2.19%</text>
<text transform="translate(2624.7 1249.7) rotate(39.3)" y="5" font-size="15" text-anchor="middle" fill="#5c9c8c" style="font-family:'Liberation Serif',serif" textLength="40.4" lengthAdjust="spacingAndGlyphs">1. 73%</text>
<text transform="translate(2646 1246.5) rotate(33)" y="1.5" font-size="5" text-anchor="middle" fill="#b46ad0">0.56%</text>
<rect x="2785.8" y="941" width="19" height="19" fill="#5aa9fd"/>
<text x="2827.3" y="959.1" font-size="23.5">T_cells</text>
<rect x="2785.8" y="976.7" width="19" height="19" fill="#0a34c7"/>
<text x="2827.3" y="994.8" font-size="23.5">Ductal cells</text>
<rect x="2785.8" y="1012.4" width="19" height="19" fill="#e9de0c"/>
<text x="2827.3" y="1030.5" font-size="23.5">Macrophage</text>
<rect x="2785.8" y="1048" width="19" height="19" fill="#ff2f6c"/>
<text x="2827.3" y="1066.1" font-size="23.5">Neutrophils</text>
<rect x="2785.8" y="1083.7" width="19" height="19" fill="#fcb9cb"/>
<text x="2827.3" y="1101.8" font-size="23.5">B_cell</text>
<rect x="2785.8" y="1119.4" width="19" height="19" fill="#ff87bd"/>
<text x="2827.3" y="1137.5" font-size="23.5">Fibroblasts</text>
<rect x="2785.8" y="1155.1" width="19" height="19" fill="#44e254"/>
<text x="2827.3" y="1173.2" font-size="23.5">Endothelial Cell</text>
<rect x="2785.8" y="1190.8" width="19" height="19" fill="#70ffd3"/>
<text x="2827.3" y="1208.9" font-size="23.5">Plasma Cell</text>
<rect x="2785.8" y="1226.4" width="19" height="19" fill="#e535fe"/>
<text x="2827.3" y="1244.5" font-size="23.5">Neurons</text>
<rect x="2785.8" y="1262.1" width="19" height="19" fill="#8800a9"/>
<text x="2827.3" y="1280.2" font-size="23.5">Stellate</text>
<rect x="2785.8" y="1297.8" width="19" height="19" fill="#afbd26"/>
<text x="2827.3" y="1315.9" font-size="23.5">Mast</text>
<rect x="2785.8" y="1333.5" width="19" height="19" fill="#70c1ff"/>
<text x="2827.3" y="1351.6" font-size="23.5">Beta Cell</text>
<text x="2200.5" y="1500.6" font-size="73">G</text>
<text x="2544" y="1509.6" font-size="28" font-weight="bold" textLength="34.6" lengthAdjust="spacingAndGlyphs">F3</text>
<path d="M2327.1 1767.3C2328.6 1767.5 2330.6 1769.4 2332.1 1772C2333.6 1774.6 2335 1779 2336.2 1782.8C2337.3 1786.6 2337.8 1790.5 2339.2 1794.7C2340.5 1798.8 2342.4 1803.3 2344.2 1807.6C2346 1811.9 2348.5 1816.6 2350.2 1820.5C2351.9 1824.5 2353.7 1827.7 2354.2 1831.3C2354.7 1834.9 2353.7 1838.1 2353.2 1842.1C2352.7 1846 2352.1 1850.7 2351.2 1855C2350.4 1859.3 2349.7 1863.2 2348.2 1867.9C2346.7 1872.6 2344.5 1878 2342.2 1883C2339.8 1888 2336.8 1894.3 2334.2 1898.1C2331.5 1901.9 2328.6 1903.9 2326.1 1905.6C2323.6 1907.3 2321.3 1909 2319.1 1908.4C2316.9 1907.9 2314.7 1905.6 2313.1 1902.4C2311.4 1899.2 2310 1893.8 2309 1889.5C2308.1 1885.2 2307.5 1880.8 2307.6 1876.5C2307.8 1872.2 2309.5 1867.6 2310.1 1863.6C2310.6 1859.7 2310.4 1856.4 2311.1 1852.8C2311.7 1849.2 2313.9 1845.7 2314.1 1842.1C2314.2 1838.5 2312.9 1834.9 2312.1 1831.3C2311.2 1827.7 2309 1824.1 2309 1820.5C2309 1816.9 2310.7 1813.7 2312.1 1809.7C2313.4 1805.8 2315.7 1801.5 2317.1 1796.8C2318.4 1792.1 2319.1 1786 2320.1 1781.7C2321.1 1777.4 2321.9 1773.4 2323.1 1771C2324.3 1768.5 2325.6 1767.1 2327.1 1767.3ZM2425.5 1800C2426.4 1796.6 2428.9 1791.6 2431.6 1788.2C2434.2 1784.8 2437.9 1781.7 2441.6 1779.6C2445.3 1777.4 2449.3 1776.2 2453.6 1775.3C2458 1774.4 2463 1774.5 2467.7 1774.2C2472.4 1773.8 2477.1 1772.8 2481.8 1773.1C2486.4 1773.5 2491.5 1774.7 2495.8 1776.3C2500.2 1778 2503.9 1780.3 2507.9 1782.8C2511.9 1785.3 2515.9 1788.7 2519.9 1791.4C2523.9 1794.1 2528.6 1795.9 2532 1799C2535.3 1802 2537.8 1805.8 2540 1809.7C2542.2 1813.7 2544 1818 2545 1822.7C2546 1827.3 2545.4 1833.1 2546 1837.8C2546.7 1842.4 2549 1846 2549 1850.7C2549 1855.3 2547.5 1861.5 2546 1865.8C2544.5 1870.1 2542.3 1873.5 2540 1876.5C2537.7 1879.6 2535 1882.3 2532 1884.1C2529 1885.9 2525.6 1887 2521.9 1887.3C2518.2 1887.7 2513.9 1887 2509.9 1886.2C2505.9 1885.5 2501.8 1883.4 2497.8 1883C2493.8 1882.6 2489.8 1883 2485.8 1884.1C2481.8 1885.2 2477.7 1887.5 2473.7 1889.5C2469.7 1891.4 2465.7 1894.2 2461.7 1895.9C2457.7 1897.7 2453.3 1899.6 2449.6 1899.8C2446 1900 2442.6 1898.4 2439.6 1897C2436.6 1895.6 2433.4 1893.6 2431.6 1891.6C2429.7 1889.6 2428.4 1887.5 2428.5 1885.2C2428.7 1882.8 2430.7 1879.9 2432.6 1877.6C2434.4 1875.3 2437.8 1873.3 2439.6 1871.2C2441.4 1869 2442.1 1867.2 2443.6 1864.7C2445.1 1862.2 2447.5 1859.3 2448.6 1856.1C2449.8 1852.8 2451.1 1848.9 2450.6 1845.3C2450.1 1841.7 2447.7 1837.9 2445.6 1834.5C2443.5 1831.2 2440.5 1828.3 2438 1825.3C2435.5 1822.2 2432.7 1819 2430.8 1816.2C2428.8 1813.4 2427 1811.4 2426.1 1808.7C2425.3 1806 2424.6 1803.5 2425.5 1800ZM2556.1 1867.9C2556.7 1867.5 2558.4 1873.8 2560.1 1876.1C2561.8 1878.4 2563.6 1880.5 2566.1 1881.9C2568.6 1883.4 2572.1 1884.1 2575.1 1884.7C2578.2 1885.3 2581.7 1886.2 2584.2 1885.6C2586.7 1884.9 2588.5 1882.8 2590.2 1880.8C2591.9 1878.9 2592.7 1876.5 2594.2 1874C2595.7 1871.4 2597.6 1867.4 2599.2 1865.8C2600.9 1864.1 2603.9 1862.8 2604.3 1864.3C2604.6 1865.7 2602.1 1870.9 2601.2 1874.4C2600.4 1877.9 2599.6 1881.6 2599 1885.2C2598.5 1888.7 2599.1 1893.1 2597.8 1895.5C2596.5 1897.9 2593.8 1898.8 2591.2 1899.4C2588.6 1899.9 2585 1899.2 2582.2 1898.7C2579.3 1898.2 2576.8 1897.5 2574.1 1896.4C2571.5 1895.2 2568.4 1893.6 2566.1 1892.1C2563.8 1890.5 2561.7 1889.1 2560.1 1886.9C2558.5 1884.7 2557.1 1881.9 2556.5 1878.7C2555.8 1875.5 2555.5 1868.3 2556.1 1867.9ZM2512.3 1887.7C2512.8 1887.4 2515.6 1893.1 2516.9 1895.9C2518.2 1898.7 2519.9 1902.8 2519.9 1904.5C2519.9 1906.3 2517.9 1907.3 2516.9 1906.3C2515.9 1905.2 2514.7 1901.2 2513.9 1898.1C2513.1 1895 2511.8 1888.1 2512.3 1887.7ZM2531 1893.8C2531.5 1893.8 2534.6 1899.2 2536 1902.4C2537.3 1905.6 2539.2 1910.8 2539 1913.2C2538.8 1915.5 2536.2 1916.8 2535 1916.4C2533.8 1916 2532.3 1913.3 2532 1911C2531.6 1908.7 2533.1 1905.3 2533 1902.4C2532.8 1899.5 2530.5 1893.8 2531 1893.8ZM2363.3 1982.1C2362.9 1980 2365 1977.1 2367.3 1975.7C2369.6 1974.2 2375 1974.4 2377.3 1973.5C2379.7 1972.6 2380 1969.9 2381.4 1970.3C2382.7 1970.6 2383 1974.4 2385.4 1975.7C2387.7 1976.9 2394.1 1976.4 2395.4 1977.8C2396.8 1979.2 2395.1 1982.7 2393.4 1984.3C2391.7 1985.9 2388.1 1986.5 2385.4 1987.5C2382.7 1988.5 2380 1990.1 2377.3 1990.3C2374.7 1990.5 2371.7 1989.9 2369.3 1988.6C2367 1987.2 2363.6 1984.3 2363.3 1982.1ZM2417.5 2030.6C2418.3 2028.8 2421.4 2027.3 2423.5 2027.4C2425.7 2027.5 2430.2 2029.6 2430.6 2031.2C2430.9 2032.9 2427.5 2035.9 2425.5 2037.1C2423.5 2038.2 2419.8 2039.2 2418.5 2038.1C2417.2 2037.1 2416.7 2032.4 2417.5 2030.6ZM2555.2 1583.3C2555.2 1581.4 2558.8 1573.5 2561.2 1570.4C2563.5 1567.3 2566 1565.7 2569.2 1564.6C2572.4 1563.5 2576.4 1563.3 2580.3 1563.9C2584.1 1564.6 2588.3 1566.3 2592.3 1568.3C2596.3 1570.2 2601 1573.1 2604.4 1575.8C2607.7 1578.5 2611.4 1582.5 2612.4 1584.4C2613.4 1586.3 2612.4 1586.8 2610.4 1587C2608.4 1587.2 2603.7 1586.6 2600.3 1585.5C2597 1584.3 2593.3 1580.3 2590.3 1580.1C2587.3 1579.9 2583.9 1581.9 2582.3 1584.4C2580.6 1586.9 2581.1 1591.2 2580.3 1595.2C2579.4 1599.1 2578.4 1605.8 2577.2 1608.1C2576.1 1610.4 2574.4 1609.9 2573.2 1609.2C2572.1 1608.5 2570.7 1606.9 2570.2 1603.8C2569.7 1600.8 2570.6 1594.5 2570.2 1590.9C2569.9 1587.3 2569.7 1583.7 2568.2 1582.3C2566.7 1580.8 2563.4 1582.1 2561.2 1582.3C2559 1582.4 2555.2 1585.3 2555.2 1583.3ZM2785.6 1765.4C2786.4 1763.3 2790 1761.1 2791.6 1761.1C2793.3 1761.1 2794.6 1763.3 2795.7 1765.4C2796.7 1767.6 2797.7 1771.2 2797.7 1774C2797.7 1776.9 2796.8 1780.3 2795.7 1782.6C2794.5 1785 2792.1 1787.1 2790.6 1788C2789.1 1788.9 2787.6 1789.1 2786.6 1788C2785.6 1787 2784.6 1783.9 2784.6 1781.6C2784.6 1779.2 2786.4 1776.7 2786.6 1774C2786.8 1771.3 2784.8 1767.6 2785.6 1765.4ZM2640.5 1842.5C2640.5 1842.1 2640.8 1834.3 2640.5 1830C2640.2 1825.8 2639.7 1821.1 2638.5 1817.1C2637.3 1813.2 2633.8 1809.9 2633.5 1806.3C2633.1 1802.8 2636.3 1799.5 2636.5 1795.6C2636.7 1791.6 2636.2 1786.2 2634.5 1782.6C2632.8 1779.1 2628.6 1776.5 2626.4 1774C2624.3 1771.5 2621.8 1770.4 2621.4 1767.6C2621.1 1764.7 2623.6 1760.7 2624.4 1756.8C2625.3 1752.8 2625.8 1747.8 2626.4 1743.9C2627.1 1739.9 2626.8 1736.5 2628.5 1733.1C2630.1 1729.7 2632.8 1726.3 2636.5 1723.4C2640.2 1720.5 2646.2 1717.8 2650.5 1715.8C2654.9 1713.9 2658.2 1713.5 2662.6 1711.5C2666.9 1709.6 2673.3 1704 2676.7 1704C2680 1704 2680 1709.9 2682.7 1711.5C2685.4 1713.2 2689.7 1711.5 2692.7 1713.7C2695.7 1715.8 2698.7 1720.2 2700.7 1724.5C2702.8 1728.8 2704.3 1734.9 2704.8 1739.6C2705.3 1744.2 2704.8 1748.2 2703.8 1752.5C2702.8 1756.8 2700.2 1760.7 2698.7 1765.4C2697.2 1770.1 2696.1 1775.5 2694.7 1780.5C2693.4 1785.5 2692 1790.9 2690.7 1795.6C2689.4 1800.2 2688 1804.9 2686.7 1808.5C2685.4 1812.1 2683.7 1816.4 2682.7 1817.1C2681.7 1817.9 2682.5 1812.3 2680.7 1813.1C2678.8 1813.8 2674 1818.8 2671.6 1821.7C2669.3 1824.6 2668.5 1826.7 2666.6 1830.3C2664.8 1833.9 2662.9 1839.7 2660.6 1843.2C2658.2 1846.8 2655.6 1850.2 2652.6 1851.9C2649.5 1853.5 2645 1853.7 2642.5 1852.9C2640 1852.2 2637.8 1851 2637.5 1847.6C2637.2 1844.1 2640 1833.3 2640.5 1832.5C2641 1831.6 2640.5 1843 2640.5 1842.5ZM2671.6 1821.7C2672 1821 2674.8 1820.8 2676.7 1821.7C2678.5 1822.6 2680.7 1824.8 2682.7 1827.1C2684.7 1829.4 2687 1832.8 2688.7 1835.7C2690.4 1838.6 2691.2 1841.8 2692.7 1844.3C2694.2 1846.8 2696.1 1850.1 2697.7 1850.8C2699.4 1851.5 2700.9 1850.2 2702.8 1848.6C2704.6 1847 2707.1 1843.6 2708.8 1841.1C2710.5 1838.6 2710.8 1834.4 2712.8 1833.6C2714.8 1832.7 2718 1834.8 2720.8 1835.7C2723.7 1836.6 2728.9 1837.7 2729.9 1838.9C2730.9 1840.2 2728.9 1840.7 2726.9 1843.2C2724.8 1845.8 2721.2 1850.6 2717.8 1854C2714.5 1857.4 2710.6 1861.6 2706.8 1863.7C2702.9 1865.9 2698.1 1867.5 2694.7 1866.9C2691.4 1866.4 2688.4 1863.4 2686.7 1860.5C2685 1857.6 2684.9 1853.1 2684.7 1849.7C2684.5 1846.3 2686.4 1843.2 2685.7 1840C2685 1836.8 2682.5 1832.7 2680.7 1830.3C2678.8 1828 2676.1 1827.4 2674.6 1826C2673.1 1824.6 2671.3 1822.4 2671.6 1821.7ZM2562.2 1996.2C2562.4 1993.9 2563.2 1990.8 2565.2 1990.8C2567.2 1990.8 2571.1 1994.8 2574.2 1996.2C2577.4 1997.7 2581.6 1998.4 2584.3 1999.5C2587 2000.5 2588 2003.2 2590.3 2002.7C2592.6 2002.2 2595.3 1998 2598.3 1996.2C2601.3 1994.4 2604.7 1993.2 2608.4 1991.9C2612.1 1990.7 2616.6 1989.6 2620.4 1988.7C2624.3 1987.8 2628.6 1985.3 2631.5 1986.5C2634.3 1987.8 2635.7 1992.5 2637.5 1996.2C2639.3 2000 2640.3 2005.2 2642.5 2009.2C2644.7 2013.1 2648.5 2016.7 2650.5 2019.9C2652.6 2023.2 2654.1 2023.9 2654.6 2028.6C2655.1 2033.2 2653.4 2042.6 2653.6 2047.9C2653.7 2053.3 2654.7 2058.4 2655.6 2060.9C2656.4 2063.4 2659.4 2062 2658.6 2063C2657.7 2064.1 2653.6 2065.9 2650.5 2067.3C2647.5 2068.8 2643.7 2070.4 2640.5 2071.6C2637.3 2072.9 2634.5 2074.9 2631.5 2074.9C2628.5 2074.9 2625.3 2072.7 2622.4 2071.6C2619.6 2070.6 2617.1 2069.1 2614.4 2068.4C2611.7 2067.7 2609 2067.9 2606.4 2067.3C2603.7 2066.8 2601.3 2065.7 2598.3 2065.2C2595.3 2064.6 2591.3 2064.1 2588.3 2064.1C2585.3 2064.1 2583.3 2064.9 2580.3 2065.2C2577.2 2065.5 2570.4 2066.9 2570.2 2065.8C2570.1 2064.8 2576.6 2061.7 2579.3 2058.7C2581.9 2055.7 2584.8 2051.9 2586.3 2047.9C2587.8 2044 2588.6 2039 2588.3 2035C2588 2031.1 2586.3 2027.1 2584.3 2024.2C2582.3 2021.4 2578.9 2019.9 2576.2 2017.8C2573.6 2015.6 2570.2 2013.5 2568.2 2011.3C2566.2 2009.2 2565.2 2007.4 2564.2 2004.9C2563.2 2002.3 2562 1998.6 2562.2 1996.2ZM2578.3 1974.7C2579.6 1972.4 2582.6 1968 2585.3 1967.1C2588 1966.2 2592 1968.2 2594.3 1969.3C2596.7 1970.4 2599 1971.3 2599.3 1973.6C2599.7 1975.9 2596.3 1980.3 2596.3 1983.3C2596.3 1986.4 2598.3 1989.6 2599.3 1991.9C2600.3 1994.3 2603.5 1996.1 2602.4 1997.3C2601.2 1998.6 2594.7 2001.4 2592.3 1999.5C2590 1997.5 2590 1988.2 2588.3 1985.5C2586.6 1982.8 2584.1 1984 2582.3 1983.3C2580.4 1982.6 2577.9 1982.6 2577.2 1981.1C2576.6 1979.7 2576.9 1977 2578.3 1974.7ZM2622.4 1948.8C2623.9 1947.6 2628.6 1946.7 2630.5 1947.8C2632.3 1948.8 2633.5 1953 2633.5 1955.3C2633.5 1957.6 2632 1960.5 2630.5 1961.8C2629 1963 2625.9 1963.9 2624.4 1962.8C2622.9 1961.8 2621.8 1957.6 2621.4 1955.3C2621.1 1953 2620.9 1950.1 2622.4 1948.8ZM2612.4 1928.8C2612.9 1927.7 2620.3 1929.7 2622.4 1931.6C2624.6 1933.5 2625.1 1937.3 2625.4 1940.2C2625.8 1943.1 2625.3 1947.4 2624.4 1948.8C2623.6 1950.3 2621.3 1950.6 2620.4 1948.8C2619.6 1947 2620.8 1941.4 2619.4 1938.1C2618.1 1934.7 2611.9 1929.9 2612.4 1928.8ZM2447.6 1628.9C2448.3 1628.1 2449.7 1627.2 2450.8 1627.2C2451.9 1627.2 2453.8 1627.9 2454.5 1628.7C2455.2 1629.4 2455.3 1630.5 2455 1631.5C2454.7 1632.5 2453.7 1634 2452.7 1634.5C2451.7 1635.1 2449.9 1635 2448.9 1634.5C2447.9 1634.1 2447 1632.9 2446.8 1631.9C2446.6 1631 2447 1629.7 2447.6 1628.9ZM2509.8 1627.2C2511.8 1625.3 2516.2 1624.4 2519.3 1623.8C2522.5 1623.2 2527.5 1621.9 2528.8 1623.8C2530.1 1625.7 2527.8 1631.7 2527.2 1635.1C2526.7 1638.5 2525.6 1641.1 2525.7 1644.2C2525.7 1647.2 2528.3 1650.4 2527.8 1653.2C2527.2 1656 2524.2 1659.1 2522.5 1661.1C2520.8 1663.2 2518.9 1665.5 2517.7 1665.7C2516.6 1665.8 2515.9 1664.3 2515.6 1662.3C2515.4 1660.2 2516.6 1655.9 2516.2 1653.2C2515.7 1650.6 2514.1 1648.7 2513 1646.4C2511.9 1644.2 2510.2 1641.5 2509.3 1639.6C2508.4 1637.7 2507.6 1637.2 2507.7 1635.1C2507.8 1633 2507.9 1629.1 2509.8 1627.2ZM2499.8 1725.1C2499.3 1723.5 2501.1 1719.9 2502.5 1720C2503.8 1720.1 2506.1 1723.7 2507.7 1725.6C2509.4 1727.5 2511.9 1730 2512.5 1731.3C2513 1732.5 2512 1733.3 2510.9 1733C2509.8 1732.6 2507.5 1730.3 2505.6 1729C2503.8 1727.7 2500.3 1726.6 2499.8 1725.1ZM2491.1 2079.9C2491.6 2077.1 2493.9 2073.5 2496.1 2070.2C2498.3 2067 2501.5 2062.8 2504.2 2060.6C2506.8 2058.3 2509.7 2056.5 2512.2 2056.9C2514.7 2057.2 2517.2 2060.3 2519.2 2062.7C2521.2 2065.1 2523.6 2068.3 2524.2 2071.3C2524.9 2074.4 2524.6 2078.3 2523.2 2081C2521.9 2083.7 2519 2085.7 2516.2 2087.5C2513.4 2089.3 2509 2090.8 2506.2 2091.8C2503.3 2092.8 2501.3 2094.2 2499.1 2093.5C2497 2092.8 2494.4 2089.7 2493.1 2087.5C2491.8 2085.2 2490.6 2082.8 2491.1 2079.9Z" fill="#cdd6d8" stroke="#cdd6d8" stroke-width="2.5" stroke-linejoin="round"/>
<path d="M34 338h0M45 373h0M68 328h0M31 338h0M62 302h0M32 353h0M70 340h0M37 308h0M55 292h0M57 317h0M57 340h0M68 297h0M50 251h0M54 276h0M54 317h0M62 362h0M57 304h0M40 304h0M39 375h0M57 312h0M52 265h0M48 342h0M65 299h0M62 345h0M41 267h0M45 299h0M36 354h0M58 282h0M61 347h0M40 373h0M52 320h0M53 322h0M66 340h0M67 331h0M54 285h0M59 351h0M37 313h0M62 332h0M42 303h0M34 312h0M34 325h0M35 321h0M56 372h0M32 336h0M68 332h0M61 282h0M40 262h0M58 372h0M68 290h0M41 388h0M36 289h0M51 255h0M69 299h0M72 319h0M42 388h0M38 277h0M47 247h0M75 312h0M61 266h0M31 293h0M73 320h0M72 337h0M70 304h0M31 330h0M28 363h0M74 312h0M41 385h0M29 347h0M32 378h0M72 324h0M55 380h0M63 288h0M38 278h0M61 286h0M73 307h0M151 370h0M164 378h0M165 348h0M170 280h0M228 300h0M175 325h0M190 314h0M148 277h0M160 285h0M224 342h0M162 293h0M161 361h0M170 309h0M152 295h0M155 281h0M226 273h0M171 311h0M177 351h0M152 289h0M177 333h0M160 300h0M152 372h0M161 293h0M156 366h0M151 279h0M170 321h0M161 370h0M191 258h0M200 255h0M172 308h0M162 365h0M151 369h0M250 277h0M160 376h0M170 256h0M170 381h0M159 375h0M150 362h0M172 257h0M150 280h0M173 330h0M258 287h0M263 294h0M251 281h0M168 331h0M149 364h0M236 366h0M158 306h0M159 353h0M149 293h0M167 340h0M220 365h0M202 254h0M148 273h0M151 369h0M156 303h0M226 261h0M161 375h0M297 375h0M298 365h0M281 356h0M275 357h0M315 355h0M323 358h0M272 351h0M310 360h0M312 382h0M308 380h0M279 354h0M296 377h0M232 369h0M236 373h0M249 374h0M258 396h0M250 383h0M288 302h0M286 307h0M281 298h0M284 307h0M281 314h0M282 301h0M281 299h0M278 295h0M274 294h0M291 300h0M290 296h0M278 309h0M97 465h0M111 461h0M105 465h0M83 461h0M88 454h0M116 458h0M95 469h0M86 466h0M103 455h0M138 513h0M148 512h0M143 517h0M140 518h0M321 56h0M307 58h0M297 46h0M280 62h0M291 81h0M335 65h0M291 89h0M301 70h0M292 47h0M282 48h0M295 42h0M285 64h0M328 67h0M279 60h0M286 60h0M513 239h0M512 242h0M519 258h0M357 285h0M399 191h0M358 278h0M390 277h0M387 255h0M374 312h0M373 330h0M392 189h0M403 235h0M362 326h0M359 275h0M365 281h0M358 292h0M397 190h0M357 285h0M372 331h0M357 292h0M391 189h0M365 300h0M374 197h0M355 281h0M363 269h0M360 262h0M366 318h0M359 294h0M375 321h0M344 246h0M353 241h0M402 294h0M360 318h0M339 251h0M386 192h0M368 196h0M405 194h0M398 185h0M359 321h0M360 313h0M378 328h0M351 255h0M392 302h0M342 241h0M363 313h0M355 324h0M361 315h0M347 256h0M342 245h0M345 219h0M359 199h0M356 325h0M361 313h0M398 295h0M353 287h0M356 276h0M400 192h0M377 193h0M357 278h0M411 274h0M368 333h0M400 186h0M429 329h0M408 328h0M414 343h0M408 338h0M437 334h0M410 315h0M415 325h0M395 301h0M435 315h0M414 323h0M408 345h0M409 343h0M401 302h0M443 327h0M397 308h0M324 543h0M304 494h0M312 527h0M354 470h0M359 542h0M323 531h0M321 521h0M323 505h0M351 546h0M358 543h0M377 543h0M327 493h0M302 494h0M314 521h0M366 505h0M357 542h0M346 548h0M346 501h0M312 533h0M366 529h0M283 472h0M317 509h0M352 524h0M328 531h0M295 487h0M323 496h0M341 469h0M349 482h0M313 523h0M307 543h0M309 543h0M344 551h0M298 548h0M362 481h0M306 523h0M333 471h0M358 479h0M350 560h0M371 550h0M284 471h0M375 540h0M342 469h0M377 540h0M307 518h0M373 550h0M308 512h0M283 475h0M351 555h0M315 478h0M287 489h0M286 486h0M363 550h0M299 538h0M347 467h0M305 546h0M354 552h0M354 470h0M323 546h0M307 542h0M316 477h0M305 464h0M313 473h0M313 469h0M308 450h0M318 452h0M316 459h0M296 457h0M315 466h0M317 462h0M321 478h0M310 471h0M312 448h0M311 450h0M320 473h0M324 477h0M310 471h0M347 441h0M347 440h0M347 436h0M343 441h0M354 441h0M342 435h0M345 441h0M341 423h0M347 419h0M338 421h0M337 411h0M341 413h0M344 410h0M339 426h0M173 113h0M235 143h0M249 113h0M249 105h0M236 137h0M250 114h0M245 125h0M235 137h0M243 124h0M238 147h0M221 206h0M234 547h0M235 563h0M224 555h0M223 556h0M227 554h0M231 567h0M237 537h0M218 546h0M220 542h0M240 560h0M214 565h0M232 568h0M211 553h0M227 573h0M245 557h0M222 571h0M214 565h0M231 571h0M214 567h0M208 568h0M170 311h0M158 358h0M169 320h0M165 310h0M176 328h0M173 327h0M153 307h0M176 331h0M161 331h0M157 314h0M162 332h0M160 314h0M162 320h0M161 316h0M165 350h0M172 326h0M176 324h0M165 340h0M158 331h0M174 338h0M171 344h0M156 338h0M163 317h0M151 364h0M163 357h0M153 361h0M164 358h0M153 347h0M174 319h0M157 358h0M175 331h0M153 364h0M158 304h0M162 359h0M155 335h0M179 337h0M165 349h0M250 370h0M244 372h0M248 393h0M258 388h0M242 393h0M261 372h0M259 392h0M260 389h0M263 384h0M271 309h0M267 298h0M269 324h0M275 315h0M267 297h0M267 326h0M269 327h0M271 328h0M326 340h0M319 350h0M328 332h0M329 336h0M315 356h0M332 328h0M313 356h0M325 336h0M327 329h0M318 354h0M312 357h0M317 348h0M358 293h0M361 283h0M361 282h0M357 320h0M362 294h0M358 298h0M362 295h0M361 316h0M358 296h0M361 279h0M361 307h0M358 294h0M358 307h0M358 324h0M363 300h0M360 328h0M358 302h0M355 279h0M364 308h0M355 276h0M362 307h0M358 326h0M354 277h0M433 324h0M419 322h0M412 328h0M425 330h0M407 314h0M426 331h0M410 310h0M402 310h0M419 318h0M403 306h0M406 320h0M407 317h0M417 309h0M418 320h0M419 319h0M408 299h0M399 306h0M430 321h0M434 319h0M434 326h0M350 465h0M347 464h0M349 460h0M342 448h0M348 463h0M345 453h0M344 457h0M343 457h0M343 461h0M337 437h0M333 434h0M349 470h0M334 435h0M350 456h0M346 453h0M355 471h0M317 64h0M303 69h0M322 64h0M308 69h0M328 64h0M323 69h0M305 75h0M303 67h0M317 70h0M311 67h0M305 70h0M300 64h0M328 65h0M317 61h0M319 70h0M327 61h0M305 60h0M323 69h0M324 69h0M325 61h0M298 58h0M299 69h0M302 477h0M300 470h0M306 480h0M303 474h0M303 466h0M304 475h0M302 468h0M306 483h0M308 479h0M292 469h0M297 476h0M305 465h0M288 468h0M290 465h0M247 548h0M246 550h0M250 548h0M245 551h0M245 550h0M249 557h0M250 556h0M246 547h0M252 557h0" stroke="#cdd6d8" stroke-width="4.7" stroke-linecap="round" fill="none" transform="translate(2280 1520)"/>
<path d="M236 355h0M186 358h0M171 361h0M185 364h0M179 368h0M168 368h0M194 356h0M175 366h0M183 366h0M178 368h0M184 369h0M177 371h0M230 357h0M186 362h0M175 364h0M175 356h0M221 359h0M232 360h0M417 229h0M409 202h0M396 241h0M403 204h0M402 216h0M403 209h0M415 218h0M398 215h0M395 210h0M409 225h0M414 212h0M401 245h0M394 196h0M400 214h0M405 241h0M411 204h0M417 212h0M405 217h0M412 205h0M408 241h0M412 244h0" stroke="#b0a4f3" stroke-width="10.5" stroke-linecap="round" fill="none" transform="translate(2280 1520)"/>
<path d="M211 345h0M202 345h0M220 346h0M213 350h0M197 347h0M206 343h0M230 350h0M224 352h0M201 350h0M248 351h0M248 343h0M237 346h0M244 352h0M207 347h0M187 352h0M230 350h0M374 252h0M362 211h0M385 233h0M404 250h0M380 208h0M382 220h0M366 245h0M411 254h0M378 224h0M359 226h0M376 199h0M405 271h0M380 205h0M395 286h0M361 228h0M365 218h0M360 212h0M355 214h0M385 228h0M377 237h0M407 253h0M392 237h0M378 246h0M397 265h0M401 257h0M386 246h0M383 230h0M398 271h0M391 211h0M380 233h0M402 273h0M404 279h0M375 239h0M407 266h0M364 245h0M389 216h0M380 246h0M379 214h0M399 273h0M378 201h0M372 220h0M378 243h0M396 286h0M393 204h0M367 250h0M402 267h0M361 216h0M381 239h0M377 238h0M363 235h0M377 239h0M379 240h0M376 232h0" stroke="#9c8ef3" stroke-width="10.5" stroke-linecap="round" fill="none" transform="translate(2280 1520)"/>
<path d="M202 335h0M196 336h0M224 342h0M256 351h0M253 337h0M203 336h0M247 335h0M213 334h0M255 337h0M242 340h0M229 339h0M226 337h0M212 338h0M249 337h0M253 338h0M255 343h0M375 273h0M379 257h0M373 254h0M377 277h0M383 305h0M376 311h0M383 269h0M389 288h0M387 267h0M376 271h0M392 285h0M376 291h0M377 271h0M366 262h0M385 294h0M393 276h0M392 270h0M385 277h0M380 309h0M391 293h0M378 301h0M381 268h0M379 307h0M391 257h0M375 257h0M371 265h0M374 299h0M392 295h0M378 308h0M387 268h0M383 269h0" stroke="#8279f2" stroke-width="10.5" stroke-linecap="round" fill="none" transform="translate(2280 1520)"/>
<path d="M232 301h0M218 307h0M227 272h0M213 320h0M256 294h0M220 316h0M220 282h0M194 296h0M187 260h0M244 320h0M261 308h0M231 283h0M227 282h0M233 279h0M215 320h0M165 267h0M246 293h0M247 329h0M238 300h0M227 274h0M230 318h0M159 269h0M169 278h0M211 281h0M208 262h0M200 265h0M236 331h0M208 319h0M190 285h0M205 281h0M180 301h0M181 278h0M167 285h0M264 329h0M252 307h0M202 285h0M237 285h0M174 297h0M232 280h0M252 292h0M188 285h0M198 264h0M249 310h0M217 318h0M244 320h0M231 281h0M252 319h0M198 326h0M190 286h0M221 284h0M253 315h0M209 288h0M214 293h0M170 297h0M180 302h0M257 331h0M174 267h0M237 310h0M230 307h0M217 270h0M202 317h0M239 289h0M222 317h0M166 296h0M248 330h0M196 266h0M258 300h0M243 323h0M222 298h0M172 265h0M183 267h0M176 265h0M173 279h0M191 296h0M199 296h0M247 323h0M204 268h0M211 290h0M257 326h0M164 292h0M202 324h0M189 271h0M175 269h0M238 322h0M193 278h0M207 318h0M189 280h0M206 306h0M183 284h0M193 276h0M213 271h0M237 305h0M207 267h0M186 272h0M184 267h0M259 327h0M215 285h0M189 293h0M227 287h0M194 270h0M166 271h0M225 269h0M233 290h0M204 274h0M200 260h0M207 299h0M260 306h0M184 275h0M249 326h0M234 330h0M173 288h0M183 270h0M201 322h0M254 318h0M203 312h0M178 300h0M167 271h0M233 277h0M201 269h0M234 316h0M198 275h0M179 286h0M212 296h0M216 295h0M203 264h0M198 260h0M201 267h0M197 324h0M198 300h0M213 285h0" stroke="#6864f0" stroke-width="10.5" stroke-linecap="round" fill="none" transform="translate(2280 1520)"/>
<path d="M47 382h0M165 369h0M182 362h0M256 359h0M249 363h0M169 375h0M202 360h0M172 379h0M207 358h0M193 358h0M310 379h0M92 462h0M140 512h0M146 517h0M292 79h0M295 82h0M296 72h0M318 63h0M294 62h0M307 60h0M295 75h0M291 82h0M404 229h0M417 215h0M407 214h0M416 220h0M419 240h0M411 245h0M416 257h0M414 235h0M401 230h0M399 224h0M420 240h0M392 223h0M405 214h0M387 225h0M405 225h0M401 227h0M409 236h0M397 231h0M402 217h0M426 211h0M421 337h0M338 486h0M326 501h0M363 523h0M342 468h0M351 524h0M354 505h0M345 479h0M366 545h0M343 525h0M325 495h0M368 544h0M370 526h0M340 493h0M294 493h0M295 488h0M346 491h0M325 543h0M357 517h0M368 534h0M373 497h0M292 490h0M236 133h0M243 118h0M240 135h0M232 112h0M402 307h0M343 462h0M323 70h0" stroke="#c8c8e6" stroke-width="4.7" stroke-linecap="round" fill="none" transform="translate(2280 1520)"/>
<path d="M36 311h0M40 276h0M50 305h0M47 309h0M202 351h0M235 365h0M221 363h0M237 365h0M230 363h0M222 349h0M182 375h0M230 361h0M154 370h0M234 360h0M173 378h0M188 360h0M237 356h0M169 365h0M230 354h0M168 378h0M246 362h0M249 360h0M202 365h0M230 342h0M249 347h0M204 362h0M182 374h0M230 364h0M164 370h0M197 365h0M169 378h0M201 350h0M237 360h0M187 365h0M187 361h0M236 368h0M302 366h0M305 372h0M321 349h0M307 379h0M278 362h0M276 352h0M313 376h0M281 314h0M291 303h0M95 465h0M111 460h0M86 460h0M91 461h0M104 458h0M142 510h0M146 514h0M147 510h0M298 77h0M308 47h0M287 57h0M303 46h0M315 53h0M294 85h0M310 60h0M292 68h0M297 77h0M308 53h0M292 70h0M317 50h0M299 87h0M315 51h0M310 48h0M313 49h0M378 245h0M356 224h0M390 209h0M407 252h0M403 195h0M368 240h0M403 237h0M424 223h0M407 195h0M400 218h0M379 248h0M395 239h0M372 249h0M392 209h0M401 200h0M398 203h0M358 205h0M366 231h0M395 235h0M410 210h0M403 219h0M410 198h0M406 275h0M417 209h0M398 216h0M415 197h0M389 234h0M400 218h0M394 211h0M414 249h0M355 216h0M399 202h0M413 222h0M405 237h0M403 220h0M400 231h0M400 225h0M365 246h0M374 218h0M397 200h0M392 214h0M383 198h0M383 245h0M404 205h0M403 233h0M405 209h0M387 198h0M415 249h0M397 200h0M412 228h0M398 225h0M353 210h0M444 323h0M439 323h0M430 322h0M426 346h0M450 324h0M307 532h0M351 540h0M357 498h0M342 500h0M304 535h0M341 469h0M352 513h0M370 505h0M363 509h0M363 504h0M339 543h0M330 519h0M329 514h0M355 524h0M332 536h0M363 547h0M315 509h0M295 493h0M370 516h0M370 529h0M335 510h0M343 542h0M313 483h0M357 486h0M363 517h0M337 493h0M322 489h0M345 539h0M356 505h0M329 503h0M314 524h0M318 527h0M294 488h0M301 500h0M365 505h0M314 497h0M348 521h0M359 499h0M328 521h0M365 503h0M345 542h0M337 505h0M337 547h0M344 468h0M311 488h0M329 542h0M353 539h0M347 540h0M374 539h0M332 507h0M325 479h0M368 541h0M341 544h0M324 476h0M363 521h0M358 536h0M316 481h0M340 500h0M353 516h0M345 477h0M324 528h0M331 489h0M343 524h0M331 493h0M319 479h0M352 535h0M311 481h0M282 474h0M350 467h0M362 551h0M306 507h0M311 457h0M302 457h0M310 470h0M301 460h0M316 479h0M349 434h0M355 439h0M240 134h0M237 140h0M239 130h0M232 115h0M228 111h0M245 132h0M358 328h0M308 73h0" stroke="#c4baf3" stroke-width="4.7" stroke-linecap="round" fill="none" transform="translate(2280 1520)"/>
<path d="M38 284h0M44 344h0M73 320h0M33 351h0M43 313h0M45 315h0M60 289h0M45 271h0M40 323h0M42 291h0M32 337h0M34 319h0M28 365h0M41 255h0M198 352h0M195 357h0M177 373h0M184 323h0M237 355h0M221 351h0M219 350h0M185 361h0M167 366h0M235 344h0M183 364h0M243 361h0M244 365h0M202 359h0M263 309h0M229 363h0M197 360h0M174 377h0M216 352h0M237 367h0M220 357h0M200 342h0M212 297h0M200 350h0M168 357h0M182 369h0M219 346h0M161 371h0M180 368h0M177 374h0M261 347h0M247 344h0M187 361h0M238 344h0M206 357h0M253 363h0M217 357h0M240 365h0M157 358h0M205 359h0M235 347h0M178 365h0M181 353h0M166 367h0M237 343h0M206 354h0M258 357h0M224 352h0M209 340h0M166 367h0M184 369h0M206 364h0M249 335h0M221 350h0M211 360h0M204 354h0M210 360h0M172 362h0M172 361h0M229 349h0M240 363h0M173 358h0M172 375h0M243 356h0M258 358h0M221 346h0M234 357h0M195 350h0M245 358h0M204 354h0M204 356h0M182 366h0M255 359h0M240 348h0M241 362h0M194 352h0M224 350h0M236 360h0M171 376h0M168 372h0M226 351h0M199 366h0M195 369h0M168 379h0M200 365h0M237 367h0M166 381h0M259 356h0M212 363h0M319 348h0M303 376h0M312 358h0M323 346h0M298 367h0M286 297h0M280 302h0M281 299h0M280 310h0M279 313h0M97 455h0M85 464h0M102 453h0M104 466h0M91 468h0M85 462h0M144 509h0M139 509h0M325 63h0M291 83h0M301 73h0M313 54h0M296 78h0M307 54h0M323 62h0M310 59h0M282 54h0M322 61h0M284 51h0M296 56h0M293 71h0M292 74h0M312 43h0M310 48h0M327 67h0M280 63h0M310 64h0M514 258h0M508 268h0M415 228h0M387 233h0M420 218h0M394 200h0M377 228h0M370 197h0M406 197h0M404 241h0M392 236h0M384 294h0M411 272h0M368 215h0M418 237h0M356 214h0M414 223h0M371 241h0M385 239h0M419 205h0M383 249h0M388 247h0M387 211h0M394 238h0M401 271h0M402 243h0M415 236h0M413 257h0M392 210h0M417 231h0M389 249h0M408 227h0M365 248h0M369 223h0M366 252h0M387 239h0M369 210h0M380 208h0M403 240h0M372 215h0M388 196h0M380 219h0M408 281h0M420 228h0M410 273h0M405 210h0M383 236h0M399 270h0M413 202h0M394 207h0M423 217h0M420 230h0M389 248h0M402 294h0M368 198h0M367 230h0M405 194h0M355 209h0M375 216h0M366 214h0M394 203h0M409 257h0M408 263h0M352 224h0M410 254h0M421 223h0M402 226h0M366 239h0M384 201h0M414 233h0M403 275h0M406 242h0M419 218h0M369 208h0M370 213h0M368 318h0M402 211h0M417 214h0M406 287h0M417 247h0M407 241h0M413 197h0M403 233h0M402 268h0M409 252h0M414 256h0M387 213h0M395 198h0M400 257h0M409 235h0M380 294h0M389 247h0M367 214h0M407 209h0M409 209h0M397 244h0M397 232h0M409 213h0M364 237h0M382 245h0M412 214h0M395 213h0M413 220h0M405 266h0M412 202h0M375 237h0M398 244h0M376 273h0M361 219h0M403 258h0M407 215h0M419 229h0M397 197h0M414 198h0M397 294h0M408 241h0M416 245h0M378 239h0M410 269h0M423 227h0M404 219h0M417 200h0M412 233h0M411 257h0M410 242h0M385 248h0M396 217h0M419 237h0M389 199h0M402 219h0M403 291h0M363 204h0M417 201h0M381 227h0M377 241h0M395 291h0M391 297h0M382 301h0M379 239h0M396 269h0M381 213h0M403 207h0M390 198h0M396 229h0M409 234h0M406 258h0M379 316h0M423 216h0M406 233h0M382 206h0M372 261h0M410 215h0M390 236h0M363 244h0M402 220h0M366 207h0M388 218h0M404 237h0M412 243h0M424 221h0M417 197h0M345 217h0M423 209h0M398 293h0M421 338h0M438 318h0M408 315h0M418 347h0M438 322h0M449 320h0M409 318h0M434 335h0M429 323h0M431 332h0M436 324h0M438 330h0M423 329h0M409 331h0M450 321h0M336 507h0M360 512h0M339 483h0M346 474h0M356 483h0M356 528h0M366 530h0M320 511h0M300 499h0M339 472h0M324 523h0M361 495h0M355 473h0M319 515h0M374 506h0M307 485h0M321 510h0M347 473h0M344 525h0M369 547h0M373 509h0M343 497h0M339 469h0M317 530h0M318 540h0M352 494h0M348 481h0M367 503h0M351 482h0M309 534h0M319 483h0M346 512h0M308 534h0M322 539h0M312 500h0M349 471h0M335 511h0M368 531h0M348 490h0M329 503h0M339 479h0M316 482h0M337 513h0M364 508h0M325 507h0M353 523h0M313 539h0M306 496h0M347 468h0M310 538h0M339 540h0M336 504h0M350 499h0M310 490h0M312 500h0M358 485h0M293 486h0M319 481h0M355 494h0M329 514h0M311 536h0M337 506h0M337 523h0M323 483h0M323 535h0M327 503h0M330 519h0M336 499h0M310 494h0M327 505h0M345 527h0M347 523h0M363 500h0M363 509h0M322 544h0M330 524h0M320 532h0M295 488h0M367 498h0M294 483h0M322 492h0M339 522h0M364 536h0M332 490h0M368 497h0M292 479h0M346 487h0M338 478h0M299 478h0M330 504h0M360 503h0M310 482h0M354 556h0M307 523h0M306 515h0M315 470h0M301 454h0M308 453h0M311 477h0M317 451h0M349 442h0M350 428h0M167 111h0M236 120h0M233 118h0M246 120h0M235 116h0M244 136h0M237 111h0M242 132h0M234 121h0M228 115h0M237 104h0M248 117h0M163 340h0M168 320h0M155 308h0M236 387h0M250 376h0M234 366h0M242 373h0M233 366h0M269 314h0M274 309h0M317 352h0M404 302h0M410 319h0M409 301h0M420 325h0M420 329h0M407 327h0M429 320h0M347 464h0M349 470h0M347 451h0M319 65h0M319 70h0M308 74h0M304 473h0M305 467h0" stroke="#b0a4f3" stroke-width="4.7" stroke-linecap="round" fill="none" transform="translate(2280 1520)"/>
<path d="M43 341h0M41 271h0M40 296h0M43 359h0M34 309h0M53 302h0M45 261h0M54 316h0M37 307h0M41 384h0M45 324h0M34 302h0M31 373h0M162 373h0M199 354h0M213 361h0M201 328h0M183 284h0M178 263h0M193 357h0M169 341h0M250 350h0M174 297h0M235 319h0M208 347h0M263 307h0M163 363h0M206 258h0M166 376h0M187 361h0M207 360h0M216 260h0M185 334h0M178 343h0M203 260h0M210 290h0M172 370h0M223 356h0M168 376h0M249 344h0M218 345h0M182 374h0M185 356h0M243 365h0M204 261h0M185 328h0M167 274h0M245 360h0M181 298h0M175 316h0M160 285h0M174 276h0M223 363h0M197 340h0M220 346h0M167 312h0M232 362h0M200 361h0M215 273h0M248 354h0M258 352h0M187 333h0M222 291h0M180 360h0M241 354h0M156 266h0M191 311h0M189 368h0M237 270h0M226 295h0M164 378h0M241 329h0M171 367h0M222 340h0M221 341h0M241 355h0M200 357h0M236 362h0M170 370h0M187 302h0M207 316h0M175 361h0M182 269h0M178 322h0M206 346h0M183 323h0M188 360h0M182 366h0M164 356h0M181 353h0M164 278h0M175 267h0M196 262h0M230 354h0M239 282h0M201 350h0M178 275h0M247 344h0M229 349h0M259 314h0M185 283h0M174 359h0M208 348h0M201 340h0M250 343h0M182 294h0M223 346h0M223 351h0M212 270h0M204 362h0M167 354h0M207 344h0M188 371h0M254 336h0M223 261h0M209 350h0M238 321h0M251 360h0M200 361h0M182 293h0M236 353h0M198 354h0M161 376h0M200 363h0M217 340h0M187 355h0M208 363h0M219 336h0M262 348h0M216 305h0M170 363h0M251 360h0M256 353h0M223 334h0M266 321h0M210 342h0M165 312h0M247 338h0M174 359h0M235 339h0M206 345h0M174 352h0M186 281h0M212 355h0M221 354h0M198 350h0M164 356h0M235 348h0M172 355h0M237 325h0M260 362h0M241 369h0M248 367h0M210 365h0M168 380h0M255 363h0M253 364h0M284 363h0M278 360h0M304 376h0M296 365h0M288 368h0M283 362h0M320 360h0M288 365h0M317 356h0M310 363h0M310 375h0M301 375h0M315 373h0M318 373h0M325 345h0M256 385h0M257 377h0M284 303h0M290 298h0M278 312h0M279 297h0M286 296h0M273 296h0M89 456h0M98 464h0M93 458h0M100 455h0M90 459h0M100 461h0M100 455h0M96 457h0M105 458h0M105 454h0M298 74h0M299 63h0M295 77h0M309 57h0M291 75h0M284 59h0M319 58h0M293 89h0M507 252h0M509 252h0M510 249h0M508 268h0M511 259h0M505 246h0M380 193h0M398 266h0M380 320h0M349 213h0M361 221h0M373 217h0M403 233h0M399 191h0M418 232h0M397 278h0M420 235h0M392 215h0M359 215h0M376 313h0M409 264h0M351 221h0M398 291h0M381 239h0M377 220h0M360 288h0M415 197h0M383 198h0M367 235h0M352 212h0M360 206h0M371 205h0M378 317h0M377 285h0M358 239h0M370 236h0M405 231h0M374 328h0M383 301h0M419 240h0M366 269h0M386 246h0M400 291h0M406 255h0M385 248h0M355 208h0M409 217h0M412 256h0M355 231h0M385 239h0M403 264h0M411 263h0M371 202h0M357 219h0M393 278h0M364 245h0M409 193h0M383 278h0M364 211h0M401 256h0M384 202h0M398 245h0M386 301h0M416 230h0M362 214h0M388 222h0M384 262h0M382 306h0M407 244h0M366 234h0M417 249h0M389 200h0M350 248h0M408 283h0M376 260h0M397 289h0M355 216h0M403 275h0M361 217h0M362 201h0M392 211h0M404 293h0M418 214h0M385 233h0M393 212h0M389 246h0M381 218h0M377 233h0M358 211h0M413 212h0M385 223h0M407 243h0M390 243h0M409 259h0M423 230h0M386 301h0M366 222h0M393 266h0M369 216h0M383 278h0M416 208h0M378 327h0M347 223h0M366 233h0M361 210h0M397 251h0M409 229h0M370 222h0M416 235h0M384 199h0M390 202h0M408 206h0M405 276h0M406 195h0M377 236h0M411 209h0M385 215h0M391 195h0M391 290h0M369 209h0M398 280h0M379 226h0M407 243h0M379 315h0M363 230h0M392 215h0M423 235h0M400 257h0M372 286h0M391 273h0M374 329h0M394 280h0M385 227h0M408 193h0M411 248h0M376 217h0M349 212h0M415 252h0M392 202h0M385 313h0M412 241h0M406 279h0M399 272h0M378 271h0M405 224h0M408 247h0M382 314h0M414 218h0M410 232h0M399 255h0M373 275h0M405 211h0M371 252h0M375 229h0M367 220h0M354 207h0M375 273h0M396 244h0M384 239h0M419 206h0M360 225h0M378 296h0M362 207h0M376 289h0M370 297h0M378 308h0M372 199h0M355 223h0M384 249h0M379 204h0M413 219h0M368 237h0M376 282h0M402 283h0M397 233h0M397 258h0M385 241h0M374 204h0M411 244h0M404 238h0M375 214h0M376 264h0M414 212h0M398 225h0M357 208h0M421 216h0M383 312h0M382 216h0M422 226h0M358 218h0M355 218h0M379 319h0M348 251h0M410 272h0M408 276h0M369 270h0M373 230h0M374 211h0M401 286h0M368 267h0M380 224h0M363 244h0M356 239h0M401 264h0M376 277h0M386 246h0M401 222h0M387 302h0M417 250h0M388 237h0M360 230h0M408 264h0M403 230h0M403 193h0M395 197h0M391 196h0M404 270h0M421 227h0M373 238h0M375 232h0M349 223h0M395 278h0M392 211h0M390 239h0M355 210h0M385 236h0M367 239h0M412 216h0M354 222h0M360 210h0M419 229h0M403 208h0M404 224h0M376 240h0M377 243h0M422 217h0M404 218h0M384 196h0M377 195h0M360 200h0M405 297h0M351 210h0M415 200h0M408 282h0M370 197h0M422 218h0M402 296h0M413 326h0M416 343h0M406 337h0M432 320h0M439 326h0M415 336h0M436 330h0M433 333h0M425 333h0M408 342h0M429 334h0M409 342h0M419 348h0M406 322h0M407 312h0M413 326h0M405 324h0M358 485h0M301 491h0M368 535h0M338 519h0M330 545h0M347 467h0M371 507h0M313 515h0M351 508h0M342 544h0M327 523h0M325 543h0M351 536h0M345 475h0M358 546h0M349 541h0M298 494h0M318 509h0M311 486h0M368 505h0M354 508h0M327 481h0M323 485h0M324 479h0M313 538h0M370 532h0M335 478h0M306 481h0M355 541h0M346 532h0M365 527h0M372 508h0M344 484h0M336 524h0M354 479h0M373 513h0M323 515h0M342 529h0M367 507h0M334 514h0M363 533h0M333 500h0M362 551h0M288 471h0M295 500h0M366 493h0M307 482h0M377 539h0M313 471h0M315 473h0M346 436h0M342 430h0M341 426h0M338 416h0M343 419h0M239 138h0M243 116h0M245 114h0M251 108h0M236 142h0M226 204h0M230 212h0M223 202h0M226 204h0M168 312h0M156 306h0M171 351h0M155 319h0M244 368h0M255 372h0M257 385h0M258 382h0M261 378h0M235 382h0M270 310h0M267 308h0M268 313h0M267 294h0M277 304h0M360 317h0M417 313h0M407 306h0M402 312h0M409 324h0M424 327h0M405 313h0M423 322h0M298 474h0M306 477h0M304 476h0" stroke="#9c8ef3" stroke-width="4.7" stroke-linecap="round" fill="none" transform="translate(2280 1520)"/>
<path d="M37 281h0M42 372h0M57 321h0M42 301h0M44 335h0M65 335h0M38 355h0M46 295h0M39 349h0M44 318h0M43 255h0M43 250h0M164 288h0M196 367h0M241 294h0M245 340h0M206 333h0M189 305h0M245 285h0M207 272h0M252 347h0M243 355h0M189 275h0M181 324h0M213 270h0M226 322h0M224 287h0M229 264h0M198 354h0M221 354h0M256 293h0M196 272h0M219 326h0M170 257h0M154 359h0M185 327h0M246 309h0M245 286h0M265 334h0M229 309h0M166 271h0M217 331h0M227 312h0M187 334h0M205 267h0M184 337h0M179 291h0M229 304h0M178 316h0M197 255h0M257 323h0M237 346h0M229 317h0M220 329h0M220 264h0M192 363h0M218 356h0M208 256h0M166 299h0M223 299h0M190 323h0M204 330h0M250 348h0M194 335h0M207 282h0M187 307h0M244 344h0M175 292h0M243 333h0M226 302h0M225 306h0M228 268h0M221 324h0M173 308h0M190 364h0M261 307h0M236 335h0M214 268h0M218 339h0M174 314h0M179 326h0M177 316h0M263 302h0M168 317h0M223 334h0M225 313h0M188 265h0M259 300h0M226 300h0M198 334h0M175 260h0M260 340h0M174 272h0M193 369h0M166 271h0M254 346h0M202 276h0M213 289h0M242 308h0M193 325h0M205 280h0M175 312h0M253 355h0M187 306h0M168 295h0M226 307h0M219 325h0M253 316h0M256 338h0M173 298h0M222 296h0M192 313h0M195 329h0M175 355h0M212 274h0M197 304h0M248 321h0M186 366h0M209 320h0M157 268h0M213 309h0M217 269h0M220 342h0M229 365h0M209 348h0M199 261h0M167 264h0M224 343h0M237 347h0M189 305h0M184 301h0M201 307h0M215 280h0M220 356h0M178 335h0M206 313h0M217 306h0M209 284h0M161 294h0M251 355h0M180 256h0M218 310h0M195 319h0M181 277h0M216 332h0M171 323h0M175 268h0M162 355h0M231 340h0M242 313h0M171 292h0M189 272h0M250 287h0M252 323h0M226 310h0M215 307h0M209 328h0M255 312h0M224 334h0M230 303h0M204 357h0M222 345h0M198 281h0M223 285h0M214 282h0M238 308h0M211 255h0M222 285h0M259 346h0M243 291h0M212 319h0M191 344h0M250 348h0M183 345h0M204 312h0M203 317h0M217 305h0M226 321h0M225 319h0M262 319h0M188 282h0M175 259h0M195 264h0M181 353h0M201 274h0M202 257h0M230 273h0M217 348h0M175 320h0M185 261h0M237 336h0M259 338h0M211 339h0M183 289h0M226 320h0M178 308h0M261 311h0M193 352h0M244 333h0M201 339h0M232 347h0M242 290h0M184 368h0M215 333h0M245 303h0M205 359h0M199 271h0M262 320h0M259 290h0M225 331h0M217 308h0M171 360h0M218 303h0M204 306h0M172 272h0M205 347h0M208 287h0M225 272h0M249 314h0M259 296h0M223 286h0M177 361h0M218 352h0M152 270h0M183 288h0M251 322h0M260 326h0M216 268h0M257 320h0M205 334h0M192 276h0M195 267h0M180 276h0M230 291h0M230 293h0M224 345h0M258 316h0M178 351h0M167 284h0M178 327h0M233 311h0M180 260h0M166 301h0M231 331h0M219 297h0M175 347h0M201 303h0M223 269h0M231 354h0M247 342h0M165 297h0M198 335h0M195 296h0M206 323h0M202 349h0M235 306h0M211 275h0M243 287h0M193 281h0M188 268h0M179 272h0M212 287h0M211 348h0M215 313h0M203 271h0M221 297h0M236 291h0M226 323h0M250 334h0M209 266h0M241 336h0M251 335h0M234 349h0M170 268h0M246 354h0M251 296h0M178 365h0M187 272h0M166 258h0M197 255h0M209 255h0M239 365h0M217 363h0M306 371h0M285 368h0M278 356h0M313 372h0M289 369h0M318 364h0M315 369h0M305 378h0M303 374h0M294 369h0M313 379h0M320 346h0M324 345h0M298 367h0M321 360h0M281 364h0M233 370h0M253 387h0M254 388h0M252 378h0M288 302h0M281 315h0M115 461h0M293 59h0M300 70h0M293 64h0M278 61h0M310 60h0M289 54h0M296 44h0M330 63h0M290 55h0M296 59h0M319 53h0M512 242h0M514 249h0M508 265h0M510 251h0M511 265h0M513 263h0M506 264h0M512 249h0M517 260h0M508 254h0M513 267h0M380 198h0M368 243h0M402 249h0M405 273h0M346 232h0M384 255h0M368 197h0M372 232h0M384 311h0M362 215h0M402 265h0M379 308h0M411 254h0M382 277h0M386 246h0M403 232h0M365 320h0M390 239h0M379 243h0M381 246h0M380 246h0M373 219h0M358 208h0M412 256h0M392 284h0M374 238h0M361 285h0M351 258h0M383 302h0M388 247h0M370 206h0M386 256h0M370 314h0M386 309h0M372 276h0M358 253h0M367 231h0M372 200h0M404 285h0M355 257h0M365 275h0M369 240h0M398 244h0M380 304h0M373 256h0M369 209h0M368 318h0M381 216h0M388 199h0M380 239h0M389 301h0M351 253h0M382 200h0M362 315h0M356 288h0M346 245h0M391 283h0M398 290h0M398 234h0M398 208h0M379 287h0M400 277h0M347 227h0M348 215h0M372 218h0M400 244h0M386 274h0M389 272h0M393 215h0M371 316h0M375 239h0M360 214h0M382 213h0M369 218h0M381 309h0M416 232h0M364 205h0M372 251h0M379 279h0M417 214h0M412 236h0M411 204h0M390 274h0M369 209h0M407 230h0M399 263h0M358 208h0M421 217h0M369 207h0M401 273h0M386 269h0M355 238h0M363 281h0M357 259h0M380 311h0M401 259h0M383 207h0M383 239h0M374 294h0M364 258h0M349 255h0M364 212h0M374 300h0M409 268h0M361 202h0M378 226h0M375 284h0M378 237h0M400 280h0M417 250h0M355 258h0M362 261h0M389 301h0M365 281h0M354 227h0M390 205h0M387 286h0M367 225h0M419 209h0M358 295h0M372 261h0M380 319h0M416 234h0M368 240h0M372 266h0M384 292h0M397 286h0M373 275h0M410 204h0M356 265h0M385 310h0M419 211h0M395 289h0M364 206h0M379 277h0M381 204h0M393 279h0M374 287h0M390 242h0M390 254h0M367 317h0M369 250h0M406 278h0M366 317h0M384 286h0M397 290h0M413 262h0M362 298h0M409 277h0M372 283h0M386 275h0M369 234h0M394 202h0M414 257h0M356 288h0M379 305h0M370 234h0M358 225h0M382 199h0M367 264h0M390 206h0M346 236h0M375 234h0M393 262h0M377 265h0M388 269h0M352 213h0M383 301h0M378 304h0M399 232h0M356 250h0M365 273h0M385 278h0M394 268h0M393 286h0M353 245h0M372 276h0M352 218h0M370 234h0M391 289h0M382 275h0M396 290h0M367 198h0M380 213h0M366 295h0M356 221h0M358 283h0M373 278h0M380 303h0M399 264h0M407 227h0M384 298h0M362 230h0M355 219h0M389 310h0M348 220h0M382 322h0M360 315h0M362 332h0M380 324h0M399 190h0M416 338h0M411 338h0M392 301h0M400 305h0M427 334h0M407 329h0M427 336h0M433 322h0M411 327h0M431 323h0M446 313h0M446 329h0M405 327h0M407 324h0M419 329h0M316 528h0M349 495h0M368 511h0M318 506h0M331 521h0M317 542h0M354 509h0M364 549h0M366 524h0M354 534h0M333 472h0M304 492h0M334 490h0M301 536h0M311 473h0M344 439h0M342 428h0M339 430h0M172 115h0M171 114h0M244 132h0M246 132h0M245 118h0M230 117h0M225 202h0M225 208h0M232 213h0M219 572h0M156 335h0M155 353h0M152 308h0M153 303h0M246 375h0M248 393h0M258 386h0M245 388h0M247 391h0M247 388h0M254 382h0M257 391h0M250 360h0M258 378h0M271 314h0M269 324h0M272 297h0M273 318h0M271 296h0M354 280h0M360 280h0M354 282h0M358 330h0M361 281h0M417 325h0M405 316h0M408 326h0M412 305h0M427 326h0M429 332h0M353 468h0" stroke="#8279f2" stroke-width="4.7" stroke-linecap="round" fill="none" transform="translate(2280 1520)"/>
<path d="M45 311h0M49 286h0M42 366h0M33 373h0M46 302h0M67 327h0M34 353h0M35 356h0M34 324h0M226 301h0M211 302h0M222 339h0M206 310h0M188 274h0M255 338h0M205 340h0M237 291h0M191 298h0M227 271h0M212 308h0M231 331h0M158 271h0M260 306h0M201 281h0M184 261h0M176 265h0M230 317h0M200 259h0M162 270h0M232 283h0M179 319h0M256 329h0M176 347h0M206 339h0M226 340h0M195 258h0M225 340h0M264 336h0M193 285h0M226 348h0M228 308h0M196 303h0M255 316h0M203 341h0M217 291h0M261 299h0M199 304h0M251 320h0M204 306h0M260 316h0M243 327h0M169 285h0M246 283h0M252 305h0M222 279h0M175 347h0M217 347h0M227 279h0M222 264h0M215 303h0M207 260h0M196 273h0M239 297h0M206 315h0M214 309h0M148 290h0M199 260h0M209 321h0M217 337h0M181 295h0M259 353h0M220 294h0M206 338h0M240 315h0M243 306h0M258 331h0M260 291h0M197 275h0M246 299h0M180 291h0M210 300h0M259 324h0M217 336h0M263 320h0M238 310h0M218 322h0M261 336h0M259 331h0M170 264h0M224 336h0M196 328h0M227 335h0M223 310h0M205 258h0M161 302h0M189 262h0M225 271h0M233 271h0M201 308h0M243 305h0M226 286h0M255 288h0M226 308h0M178 338h0M220 322h0M203 317h0M259 355h0M204 338h0M230 307h0M250 322h0M212 294h0M198 280h0M212 299h0M197 288h0M165 267h0M198 263h0M259 350h0M197 273h0M246 283h0M250 318h0M254 328h0M178 284h0M174 284h0M205 278h0M203 324h0M223 321h0M241 315h0M207 255h0M197 264h0M238 323h0M206 293h0M230 269h0M208 276h0M184 291h0M182 263h0M201 258h0M240 309h0M216 333h0M221 266h0M228 349h0M203 322h0M212 315h0M204 337h0M218 335h0M232 273h0M168 296h0M153 291h0M188 320h0M186 371h0M197 305h0M179 290h0M265 341h0M256 349h0M196 312h0M260 328h0M214 317h0M251 320h0M232 336h0M262 337h0M170 293h0M247 328h0M228 343h0M224 297h0M249 299h0M205 278h0M184 261h0M254 326h0M197 340h0M188 284h0M199 312h0M205 318h0M235 327h0M250 351h0M206 310h0M230 290h0M198 312h0M170 290h0M201 271h0M208 297h0M252 320h0M202 344h0M175 313h0M202 309h0M214 321h0M192 317h0M247 339h0M234 270h0M208 336h0M200 339h0M165 281h0M209 313h0M189 297h0M168 278h0M266 320h0M235 324h0M241 327h0M235 275h0M217 284h0M194 274h0M219 290h0M216 293h0M260 313h0M261 291h0M208 319h0M187 273h0M199 268h0M228 299h0M213 278h0M251 300h0M188 316h0M174 297h0M220 332h0M199 283h0M189 269h0M205 282h0M202 362h0M234 278h0M172 298h0M248 311h0M239 307h0M257 303h0M248 299h0M181 334h0M245 307h0M180 356h0M262 297h0M267 329h0M193 334h0M183 284h0M179 302h0M261 294h0M231 300h0M253 343h0M163 266h0M244 303h0M187 312h0M254 326h0M232 272h0M236 338h0M265 342h0M180 264h0M167 348h0M192 269h0M199 273h0M202 263h0M177 269h0M250 310h0M196 276h0M199 316h0M260 337h0M260 338h0M206 309h0M262 317h0M263 350h0M206 301h0M192 294h0M252 329h0M218 316h0M241 303h0M258 314h0M199 341h0M262 304h0M205 285h0M208 328h0M167 351h0M159 271h0M202 300h0M211 283h0M207 294h0M193 295h0M181 339h0M221 300h0M202 280h0M179 263h0M227 264h0M163 368h0M212 329h0M209 342h0M225 306h0M195 263h0M210 260h0M207 283h0M221 281h0M171 267h0M188 302h0M185 331h0M223 319h0M221 285h0M264 332h0M187 354h0M218 278h0M205 338h0M184 273h0M162 260h0M225 342h0M265 345h0M189 263h0M258 339h0M210 282h0M238 335h0M258 341h0M226 263h0M211 274h0M263 324h0M219 278h0M202 258h0M212 257h0M225 349h0M242 319h0M214 295h0M226 346h0M255 309h0M252 323h0M238 306h0M211 307h0M257 324h0M187 312h0M203 267h0M222 268h0M228 286h0M220 314h0M165 302h0M212 327h0M202 315h0M234 334h0M232 305h0M211 317h0M186 293h0M216 297h0M207 324h0M176 305h0M237 335h0M229 309h0M181 263h0M192 326h0M207 291h0M170 298h0M226 291h0M233 325h0M189 276h0M161 266h0M227 327h0M218 314h0M201 291h0M235 299h0M185 302h0M229 273h0M199 268h0M243 315h0M256 350h0M244 302h0M219 291h0M240 290h0M246 276h0M241 318h0M264 325h0M185 315h0M220 321h0M223 317h0M169 293h0M200 258h0M238 323h0M239 354h0M220 305h0M185 255h0M187 256h0M271 335h0M214 258h0M268 349h0M268 334h0M184 252h0M188 253h0M299 377h0M277 355h0M276 355h0M319 364h0M320 359h0M236 384h0M238 381h0M235 379h0M232 369h0M238 388h0M258 387h0M255 394h0M253 391h0M255 393h0M253 393h0M254 397h0M258 394h0M279 296h0M275 294h0M97 457h0M331 66h0M516 251h0M515 255h0M510 266h0M510 268h0M514 255h0M514 257h0M510 244h0M506 266h0M371 284h0M393 251h0M345 248h0M372 322h0M376 304h0M362 313h0M390 270h0M394 294h0M414 255h0M350 241h0M359 231h0M357 291h0M388 283h0M392 288h0M391 238h0M360 252h0M400 283h0M410 219h0M358 227h0M370 266h0M399 290h0M393 255h0M385 255h0M368 254h0M382 195h0M388 223h0M361 233h0M390 257h0M374 276h0M359 242h0M423 230h0M378 313h0M359 227h0M379 281h0M356 235h0M368 248h0M385 300h0M377 321h0M364 295h0M386 293h0M379 310h0M358 289h0M407 208h0M375 254h0M356 244h0M388 221h0M404 260h0M367 254h0M369 272h0M392 286h0M377 278h0M378 296h0M377 290h0M368 312h0M383 266h0M382 267h0M383 271h0M362 293h0M379 278h0M402 275h0M394 257h0M364 236h0M366 267h0M375 278h0M413 252h0M360 203h0M374 196h0M362 237h0M350 234h0M388 285h0M390 302h0M378 279h0M366 242h0M349 225h0M383 304h0M390 275h0M407 282h0M366 332h0M344 241h0M390 301h0M397 303h0M424 331h0M298 458h0M353 433h0M342 411h0M167 112h0M170 114h0M225 204h0M233 210h0M233 560h0M226 567h0M215 573h0M166 352h0M164 316h0M163 313h0M162 322h0M158 326h0M156 326h0M170 343h0M152 352h0M251 377h0M252 367h0M261 363h0M260 378h0M253 395h0M248 369h0M258 390h0M247 386h0M261 371h0M241 385h0M259 364h0M274 321h0M356 285h0M361 328h0" stroke="#6864f0" stroke-width="4.7" stroke-linecap="round" fill="none" transform="translate(2280 1520)"/>
<path d="M55 279h0M46 346h0M208 314h0M194 265h0M175 280h0M169 274h0M232 328h0M224 292h0M188 280h0M196 271h0M257 286h0M172 288h0M228 264h0M229 330h0M214 271h0M228 283h0M257 324h0M165 262h0M173 293h0M229 269h0M229 277h0M218 322h0M180 259h0M221 261h0M215 340h0M198 327h0M227 304h0M176 345h0M204 344h0M203 335h0M177 290h0M222 268h0M164 308h0M263 327h0M267 331h0M195 302h0M260 334h0M187 256h0M199 280h0M213 337h0M173 282h0M171 291h0M198 264h0M238 308h0M233 296h0M259 354h0M243 332h0M258 334h0M240 339h0M211 302h0M214 259h0M244 309h0M234 284h0M178 309h0M202 300h0M214 258h0M260 330h0M244 281h0M237 294h0M218 287h0M176 341h0M225 330h0M192 274h0M245 328h0M181 289h0M227 273h0M182 284h0M217 279h0M178 301h0M169 338h0M177 285h0M200 289h0M165 287h0M190 265h0M264 340h0M226 292h0M186 276h0M164 289h0M258 328h0M245 292h0M209 309h0M188 335h0M226 332h0M210 324h0M260 323h0M218 293h0M199 316h0M241 292h0M239 273h0M248 336h0M219 270h0M256 287h0M247 308h0M258 314h0M232 305h0M220 275h0M189 259h0M193 293h0M257 298h0M230 281h0M257 343h0M183 277h0M251 280h0M173 299h0M200 269h0M255 337h0M239 314h0M159 266h0M162 261h0M195 335h0M178 278h0M176 262h0M256 312h0M174 331h0M253 337h0M227 276h0M256 323h0M182 257h0M173 290h0M230 296h0M233 299h0M204 299h0M205 278h0M256 354h0M218 295h0M178 304h0M241 294h0M219 263h0M240 316h0M203 310h0M245 312h0M224 326h0M170 264h0M178 283h0M227 328h0M205 301h0M253 300h0M213 306h0M238 277h0M201 342h0M159 291h0M191 284h0M215 304h0M251 295h0M250 332h0M223 301h0M247 315h0M168 291h0M252 302h0M246 326h0M238 325h0M253 351h0M223 299h0M199 280h0M156 269h0M214 325h0M259 338h0M257 291h0M189 290h0M160 262h0M160 262h0M243 324h0M200 302h0M219 271h0M198 307h0M181 257h0M203 254h0M173 299h0M212 309h0M208 292h0M164 275h0M175 290h0M173 280h0M248 310h0M168 294h0M220 296h0M264 327h0M238 316h0M231 320h0M244 286h0M191 299h0M199 301h0M190 286h0M165 352h0M226 340h0M253 283h0M191 285h0M251 295h0M156 265h0M158 267h0M224 279h0M176 277h0M206 335h0M173 342h0M199 255h0M237 324h0M252 279h0M174 274h0M260 317h0M236 321h0M225 337h0M189 270h0M216 289h0M221 303h0M261 339h0M259 293h0M179 315h0M222 323h0M179 259h0M259 307h0M186 312h0M178 268h0M204 289h0M211 283h0M260 320h0M222 274h0M218 285h0M241 293h0M202 279h0M193 326h0M246 307h0M246 310h0M233 268h0M180 254h0M158 264h0M271 323h0M269 337h0M294 369h0M302 370h0M296 374h0M280 370h0M277 355h0M310 360h0M237 379h0M236 375h0M235 375h0M233 379h0M505 260h0M516 245h0M378 302h0M383 309h0M379 270h0M372 277h0M375 258h0M389 305h0M390 298h0M389 256h0M362 299h0M361 262h0M376 256h0M382 261h0M373 291h0M361 308h0M365 309h0M392 289h0M394 265h0M361 333h0M404 309h0M418 334h0M408 314h0M170 109h0M175 110h0M223 203h0M242 560h0M159 312h0M160 314h0M174 319h0M159 311h0M155 307h0M243 388h0M255 384h0M244 386h0M245 382h0M240 386h0M243 376h0M259 371h0" stroke="#4857f3" stroke-width="4.7" stroke-linecap="round" fill="none" transform="translate(2280 1520)"/>
<path d="M185 267h0M153 271h0M200 291h0M228 269h0M186 260h0M242 284h0M236 332h0M249 297h0M249 331h0M167 276h0M166 297h0M187 285h0M242 321h0M216 265h0M220 284h0M177 270h0M206 301h0M200 285h0M168 302h0M167 292h0M247 312h0M185 315h0M217 291h0M211 331h0M158 265h0M189 332h0M192 284h0M248 306h0M223 273h0M248 293h0M171 264h0M216 322h0M264 331h0M234 327h0M210 320h0M179 266h0M240 316h0M251 282h0M200 279h0M222 339h0M234 306h0M165 348h0M194 266h0M206 330h0M206 306h0M257 320h0M218 262h0M253 319h0M192 294h0M204 267h0M203 275h0M221 304h0M189 293h0M229 324h0M203 278h0M246 307h0M165 281h0M196 261h0M256 305h0M217 326h0M203 290h0M246 298h0M203 293h0M195 292h0M245 323h0M250 315h0M202 270h0M234 340h0M190 348h0M266 300h0M166 320h0M237 387h0M371 269h0M383 271h0M387 253h0M386 292h0M368 269h0M174 113h0M227 550h0M234 382h0" stroke="#284af6" stroke-width="4.7" stroke-linecap="round" fill="none" transform="translate(2280 1520)"/>
<path d="M2279.6 1523.6V2124.3M2278.2 2122.9H2836.2" stroke="#000" stroke-width="2.8" fill="none"/>
<path d="M2273.1 1551.8H2279.6M2273.1 1649H2279.6M2273.1 1746.3H2279.6M2273.1 1843.5H2279.6M2273.1 1940.3H2279.6M2273.1 2037.2H2279.6M2370.9 2122.9V2129.4M2539.4 2122.9V2129.4M2708.3 2122.9V2129.4" stroke="#000" stroke-width="2.2" fill="none"/>
<text x="2267.2" y="1558.8" font-size="20" text-anchor="end">15</text>
<text x="2267.2" y="1656" font-size="20" text-anchor="end">10</text>
<text x="2267.2" y="1753.3" font-size="20" text-anchor="end">5</text>
<text x="2267.2" y="1850.5" font-size="20" text-anchor="end">0</text>
<text x="2267.2" y="1947.3" font-size="20" text-anchor="end">−5</text>
<text x="2267.2" y="2044.2" font-size="20" text-anchor="end">−10</text>
<text x="2367.9" y="2150.2" font-size="20" text-anchor="middle">−10</text>
<text x="2539.4" y="2150.2" font-size="20" text-anchor="middle">0</text>
<text x="2708.3" y="2150.2" font-size="20" text-anchor="middle">10</text>
<text x="2558" y="2180" font-size="20.5" text-anchor="middle">UMAP_1</text>
<text font-size="20.5" text-anchor="middle" transform="translate(2209 1835.9) rotate(-90)">UMAP_2</text>
<text x="2599.5" y="1697.2" font-size="23.3" font-weight="bold" textLength="125.8" lengthAdjust="spacingAndGlyphs">Fibroblasts</text>
<text x="2420.8" y="1764.6" font-size="23.3" font-weight="bold" textLength="120.3" lengthAdjust="spacingAndGlyphs">Ductal Cell</text>
<defs><linearGradient id="gg" x1="0" y1="0" x2="0" y2="1"><stop offset="0.000" stop-color="#1a44fa"/><stop offset="0.286" stop-color="#484cf8"/><stop offset="0.524" stop-color="#7d6ef8"/><stop offset="0.762" stop-color="#b0a0fa"/><stop offset="0.893" stop-color="#c4bcf4"/><stop offset="0.976" stop-color="#cdd6d8"/><stop offset="1.000" stop-color="#cdd6d8"/></linearGradient></defs><rect x="2847.3" y="1774" width="21.3" height="109.6" fill="url(#gg)"/>
<path d="M2847.3 1784.3h4.5M2864.1 1784.3h4.5M2847.3 1809.3h4.5M2864.1 1809.3h4.5M2847.3 1834.5h4.5M2864.1 1834.5h4.5M2847.3 1859.8h4.5M2864.1 1859.8h4.5" stroke="#fff" stroke-width="1.2" fill="none"/>
<text x="2878.9" y="1789.6" font-size="18.5">4</text>
<text x="2878.9" y="1814.7" font-size="18.5">3</text>
<text x="2878.9" y="1839.9" font-size="18.5">2</text>
<text x="2878.9" y="1864.6" font-size="18.5">1</text>
<text x="2878.9" y="1890.2" font-size="18.5">0</text>
<text x="2207.7" y="2284.2" font-size="75">H</text>
<text x="2533.2" y="2286.4" font-size="28" font-weight="bold" textLength="33" lengthAdjust="spacingAndGlyphs">F3</text>
<path d="M2471.5 2400.1C2476.1 2399.7 2481 2404.1 2485.4 2405.2C2489.9 2406.2 2494.3 2404.5 2498.1 2406.4C2501.9 2408.4 2506.4 2412.8 2508.3 2416.6C2510.2 2420.4 2510.2 2424.2 2509.5 2429.3C2508.9 2434.4 2505.7 2440.7 2504.5 2447.1C2503.2 2453.4 2503.8 2461.4 2501.9 2467.4C2500 2473.3 2496.2 2477.9 2493 2482.6C2489.9 2487.2 2487.1 2491.5 2482.9 2495.3C2478.7 2499.1 2473.2 2503.1 2467.7 2505.4C2462.2 2507.8 2455.4 2508.4 2449.9 2509.2C2444.4 2510.1 2438.3 2511.1 2434.7 2510.5C2431.1 2509.9 2430 2508.4 2428.3 2505.4C2426.6 2502.5 2426 2496.1 2424.5 2492.7C2423 2489.4 2421.3 2488.1 2419.4 2485.1C2417.5 2482.2 2411.8 2476.9 2413.1 2475C2414.4 2473.1 2423 2476.2 2427.1 2473.7C2431.1 2471.2 2434.7 2464.6 2437.2 2459.7C2439.7 2454.9 2441 2449.6 2442.3 2444.5C2443.6 2439.4 2444.2 2433.9 2444.8 2429.3C2445.5 2424.6 2444 2420.2 2446.1 2416.6C2448.2 2413 2453.3 2410.5 2457.5 2407.7C2461.7 2405 2466.8 2400.5 2471.5 2400.1ZM2505.7 2429.3C2508.1 2426.5 2514 2423.4 2517.2 2425.5C2520.3 2427.6 2521.8 2435.4 2524.8 2442C2527.7 2448.5 2531.3 2457.6 2534.9 2464.8C2538.5 2472 2541.9 2479.4 2546.3 2485.1C2550.8 2490.8 2556.9 2495.7 2561.6 2499.1C2566.2 2502.5 2572.6 2503.1 2574.3 2505.4C2576 2507.8 2574.7 2512.2 2571.7 2513C2568.8 2513.9 2561.6 2513.5 2556.5 2510.5C2551.4 2507.5 2546.3 2500.4 2541.3 2495.3C2536.2 2490.2 2530.7 2485.1 2526 2480.1C2521.4 2475 2516.7 2469.5 2513.4 2464.8C2510 2460.2 2507.4 2455.9 2505.7 2452.1C2504 2448.3 2503.2 2445.8 2503.2 2442C2503.2 2438.2 2503.4 2432 2505.7 2429.3ZM2650.4 2415.3C2653.4 2416 2657.6 2418.1 2660.6 2421.7C2663.5 2425.3 2666.5 2431 2668.2 2436.9C2669.9 2442.8 2671.1 2449.6 2670.7 2457.2C2670.3 2464.8 2666.9 2475 2665.6 2482.6C2664.4 2490.2 2662.7 2496.5 2663.1 2502.9C2663.5 2509.2 2666.5 2514.7 2668.2 2520.7C2669.9 2526.6 2670.3 2532.9 2673.2 2538.4C2676.2 2543.9 2682.1 2549.4 2685.9 2553.7C2689.7 2557.9 2694.8 2561.3 2696.1 2563.8C2697.4 2566.3 2696.9 2568.5 2693.6 2568.9C2690.2 2569.3 2681.7 2567.2 2675.8 2566.3C2669.9 2565.5 2663.1 2563.6 2658 2563.8C2652.9 2564 2650 2566.3 2645.3 2567.6C2640.7 2568.9 2634.3 2572.1 2630.1 2571.4C2625.9 2570.8 2622.5 2567.2 2619.9 2563.8C2617.4 2560.4 2617.8 2554.5 2614.9 2551.1C2611.9 2547.7 2606.8 2545.2 2602.2 2543.5C2597.5 2541.8 2591.6 2542.2 2587 2541C2582.3 2539.7 2577.6 2538.4 2574.3 2535.9C2570.9 2533.4 2568.1 2529.5 2566.6 2525.7C2565.2 2521.9 2564.1 2516.4 2565.4 2513C2566.6 2509.7 2570.2 2506.3 2574.3 2505.4C2578.3 2504.6 2584.8 2509.2 2589.5 2508C2594.1 2506.7 2599.2 2502 2602.2 2497.8C2605.1 2493.6 2605.1 2488.5 2607.3 2482.6C2609.4 2476.7 2612.3 2468.6 2614.9 2462.3C2617.4 2455.9 2619.5 2450.4 2622.5 2444.5C2625.4 2438.6 2629.3 2431.2 2632.6 2426.8C2636 2422.3 2639.8 2419.8 2642.8 2417.9C2645.8 2416 2647.4 2414.7 2650.4 2415.3ZM2561.6 2336.6C2562.5 2336 2566.1 2336.4 2567.9 2337.9C2569.7 2339.4 2571.8 2343 2572.2 2345.5C2572.7 2348.1 2571.2 2350.9 2570.5 2353.1C2569.7 2355.3 2568.9 2358.1 2567.9 2358.7C2566.9 2359.4 2565 2358.7 2564.6 2357C2564.2 2355.2 2565.8 2350.6 2565.4 2348.1C2565 2345.5 2562.7 2343.6 2562.1 2341.7C2561.4 2339.8 2560.6 2337.3 2561.6 2336.6ZM2328.1 2468.6C2328.3 2467.6 2330.1 2466.1 2331.9 2467.4C2333.7 2468.6 2337.9 2474.3 2338.7 2476.2C2339.6 2478.1 2338.3 2479.2 2337 2478.8C2335.6 2478.4 2332.1 2475.4 2330.6 2473.7C2329.1 2472 2327.9 2469.7 2328.1 2468.6ZM2358.5 2505.4C2360.4 2503.5 2368 2502.9 2371.2 2504.2C2374.4 2505.4 2375.4 2509.5 2377.6 2513C2379.7 2516.6 2381.2 2522.4 2383.9 2525.7C2386.7 2529.1 2390.7 2532.9 2394.1 2533.4C2397.4 2533.8 2401.7 2530 2404.2 2528.3C2406.8 2526.6 2409.1 2521.5 2409.3 2523.2C2409.5 2524.9 2405.9 2533.8 2405.5 2538.4C2405.1 2543.1 2407.8 2547.5 2406.8 2551.1C2405.7 2554.7 2402.1 2558.5 2399.1 2560C2396.2 2561.5 2392.4 2561.5 2389 2560C2385.6 2558.5 2381.8 2554.7 2378.8 2551.1C2375.9 2547.5 2373.8 2542.7 2371.2 2538.4C2368.7 2534.2 2365.5 2529.5 2363.6 2525.7C2361.7 2521.9 2360.6 2519 2359.8 2515.6C2359 2512.2 2356.6 2507.3 2358.5 2505.4ZM2513.4 2548.6C2514.6 2546 2517.6 2542.4 2521 2541C2524.3 2539.5 2529 2540.8 2533.7 2539.7C2538.3 2538.6 2545.3 2535.3 2548.9 2534.6C2552.5 2534 2555.7 2534.4 2555.2 2535.9C2554.8 2537.4 2549.1 2540.5 2546.3 2543.5C2543.6 2546.5 2541.3 2550.3 2538.7 2553.7C2536.2 2557 2533 2561.5 2531.1 2563.8C2529.2 2566.1 2529.4 2568 2527.3 2567.6C2525.2 2567.2 2520.8 2563.2 2518.4 2561.3C2516.1 2559.4 2514.2 2558.3 2513.4 2556.2C2512.5 2554.1 2512.1 2551.1 2513.4 2548.6ZM2323 2625.7C2324.1 2621.7 2326 2614.5 2328.1 2611.7C2330.2 2609 2333.6 2608.1 2335.7 2609.2C2337.8 2610.2 2338.9 2615.1 2340.8 2618.1C2342.7 2621 2345 2626.1 2347.1 2627C2349.2 2627.8 2351.8 2625.5 2353.5 2623.1C2355.1 2620.8 2356.2 2613.8 2357.3 2613C2358.3 2612.1 2359.9 2615.1 2359.8 2618.1C2359.7 2621 2357.8 2626.5 2356.5 2630.8C2355.2 2635 2351.8 2638.8 2352.2 2643.5C2352.5 2648.1 2358.1 2654.7 2358.5 2658.7C2359 2662.7 2357 2666.3 2354.7 2667.6C2352.4 2668.8 2348.2 2667.8 2344.6 2666.3C2341 2664.8 2336.3 2662.1 2333.1 2658.7C2330 2655.3 2327.4 2649.8 2325.5 2646C2323.6 2642.2 2322.1 2639.2 2321.7 2635.8C2321.3 2632.5 2321.9 2629.7 2323 2625.7ZM2314.1 2637.1C2314.7 2636.5 2317.2 2635.9 2317.9 2636.3C2318.6 2636.8 2319 2639 2318.4 2639.6C2317.9 2640.3 2315.3 2640.6 2314.6 2640.2C2313.9 2639.7 2313.6 2637.7 2314.1 2637.1ZM2442.3 2647.3C2444 2645.4 2450.7 2644.9 2455 2642.2C2459.2 2639.4 2462.6 2633.7 2467.7 2630.8C2472.7 2627.8 2479.9 2625.3 2485.4 2624.4C2490.9 2623.6 2496 2623.4 2500.7 2625.7C2505.3 2628 2510 2634.1 2513.4 2638.4C2516.7 2642.6 2518.4 2646.4 2521 2651.1C2523.5 2655.7 2526.5 2661.2 2528.6 2666.3C2530.7 2671.4 2532.6 2676 2533.7 2681.5C2534.7 2687 2536.2 2694.2 2534.9 2699.3C2533.7 2704.4 2529.6 2708.8 2526 2712C2522.4 2715.2 2518 2716.6 2513.4 2718.3C2508.7 2720 2502.8 2722.1 2498.1 2722.1C2493.5 2722.1 2488.6 2717.1 2485.4 2718.3C2482.3 2719.6 2481.4 2727.2 2479.1 2729.7C2476.8 2732.3 2473.2 2733.6 2471.5 2733.6C2469.8 2733.6 2468.3 2732.5 2468.9 2729.7C2469.6 2727 2475.5 2720.4 2475.3 2717.1C2475.1 2713.7 2470.2 2712 2467.7 2709.4C2465.1 2706.9 2462 2705.6 2460.1 2701.8C2458.1 2698 2456.5 2691.3 2456.2 2686.6C2456 2681.9 2459.4 2678.1 2458.8 2673.9C2458.1 2669.7 2454.8 2664.6 2452.4 2661.2C2450.1 2657.8 2446.5 2655.9 2444.8 2653.6C2443.1 2651.3 2440.6 2649.2 2442.3 2647.3ZM2527.3 2644.7C2527.5 2642.6 2530.9 2639 2533.7 2634.6C2536.4 2630.1 2541.5 2620.6 2543.8 2618.1C2546.1 2615.5 2548.2 2616.6 2547.6 2619.3C2547 2622.1 2542.5 2629.9 2540 2634.6C2537.5 2639.2 2534.5 2645.6 2532.4 2647.3C2530.3 2649 2527.1 2646.8 2527.3 2644.7ZM2532.4 2658.7C2533 2657 2538.2 2652.8 2540 2652.3C2541.8 2651.8 2543.9 2653.9 2543.3 2655.6C2542.7 2657.3 2538 2662 2536.2 2662.5C2534.4 2663 2531.8 2660.4 2532.4 2658.7ZM2604.7 2701.8C2605.8 2697.2 2607.7 2691.3 2609.8 2686.6C2611.9 2681.9 2615.3 2679 2617.4 2673.9C2619.5 2668.8 2620.8 2660.8 2622.5 2656.1C2624.2 2651.5 2625.9 2647.3 2627.6 2646C2629.3 2644.7 2632 2645.6 2632.6 2648.5C2633.3 2651.5 2630.1 2659.5 2631.4 2663.8C2632.6 2668 2636.7 2672.6 2640.3 2673.9C2643.8 2675.2 2649.1 2670.5 2652.9 2671.4C2656.8 2672.2 2660.3 2675.6 2663.1 2679C2665.8 2682.4 2668 2687 2669.4 2691.7C2670.9 2696.3 2671.8 2701.8 2672 2706.9C2672.2 2712 2672.6 2718.3 2670.7 2722.1C2668.8 2725.9 2664.4 2727.2 2660.6 2729.7C2656.8 2732.3 2652.5 2735.2 2647.9 2737.4C2643.2 2739.5 2637.7 2740.7 2632.6 2742.4C2627.6 2744.1 2621.2 2747.5 2617.4 2747.5C2613.6 2747.5 2611.9 2745.8 2609.8 2742.4C2607.7 2739.1 2605.8 2731.9 2604.7 2727.2C2603.7 2722.6 2603.5 2718.7 2603.5 2714.5C2603.5 2710.3 2603.7 2706.5 2604.7 2701.8ZM2579.3 2625.7C2578.5 2623.6 2582.1 2623.6 2584.4 2624.4C2586.7 2625.3 2590.1 2626.1 2593.3 2630.8C2596.5 2635.4 2600.3 2646.2 2603.5 2652.3C2606.6 2658.5 2611.5 2664.4 2612.3 2667.6C2613.2 2670.7 2610.9 2673.5 2608.5 2671.4C2606.2 2669.3 2601.5 2660.6 2598.4 2654.9C2595.2 2649.2 2592.7 2642 2589.5 2637.1C2586.3 2632.2 2580.2 2627.8 2579.3 2625.7ZM2589.5 2679.5C2589.7 2678.4 2592 2677.1 2594.6 2678.5C2597.1 2679.9 2603.5 2685.7 2604.7 2687.9C2606 2690.1 2604.1 2692.1 2602.2 2691.7C2600.3 2691.3 2595.4 2687.4 2593.3 2685.3C2591.2 2683.3 2589.3 2680.6 2589.5 2679.5ZM2669.4 2710.7C2670.9 2706.7 2676.8 2699.3 2680.9 2694.2C2684.9 2689.1 2689.5 2683.4 2693.6 2680.3C2697.6 2677.1 2702.6 2675.4 2705 2675.2C2707.3 2675 2708.6 2677.1 2707.5 2679C2706.5 2680.9 2701.8 2683.2 2698.6 2686.6C2695.5 2690 2692.1 2694.6 2688.5 2699.3C2684.9 2703.9 2679.8 2711.3 2677.1 2714.5C2674.3 2717.7 2673.2 2719 2672 2718.3C2670.7 2717.7 2668 2714.7 2669.4 2710.7ZM2706.2 2677C2707.2 2675.2 2710.6 2672 2714.4 2668.8C2718.2 2665.7 2726.4 2659.5 2729.1 2658.2C2731.8 2656.8 2732.7 2658.5 2730.6 2660.7C2728.5 2662.9 2720 2668.2 2716.4 2671.4C2712.8 2674.5 2710.5 2678.6 2708.8 2679.5C2707.1 2680.4 2705.3 2678.7 2706.2 2677ZM2669.4 2718.3C2670.1 2717.5 2672 2718.6 2674.5 2720.9C2677.1 2723.1 2683.4 2729.5 2684.7 2731.8C2685.9 2734 2684.5 2735.3 2682.1 2734.3C2679.8 2733.3 2672.8 2728.6 2670.7 2725.9C2668.6 2723.3 2668.8 2719.2 2669.4 2718.3ZM2726.5 2647.3C2727.8 2645.4 2732.7 2643.9 2736.7 2642.2C2740.7 2640.5 2746.9 2636.9 2750.7 2637.1C2754.5 2637.3 2755.9 2641.8 2759.5 2643.5C2763.1 2645.1 2768.8 2645.1 2772.2 2647.3C2775.6 2649.4 2779.4 2653 2779.8 2656.1C2780.3 2659.3 2777.7 2664 2774.8 2666.3C2771.8 2668.6 2766.7 2669.7 2762.1 2670.1C2757.4 2670.5 2751.3 2670.3 2746.9 2668.8C2742.4 2667.4 2738.4 2663.8 2735.4 2661.2C2732.5 2658.7 2730.6 2655.9 2729.1 2653.6C2727.6 2651.3 2725.3 2649.2 2726.5 2647.3ZM2708.8 2775.4C2708.8 2772.5 2710.9 2769.3 2713.9 2767.8C2716.8 2766.3 2722.3 2766.3 2726.5 2766.5C2730.8 2766.8 2736.1 2766.3 2739.2 2769.1C2742.4 2771.8 2744.9 2778.6 2745.6 2783C2746.2 2787.5 2744.9 2792.4 2743 2795.7C2741.1 2799.1 2737.3 2803.4 2734.2 2803.4C2731 2803.4 2727.4 2798.7 2724 2795.7C2720.6 2792.8 2716.4 2789 2713.9 2785.6C2711.3 2782.2 2708.8 2778.4 2708.8 2775.4ZM2430.9 2831.3C2431.5 2828.9 2434.9 2825.3 2437.2 2823.7C2439.5 2822 2441.9 2820.5 2444.8 2821.1C2447.8 2821.8 2451.2 2826 2455 2827.5C2458.8 2828.9 2463.9 2830 2467.7 2830C2471.5 2830 2477 2826.8 2477.8 2827.5C2478.7 2828.1 2475.7 2832.1 2472.7 2833.8C2469.8 2835.5 2465.1 2836.3 2460.1 2837.6C2455 2838.9 2446.7 2841.4 2442.3 2841.4C2437.8 2841.4 2435.3 2839.3 2433.4 2837.6C2431.5 2835.9 2430.2 2833.6 2430.9 2831.3Z" fill="#cdd6d8" stroke="#cdd6d8" stroke-width="2.5" stroke-linejoin="round"/>
<path d="M199 133h0M164 117h0M208 181h0M137 173h0M219 158h0M134 178h0M201 193h0M221 144h0M140 190h0M218 162h0M243 176h0M228 156h0M231 133h0M249 175h0M266 191h0M234 165h0M268 200h0M248 170h0M259 189h0M255 182h0M233 138h0M230 166h0M280 212h0M257 196h0M272 213h0M275 200h0M290 212h0M221 131h0M237 175h0M265 206h0M220 138h0M256 176h0M260 198h0M263 202h0M254 192h0M223 154h0M289 207h0M221 143h0M257 193h0M271 190h0M225 156h0M219 132h0M219 146h0M290 201h0M239 134h0M252 166h0M288 207h0M240 142h0M303 225h0M372 210h0M300 222h0M286 228h0M369 141h0M350 270h0M320 196h0M349 214h0M349 196h0M329 188h0M303 239h0M291 219h0M367 189h0M299 215h0M300 230h0M336 208h0M357 226h0M379 168h0M332 211h0M338 207h0M352 238h0M371 192h0M335 172h0M373 156h0M365 129h0M361 153h0M322 188h0M308 225h0M351 206h0M292 206h0M361 252h0M355 227h0M326 220h0M309 210h0M347 232h0M364 139h0M342 233h0M343 268h0M372 226h0M360 198h0M356 171h0M371 139h0M333 162h0M388 262h0M355 263h0M383 156h0M379 153h0M338 225h0M354 268h0M329 219h0M354 199h0M345 248h0M299 218h0M357 137h0M371 143h0M375 162h0M371 221h0M361 250h0M400 254h0M361 203h0M344 173h0M382 160h0M353 222h0M385 255h0M353 126h0M355 227h0M334 215h0M381 245h0M360 261h0M348 252h0M322 243h0M344 164h0M401 260h0M359 257h0M348 132h0M383 157h0M347 189h0M334 222h0M338 185h0M336 253h0M366 134h0M380 260h0M372 125h0M344 204h0M284 214h0M369 260h0M406 261h0M338 263h0M399 257h0M385 142h0M337 162h0M351 181h0M339 182h0M343 239h0M377 229h0M353 224h0M376 186h0M348 272h0M377 116h0M334 158h0M346 130h0M380 128h0M354 269h0M378 205h0M323 191h0M379 127h0M373 118h0M413 272h0M375 263h0M314 205h0M290 235h0M354 119h0M319 201h0M377 196h0M361 119h0M374 119h0M310 204h0M404 255h0M313 202h0M344 130h0M406 259h0M322 194h0M369 114h0M359 117h0M307 209h0M398 269h0M385 168h0M383 130h0M383 163h0M381 183h0M319 197h0M283 225h0M413 266h0M289 205h0M378 210h0M390 241h0M283 215h0M386 230h0M358 121h0M339 263h0M412 268h0M285 58h0M283 58h0M282 57h0M46 174h0M45 166h0M53 169h0M103 244h0M94 244h0M97 256h0M105 230h0M75 206h0M70 208h0M118 228h0M126 229h0M95 250h0M125 224h0M117 260h0M98 258h0M104 258h0M79 218h0M76 219h0M112 232h0M249 250h0M267 238h0M254 239h0M243 250h0M250 246h0M261 239h0M263 243h0M250 247h0M245 249h0M247 242h0M270 232h0M253 258h0M229 252h0M228 249h0M268 234h0M248 240h0M238 243h0M233 243h0M265 240h0M269 233h0M266 233h0M260 248h0M257 252h0M234 260h0M135 212h0M143 209h0M136 212h0M135 212h0M138 211h0M138 213h0M147 212h0M144 207h0M131 211h0M67 334h0M51 347h0M45 317h0M62 336h0M44 328h0M45 334h0M43 338h0M58 363h0M68 327h0M49 354h0M61 366h0M63 336h0M61 355h0M63 356h0M59 366h0M69 319h0M61 329h0M57 323h0M68 342h0M53 313h0M71 365h0M56 361h0M65 329h0M36 335h0M61 324h0M73 327h0M43 319h0M70 370h0M62 324h0M38 338h0M64 327h0M57 367h0M59 318h0M42 312h0M46 311h0M33 336h0M31 340h0M211 358h0M182 343h0M178 348h0M204 369h0M183 337h0M214 358h0M209 356h0M183 336h0M209 358h0M245 383h0M192 350h0M218 361h0M199 361h0M188 361h0M248 377h0M179 375h0M176 354h0M213 418h0M186 358h0M200 356h0M204 369h0M187 344h0M179 359h0M243 364h0M246 372h0M199 422h0M232 342h0M163 357h0M198 421h0M164 353h0M171 343h0M237 413h0M210 423h0M225 419h0M176 340h0M198 426h0M205 421h0M185 431h0M247 384h0M238 353h0M192 416h0M243 369h0M226 334h0M229 342h0M180 333h0M252 381h0M179 334h0M265 319h0M265 318h0M259 328h0M246 345h0M250 361h0M258 358h0M378 388h0M329 409h0M369 396h0M345 398h0M361 413h0M329 390h0M362 419h0M375 381h0M387 409h0M346 367h0M334 427h0M339 380h0M369 405h0M357 426h0M367 399h0M327 439h0M365 383h0M374 421h0M322 405h0M346 377h0M366 406h0M365 375h0M334 426h0M378 392h0M352 374h0M327 390h0M341 386h0M322 422h0M346 352h0M327 394h0M348 438h0M375 401h0M343 362h0M383 424h0M320 405h0M348 445h0M362 439h0M384 424h0M384 426h0M389 416h0M377 379h0M336 366h0M340 350h0M374 431h0M346 358h0M356 444h0M323 433h0M354 372h0M349 352h0M326 444h0M350 442h0M342 347h0M315 352h0M311 344h0M310 337h0M311 339h0M325 365h0M300 325h0M297 325h0M304 326h0M310 333h0M315 359h0M323 368h0M322 355h0M324 357h0M299 322h0M298 328h0M302 332h0M305 327h0M307 377h0M312 384h0M306 378h0M311 387h0M404 396h0M416 381h0M403 393h0M401 404h0M396 404h0M398 396h0M407 393h0M419 378h0M401 387h0M391 418h0M397 396h0M418 375h0M389 417h0M404 399h0M404 382h0M422 376h0M389 415h0M413 378h0M386 406h0M396 407h0M390 420h0M384 414h0M393 417h0M425 375h0M429 371h0M431 373h0M447 358h0M424 370h0M425 379h0M432 369h0M431 372h0M422 376h0M429 375h0M398 434h0M386 424h0M400 435h0M390 421h0M469 339h0M478 360h0M480 365h0M464 343h0M446 352h0M487 350h0M449 345h0M464 346h0M462 368h0M450 354h0M494 354h0M489 362h0M465 368h0M479 369h0M493 366h0M493 353h0M457 343h0M494 352h0M441 348h0M449 356h0M467 337h0M462 367h0M470 337h0M449 357h0M443 352h0M487 367h0M484 372h0M455 363h0M454 494h0M432 470h0M460 491h0M428 470h0M425 481h0M451 504h0M454 468h0M431 484h0M429 478h0M451 502h0M425 471h0M426 475h0M454 501h0M191 529h0M193 528h0M155 534h0M161 527h0M190 532h0M174 529h0M153 533h0M168 539h0M147 530h0M167 531h0M165 538h0M169 526h0M172 528h0M186 536h0M187 532h0M159 520h0M172 540h0M180 535h0M148 527h0M187 533h0M160 542h0" stroke="#cdd6d8" stroke-width="4.7" stroke-linecap="round" fill="none" transform="translate(2284 2300)"/>
<path d="M193 126h0M185 154h0M202 142h0M195 156h0M184 125h0M195 130h0M191 138h0M201 138h0M186 111h0M209 156h0M176 152h0M202 113h0M175 151h0M178 132h0M184 143h0M204 162h0M160 157h0M186 137h0M189 162h0M188 149h0M170 153h0M166 142h0M200 152h0M170 120h0M172 149h0M183 140h0M160 159h0M214 154h0M170 146h0M183 143h0M192 140h0M197 153h0M189 110h0M195 159h0M164 162h0M195 111h0M213 152h0M187 124h0M187 118h0M197 154h0M177 131h0M211 158h0M186 160h0M186 162h0M178 142h0M182 120h0M198 136h0M239 406h0M187 365h0M189 367h0M233 389h0M227 384h0M193 368h0M221 403h0M226 362h0M221 378h0M235 397h0M231 382h0M194 359h0M242 391h0M244 400h0M228 408h0M225 360h0M232 396h0M245 390h0M210 391h0M222 387h0M242 386h0M229 398h0M236 397h0M215 396h0M246 390h0M230 402h0M223 380h0M234 388h0M218 375h0M230 401h0M230 406h0M238 387h0M227 369h0M221 401h0M220 363h0M237 373h0M230 365h0M234 393h0M190 367h0M216 409h0M241 377h0M228 401h0" stroke="#9c8ef3" stroke-width="10.5" stroke-linecap="round" fill="none" transform="translate(2284 2300)"/>
<path d="M145 190h0M204 166h0M148 192h0M212 150h0M218 121h0M158 164h0M166 177h0M170 188h0M142 188h0M208 143h0M179 201h0M166 172h0M195 184h0M173 184h0M208 144h0M169 176h0M158 169h0M172 201h0M159 182h0M216 146h0M181 186h0M212 151h0M209 124h0M174 187h0M175 165h0M142 188h0M212 134h0M179 199h0M198 174h0M206 167h0M214 139h0M206 162h0M156 186h0M172 168h0M201 164h0M181 198h0M213 144h0M162 193h0M219 134h0M214 138h0M207 145h0M167 192h0M182 192h0M183 192h0M148 174h0M190 166h0M220 118h0M166 167h0M163 168h0M162 187h0M186 179h0M207 133h0M187 197h0M179 196h0M160 170h0M171 181h0M148 182h0M198 163h0M191 172h0M165 196h0M211 112h0M190 163h0M207 115h0M147 183h0M180 199h0M219 117h0" stroke="#8279f2" stroke-width="10.5" stroke-linecap="round" fill="none" transform="translate(2284 2300)"/>
<path d="M185 374h0M227 349h0M195 383h0M186 392h0M211 344h0M197 417h0M189 394h0M189 387h0M190 409h0M194 388h0M187 392h0M188 393h0M195 347h0M202 378h0M206 401h0M201 352h0M199 403h0M206 387h0M214 340h0M184 396h0M204 389h0M195 331h0M200 348h0M206 398h0M203 408h0M209 404h0M192 374h0M192 426h0M201 409h0M202 411h0M191 402h0M197 387h0M201 405h0M198 396h0M197 341h0M197 416h0M221 343h0M186 375h0M186 377h0M181 386h0M185 391h0M203 342h0M205 405h0M194 410h0M200 411h0M217 338h0M189 389h0M215 338h0M199 374h0M228 347h0M177 388h0M201 381h0" stroke="#6864f0" stroke-width="10.5" stroke-linecap="round" fill="none" transform="translate(2284 2300)"/>
<path d="M161 162h0M160 159h0M179 145h0M355 149h0M357 160h0M333 220h0M346 148h0M314 227h0M368 135h0M340 202h0M313 218h0M343 210h0M368 127h0M359 139h0M291 221h0M373 166h0M349 150h0M320 221h0M345 147h0M307 235h0M338 167h0M351 222h0M360 177h0M343 154h0M330 199h0M348 206h0M306 232h0M311 242h0M347 264h0M384 144h0M296 239h0M359 120h0M245 250h0M237 248h0M54 346h0M233 404h0M219 409h0M237 391h0M254 338h0M376 392h0M326 423h0M363 427h0M353 377h0M363 407h0M350 392h0M332 400h0M364 403h0M345 392h0M373 423h0M335 409h0M355 399h0M362 423h0M347 419h0M383 404h0M351 440h0M355 404h0M364 387h0M356 397h0M328 443h0M325 393h0M367 428h0M333 428h0M374 389h0M325 433h0M337 415h0M352 393h0M342 389h0M367 405h0M366 389h0M327 390h0M351 396h0M362 418h0M362 413h0M326 416h0M338 411h0M354 436h0M352 398h0M350 418h0M364 415h0M357 417h0M321 417h0M326 439h0M359 431h0M366 415h0M384 417h0M347 388h0M334 445h0M359 407h0M378 392h0M376 411h0M341 428h0M337 441h0M369 403h0M371 404h0M332 396h0M338 431h0M355 431h0M349 439h0M321 406h0M371 429h0M323 394h0M328 445h0M323 439h0M451 344h0M471 363h0M470 367h0M459 343h0" stroke="#c8c8e6" stroke-width="4.7" stroke-linecap="round" fill="none" transform="translate(2284 2300)"/>
<path d="M191 126h0M175 150h0M188 132h0M155 194h0M174 113h0M172 119h0M189 147h0M196 112h0M168 182h0M172 125h0M191 133h0M200 107h0M131 178h0M202 180h0M178 118h0M190 152h0M163 132h0M177 135h0M170 141h0M178 150h0M165 209h0M176 143h0M185 104h0M190 194h0M186 114h0M211 153h0M172 124h0M188 133h0M202 153h0M350 125h0M327 201h0M319 200h0M359 167h0M347 235h0M401 266h0M350 256h0M364 124h0M353 166h0M350 261h0M346 138h0M329 216h0M371 136h0M369 124h0M388 253h0M353 223h0M350 179h0M348 219h0M346 253h0M363 199h0M363 208h0M376 241h0M292 212h0M377 207h0M374 251h0M315 229h0M355 267h0M386 233h0M332 252h0M382 254h0M331 167h0M302 225h0M367 148h0M312 241h0M351 135h0M399 266h0M403 257h0M371 154h0M329 175h0M335 204h0M348 235h0M357 217h0M315 213h0M336 185h0M377 190h0M287 211h0M332 155h0M393 268h0M284 209h0M281 219h0M385 166h0M114 253h0M97 227h0M111 255h0M82 215h0M88 221h0M111 241h0M116 244h0M117 249h0M91 208h0M50 342h0M57 328h0M54 345h0M70 367h0M67 339h0M66 340h0M41 334h0M41 334h0M50 318h0M36 336h0M221 400h0M228 398h0M227 405h0M221 359h0M243 374h0M231 379h0M233 413h0M237 377h0M217 371h0M220 379h0M218 371h0M219 412h0M251 395h0M240 368h0M211 389h0M190 350h0M220 379h0M213 387h0M226 365h0M234 371h0M242 378h0M231 417h0M223 373h0M223 364h0M223 399h0M190 348h0M222 406h0M194 365h0M179 348h0M247 381h0M227 403h0M239 402h0M172 360h0M337 404h0M357 431h0M351 436h0M349 401h0M332 401h0M387 408h0M340 423h0M363 436h0M333 418h0M356 406h0M380 412h0M345 398h0M379 411h0M378 429h0M344 390h0M352 401h0M365 396h0M332 435h0M347 414h0M344 402h0M331 437h0M331 410h0M360 431h0M358 427h0M337 410h0M341 403h0M331 403h0M376 405h0M340 422h0M376 394h0M377 413h0M383 411h0M353 428h0M339 427h0M386 401h0M329 433h0M368 427h0M358 440h0M324 439h0M315 355h0M317 351h0M325 364h0M320 363h0M316 388h0M323 389h0M303 379h0M456 341h0M482 368h0M480 365h0M467 363h0M444 350h0M469 337h0M164 531h0M151 536h0M159 540h0M146 526h0" stroke="#c4baf3" stroke-width="4.7" stroke-linecap="round" fill="none" transform="translate(2284 2300)"/>
<path d="M216 109h0M198 147h0M161 141h0M189 159h0M169 127h0M187 107h0M159 169h0M207 184h0M187 203h0M201 151h0M146 197h0M162 117h0M176 139h0M182 165h0M165 135h0M200 169h0M156 156h0M181 124h0M190 109h0M207 184h0M184 151h0M189 145h0M205 166h0M208 138h0M202 126h0M163 192h0M179 203h0M190 140h0M181 151h0M204 137h0M158 148h0M160 146h0M217 155h0M191 144h0M163 201h0M189 183h0M146 187h0M219 163h0M201 152h0M216 168h0M197 146h0M162 172h0M173 147h0M175 157h0M183 107h0M196 180h0M167 146h0M202 173h0M164 163h0M154 194h0M177 138h0M178 158h0M187 140h0M195 113h0M144 176h0M169 157h0M180 162h0M189 104h0M176 139h0M169 195h0M200 130h0M178 125h0M182 175h0M218 162h0M140 177h0M179 126h0M198 124h0M171 158h0M178 150h0M161 177h0M156 178h0M161 158h0M172 149h0M163 141h0M197 116h0M193 147h0M188 111h0M205 181h0M169 130h0M139 183h0M158 206h0M190 136h0M206 110h0M163 125h0M200 132h0M160 152h0M158 201h0M194 122h0M187 132h0M177 156h0M177 140h0M167 128h0M175 153h0M142 197h0M205 155h0M173 146h0M176 203h0M201 191h0M181 124h0M209 168h0M173 123h0M191 110h0M215 160h0M158 161h0M199 195h0M147 174h0M187 98h0M249 170h0M364 159h0M353 182h0M296 229h0M373 173h0M342 173h0M398 250h0M370 239h0M357 164h0M365 211h0M317 227h0M368 124h0M373 191h0M293 215h0M383 163h0M356 246h0M364 237h0M381 247h0M348 262h0M311 232h0M332 186h0M373 189h0M343 257h0M389 262h0M362 263h0M340 265h0M348 151h0M328 187h0M339 264h0M376 151h0M367 141h0M331 245h0M404 258h0M352 176h0M351 173h0M334 238h0M355 223h0M340 239h0M350 271h0M297 232h0M377 207h0M353 228h0M356 186h0M316 237h0M348 261h0M378 254h0M356 191h0M357 183h0M352 245h0M301 224h0M325 179h0M357 235h0M330 249h0M372 181h0M371 247h0M367 132h0M329 224h0M334 177h0M347 226h0M375 203h0M385 158h0M330 205h0M342 175h0M354 145h0M354 213h0M325 215h0M363 156h0M313 221h0M345 237h0M381 131h0M386 139h0M343 269h0M380 124h0M108 243h0M83 216h0M96 227h0M74 207h0M80 226h0M122 235h0M91 209h0M83 219h0M110 257h0M106 255h0M88 206h0M76 214h0M105 245h0M113 246h0M107 250h0M91 209h0M87 209h0M94 226h0M97 248h0M112 246h0M106 252h0M116 258h0M102 230h0M105 259h0M243 239h0M51 348h0M49 313h0M75 319h0M54 346h0M74 358h0M60 328h0M42 316h0M56 356h0M65 336h0M68 367h0M43 333h0M60 354h0M53 315h0M54 309h0M227 390h0M181 366h0M216 398h0M231 366h0M221 402h0M234 353h0M231 403h0M220 374h0M227 365h0M243 391h0M225 394h0M230 377h0M178 346h0M169 351h0M222 359h0M162 349h0M227 402h0M233 363h0M219 393h0M239 365h0M217 381h0M218 408h0M212 382h0M220 396h0M214 399h0M239 382h0M233 413h0M227 383h0M173 345h0M239 369h0M190 370h0M233 370h0M219 411h0M222 366h0M233 385h0M192 370h0M239 364h0M225 388h0M179 339h0M236 397h0M238 358h0M184 368h0M167 352h0M244 388h0M187 330h0M226 366h0M211 394h0M234 372h0M230 342h0M232 381h0M231 373h0M235 351h0M217 390h0M221 356h0M167 352h0M247 374h0M242 395h0M220 411h0M235 369h0M224 380h0M247 384h0M235 411h0M172 366h0M218 364h0M220 374h0M227 384h0M173 343h0M161 352h0M223 366h0M227 371h0M232 386h0M221 379h0M225 369h0M229 363h0M246 392h0M230 357h0M231 360h0M217 402h0M168 352h0M230 372h0M247 404h0M247 378h0M248 379h0M244 380h0M235 397h0M250 383h0M244 397h0M185 349h0M223 358h0M160 355h0M247 375h0M166 358h0M260 322h0M255 328h0M356 404h0M362 402h0M378 405h0M353 398h0M348 428h0M387 403h0M344 361h0M385 404h0M340 427h0M345 427h0M363 427h0M349 431h0M380 406h0M343 423h0M374 430h0M335 430h0M382 400h0M342 426h0M333 409h0M365 408h0M384 414h0M346 416h0M368 435h0M339 438h0M339 414h0M355 389h0M352 437h0M361 425h0M346 398h0M330 405h0M358 438h0M320 417h0M339 411h0M339 427h0M385 422h0M334 415h0M330 407h0M345 391h0M341 375h0M382 419h0M335 427h0M376 404h0M350 412h0M325 442h0M318 411h0M361 436h0M335 448h0M379 376h0M370 373h0M388 412h0M321 404h0M317 419h0M317 354h0M314 341h0M326 374h0M316 357h0M314 389h0M391 413h0M389 419h0M458 355h0M463 367h0M482 353h0M479 366h0M460 366h0M162 531h0M157 524h0M159 526h0M152 525h0M147 531h0" stroke="#b0a4f3" stroke-width="4.7" stroke-linecap="round" fill="none" transform="translate(2284 2300)"/>
<path d="M186 147h0M203 141h0M186 150h0M191 120h0M204 161h0M202 138h0M174 122h0M182 190h0M182 192h0M196 160h0M183 158h0M160 139h0M175 161h0M184 149h0M143 193h0M138 182h0M143 181h0M184 185h0M212 148h0M181 123h0M160 147h0M209 165h0M160 174h0M182 114h0M148 181h0M180 159h0M155 166h0M203 111h0M168 174h0M166 181h0M158 159h0M187 145h0M215 127h0M196 128h0M200 183h0M201 151h0M214 164h0M207 128h0M180 119h0M188 148h0M206 113h0M147 192h0M161 154h0M204 115h0M159 164h0M194 192h0M176 110h0M205 117h0M185 162h0M199 121h0M208 150h0M173 171h0M162 135h0M196 128h0M199 148h0M141 176h0M203 177h0M202 189h0M186 140h0M165 165h0M180 149h0M168 147h0M164 142h0M173 122h0M172 199h0M169 192h0M147 187h0M175 138h0M216 150h0M199 151h0M213 141h0M186 142h0M176 167h0M200 159h0M192 176h0M173 194h0M144 182h0M185 106h0M160 137h0M179 160h0M208 159h0M191 147h0M203 116h0M189 153h0M191 129h0M177 144h0M187 118h0M208 120h0M179 155h0M186 155h0M215 152h0M190 137h0M174 161h0M202 156h0M163 203h0M170 170h0M217 156h0M189 179h0M176 156h0M186 177h0M184 107h0M171 157h0M190 129h0M151 201h0M162 177h0M186 124h0M152 197h0M178 192h0M194 151h0M179 176h0M212 128h0M179 139h0M179 149h0M205 158h0M186 134h0M212 137h0M156 173h0M197 129h0M188 127h0M169 164h0M188 121h0M188 157h0M173 201h0M176 145h0M169 141h0M147 190h0M153 180h0M168 172h0M200 125h0M176 109h0M170 172h0M221 127h0M163 148h0M193 148h0M192 167h0M130 176h0M170 110h0M160 155h0M162 180h0M169 134h0M173 176h0M176 197h0M173 167h0M194 135h0M164 172h0M180 146h0M206 163h0M190 193h0M147 185h0M179 112h0M171 194h0M217 126h0M213 121h0M155 180h0M213 154h0M205 121h0M176 143h0M174 136h0M213 107h0M163 134h0M151 205h0M192 186h0M195 110h0M208 163h0M182 157h0M164 169h0M173 154h0M170 142h0M214 155h0M186 191h0M169 182h0M159 209h0M166 113h0M198 128h0M219 117h0M182 183h0M173 192h0M195 146h0M169 114h0M193 157h0M199 128h0M163 138h0M137 182h0M165 117h0M145 172h0M174 140h0M192 171h0M164 197h0M177 127h0M199 148h0M137 184h0M211 169h0M170 132h0M210 107h0M213 168h0M145 205h0M196 155h0M175 184h0M189 106h0M173 190h0M202 136h0M175 126h0M184 173h0M188 147h0M158 144h0M153 209h0M163 113h0M157 137h0M143 201h0M132 180h0M153 210h0M148 168h0M134 174h0M234 143h0M233 127h0M224 137h0M255 174h0M378 126h0M324 191h0M306 239h0M361 267h0M392 246h0M368 161h0M355 165h0M376 170h0M378 245h0M340 186h0M332 204h0M342 163h0M284 220h0M304 218h0M311 223h0M370 244h0M347 234h0M324 207h0M311 217h0M353 169h0M344 195h0M376 172h0M350 132h0M360 185h0M361 135h0M312 223h0M349 236h0M309 222h0M400 263h0M344 175h0M348 156h0M333 224h0M378 228h0M337 192h0M376 258h0M332 174h0M347 258h0M342 242h0M332 185h0M346 206h0M357 198h0M376 210h0M375 164h0M378 227h0M368 149h0M331 194h0M315 209h0M360 242h0M330 202h0M313 210h0M365 217h0M303 235h0M330 204h0M352 227h0M368 189h0M349 239h0M355 199h0M384 256h0M376 125h0M311 234h0M357 255h0M355 133h0M379 242h0M349 229h0M348 143h0M360 119h0M362 115h0M318 196h0M283 228h0M392 240h0M378 210h0M285 50h0M286 45h0M120 253h0M84 222h0M88 218h0M76 209h0M101 244h0M91 233h0M85 232h0M121 229h0M80 225h0M118 241h0M81 217h0M75 209h0M99 237h0M119 252h0M78 216h0M108 244h0M109 244h0M85 231h0M96 234h0M98 250h0M85 210h0M99 230h0M114 259h0M101 235h0M106 240h0M106 234h0M101 251h0M120 231h0M86 206h0M108 232h0M231 254h0M135 211h0M136 211h0M57 340h0M65 341h0M52 345h0M58 339h0M54 338h0M48 353h0M67 338h0M53 320h0M67 352h0M47 339h0M68 363h0M62 362h0M65 360h0M53 333h0M45 350h0M40 338h0M70 367h0M227 391h0M241 377h0M209 408h0M171 345h0M198 365h0M223 366h0M191 347h0M242 393h0M178 351h0M210 397h0M246 406h0M251 394h0M242 369h0M237 401h0M223 391h0M229 401h0M206 375h0M226 386h0M209 421h0M235 410h0M242 395h0M216 388h0M230 354h0M178 376h0M216 416h0M189 433h0M213 417h0M230 380h0M244 390h0M239 402h0M224 389h0M237 395h0M211 405h0M232 348h0M240 406h0M222 399h0M214 416h0M229 371h0M200 365h0M210 373h0M245 374h0M225 373h0M212 385h0M228 416h0M209 384h0M213 370h0M235 385h0M225 378h0M228 374h0M241 408h0M170 351h0M245 401h0M231 371h0M235 378h0M221 386h0M241 411h0M184 354h0M217 378h0M234 373h0M201 329h0M239 386h0M180 356h0M231 343h0M242 409h0M176 358h0M215 412h0M224 405h0M239 408h0M179 344h0M213 379h0M199 395h0M174 365h0M197 357h0M236 391h0M233 387h0M176 368h0M217 392h0M224 362h0M215 408h0M231 375h0M217 396h0M215 402h0M215 380h0M247 406h0M178 367h0M211 420h0M216 405h0M234 400h0M231 359h0M220 370h0M228 369h0M166 353h0M198 400h0M229 388h0M218 398h0M241 391h0M199 370h0M223 361h0M207 388h0M228 357h0M217 411h0M192 351h0M234 393h0M179 363h0M186 431h0M177 339h0M235 353h0M222 384h0M210 331h0M216 399h0M193 370h0M200 386h0M230 356h0M229 418h0M185 334h0M248 382h0M244 393h0M243 395h0M166 349h0M215 325h0M243 411h0M163 360h0M174 372h0M260 319h0M257 328h0M262 318h0M256 353h0M336 376h0M355 382h0M339 402h0M360 431h0M379 419h0M361 387h0M347 365h0M370 428h0M380 388h0M358 418h0M328 426h0M382 392h0M330 392h0M367 398h0M359 434h0M339 446h0M356 407h0M360 380h0M347 394h0M343 354h0M341 415h0M345 429h0M347 421h0M342 361h0M348 386h0M378 411h0M349 443h0M345 346h0M311 341h0M314 350h0M319 367h0M317 389h0M309 382h0M313 382h0M478 360h0M454 343h0M470 352h0M467 346h0M451 357h0M475 351h0M462 368h0M462 358h0M481 353h0M478 350h0M466 361h0M468 354h0M481 347h0M456 343h0M446 498h0M450 487h0M446 494h0M448 469h0M456 489h0M456 495h0M169 537h0M151 533h0M157 539h0M161 534h0M149 537h0M160 532h0" stroke="#9c8ef3" stroke-width="4.7" stroke-linecap="round" fill="none" transform="translate(2284 2300)"/>
<path d="M180 115h0M179 181h0M205 165h0M193 169h0M184 173h0M208 122h0M185 191h0M205 178h0M180 119h0M216 149h0M162 199h0M196 146h0M204 162h0M166 187h0M149 175h0M197 153h0M213 155h0M158 206h0M162 143h0M170 190h0M178 112h0M212 129h0M167 175h0M217 120h0M174 179h0M212 123h0M170 135h0M159 198h0M199 184h0M198 174h0M186 157h0M202 167h0M181 122h0M177 160h0M206 133h0M216 117h0M206 180h0M179 130h0M200 108h0M206 170h0M143 188h0M210 123h0M209 180h0M215 151h0M204 182h0M191 184h0M219 129h0M219 116h0M180 205h0M191 169h0M193 194h0M211 106h0M206 113h0M213 139h0M161 163h0M200 193h0M209 160h0M175 180h0M215 173h0M186 184h0M165 182h0M213 130h0M212 159h0M177 156h0M190 194h0M197 135h0M216 124h0M207 120h0M181 126h0M182 108h0M195 137h0M215 169h0M160 154h0M209 120h0M184 156h0M187 120h0M200 143h0M166 178h0M140 183h0M177 182h0M164 207h0M155 175h0M193 193h0M172 179h0M192 157h0M213 172h0M193 156h0M177 185h0M223 126h0M212 136h0M156 203h0M183 108h0M164 142h0M205 153h0M164 208h0M208 111h0M214 107h0M136 183h0M159 176h0M197 118h0M182 191h0M218 120h0M172 203h0M167 118h0M223 136h0M193 127h0M180 108h0M211 114h0M204 164h0M146 183h0M181 188h0M143 191h0M168 201h0M174 175h0M197 129h0M181 109h0M157 149h0M215 140h0M175 170h0M176 189h0M204 173h0M217 114h0M178 177h0M177 106h0M223 137h0M167 149h0M166 136h0M180 136h0M203 191h0M209 136h0M168 200h0M183 164h0M132 180h0M159 179h0M164 184h0M220 114h0M145 191h0M204 138h0M158 203h0M200 110h0M191 107h0M222 120h0M215 140h0M193 192h0M195 115h0M165 196h0M206 162h0M210 127h0M158 196h0M193 172h0M161 201h0M196 162h0M208 137h0M155 189h0M181 118h0M209 165h0M186 145h0M146 193h0M172 183h0M154 162h0M193 141h0M157 162h0M197 161h0M162 169h0M192 163h0M160 149h0M141 193h0M192 178h0M172 129h0M209 135h0M192 175h0M137 187h0M191 145h0M186 135h0M147 188h0M215 145h0M142 176h0M193 116h0M152 206h0M189 110h0M177 122h0M189 163h0M147 184h0M176 183h0M213 168h0M204 113h0M181 182h0M191 201h0M147 193h0M131 175h0M195 119h0M217 139h0M175 149h0M186 152h0M178 131h0M164 172h0M169 169h0M138 180h0M198 137h0M162 205h0M206 170h0M201 172h0M163 116h0M199 193h0M184 103h0M150 172h0M153 202h0M139 177h0M176 167h0M158 162h0M140 178h0M169 170h0M165 159h0M202 135h0M158 162h0M194 115h0M208 121h0M152 195h0M149 182h0M207 121h0M223 124h0M162 181h0M175 108h0M194 184h0M169 202h0M175 179h0M174 205h0M148 176h0M172 164h0M163 146h0M165 179h0M213 134h0M202 123h0M171 110h0M211 138h0M202 136h0M187 190h0M162 205h0M169 112h0M195 102h0M171 113h0M186 202h0M222 149h0M138 190h0M147 165h0M206 104h0M155 151h0M141 194h0M164 128h0M231 162h0M232 138h0M241 153h0M228 137h0M228 139h0M231 163h0M269 192h0M232 128h0M248 169h0M227 161h0M255 173h0M221 144h0M260 185h0M219 135h0M369 166h0M305 231h0M343 263h0M362 159h0M374 243h0M344 161h0M365 128h0M336 255h0M351 142h0M372 258h0M380 244h0M327 210h0M359 220h0M406 262h0M321 195h0M355 122h0M296 222h0M348 175h0M383 224h0M336 247h0M343 231h0M357 221h0M374 181h0M340 262h0M363 229h0M378 140h0M343 154h0M384 223h0M313 229h0M333 219h0M383 168h0M380 201h0M404 267h0M283 46h0M282 40h0M285 45h0M285 44h0M286 48h0M285 43h0M278 38h0M109 235h0M81 228h0M114 252h0M84 209h0M102 251h0M118 249h0M92 228h0M87 226h0M87 220h0M99 242h0M82 210h0M100 239h0M90 241h0M76 216h0M94 251h0M91 206h0M100 227h0M83 205h0M232 249h0M249 243h0M234 244h0M49 322h0M60 355h0M63 337h0M52 344h0M44 334h0M56 351h0M61 361h0M64 352h0M57 354h0M77 317h0M176 395h0M219 370h0M212 413h0M189 364h0M180 372h0M247 391h0M235 363h0M189 386h0M202 347h0M215 373h0M215 393h0M196 383h0M235 416h0M210 415h0M186 409h0M179 372h0M226 410h0M243 391h0M192 348h0M177 360h0M216 412h0M198 381h0M204 408h0M209 410h0M191 412h0M160 349h0M197 394h0M225 333h0M207 327h0M215 330h0M212 326h0M209 413h0M208 391h0M216 390h0M173 344h0M209 374h0M201 397h0M195 337h0M217 392h0M213 420h0M178 352h0M189 404h0M230 404h0M230 410h0M241 370h0M216 337h0M201 408h0M173 368h0M219 399h0M231 343h0M236 379h0M220 392h0M230 412h0M234 348h0M214 416h0M202 386h0M176 390h0M220 336h0M195 326h0M207 338h0M218 339h0M215 385h0M226 360h0M236 354h0M220 387h0M203 406h0M192 370h0M193 396h0M183 379h0M206 346h0M206 391h0M221 419h0M197 326h0M246 386h0M181 348h0M213 414h0M214 403h0M197 364h0M237 360h0M248 404h0M187 404h0M221 347h0M182 334h0M214 388h0M205 395h0M244 401h0M239 406h0M241 405h0M238 399h0M241 360h0M199 371h0M170 350h0M211 382h0M233 370h0M216 378h0M223 370h0M234 379h0M186 386h0M224 395h0M230 351h0M214 419h0M192 381h0M235 356h0M159 350h0M215 336h0M179 361h0M179 371h0M198 335h0M229 362h0M217 333h0M201 401h0M237 376h0M222 416h0M249 395h0M186 380h0M229 346h0M193 420h0M197 362h0M190 427h0M193 367h0M159 350h0M217 420h0M229 397h0M199 424h0M248 404h0M244 409h0M247 405h0M203 325h0M203 420h0M247 347h0M260 323h0M257 326h0M252 341h0M262 316h0M251 360h0M256 354h0M344 363h0M342 373h0M341 372h0M368 381h0M357 403h0M329 413h0M378 381h0M325 438h0M369 372h0M340 377h0M360 373h0M327 382h0M320 427h0M322 358h0M388 424h0M398 436h0M398 436h0M489 366h0M462 363h0M454 353h0M458 344h0M480 347h0M466 360h0M476 352h0M466 365h0M470 358h0M448 347h0M445 473h0M445 493h0M443 484h0M454 500h0M450 490h0M442 497h0M441 491h0M457 476h0M446 495h0M458 469h0M149 530h0" stroke="#8279f2" stroke-width="4.7" stroke-linecap="round" fill="none" transform="translate(2284 2300)"/>
<path d="M175 180h0M182 202h0M196 192h0M184 160h0M158 200h0M186 136h0M209 164h0M189 147h0M188 202h0M163 208h0M194 113h0M192 197h0M209 120h0M193 116h0M163 165h0M194 168h0M178 190h0M164 123h0M200 185h0M200 138h0M204 187h0M191 105h0M159 187h0M213 144h0M184 177h0M184 106h0M162 195h0M174 202h0M162 184h0M205 141h0M138 181h0M189 102h0M217 163h0M190 109h0M152 194h0M213 174h0M199 123h0M185 122h0M189 136h0M195 149h0M206 143h0M181 137h0M193 165h0M167 138h0M203 137h0M143 198h0M202 120h0M172 159h0M178 160h0M162 181h0M167 143h0M189 179h0M152 179h0M158 161h0M173 185h0M197 186h0M182 189h0M203 165h0M199 184h0M165 207h0M168 201h0M207 109h0M158 209h0M155 209h0M216 143h0M155 186h0M157 207h0M159 144h0M219 145h0M188 193h0M157 196h0M178 185h0M175 150h0M162 207h0M188 129h0M190 171h0M179 166h0M174 123h0M168 127h0M190 101h0M188 174h0M210 151h0M186 180h0M197 192h0M161 167h0M161 203h0M196 128h0M158 161h0M213 144h0M162 187h0M175 166h0M213 144h0M222 117h0M178 187h0M133 176h0M193 173h0M170 176h0M205 157h0M160 202h0M156 182h0M162 150h0M192 145h0M173 193h0M163 164h0M220 123h0M216 118h0M171 168h0M220 113h0M146 177h0M209 113h0M167 187h0M212 108h0M160 165h0M177 187h0M169 183h0M175 146h0M214 134h0M212 161h0M139 188h0M197 134h0M176 160h0M208 128h0M163 185h0M215 152h0M184 117h0M209 168h0M216 115h0M135 177h0M185 132h0M190 173h0M171 192h0M200 170h0M184 204h0M155 171h0M181 170h0M212 148h0M145 191h0M155 175h0M199 151h0M214 141h0M202 159h0M179 166h0M216 122h0M185 178h0M154 207h0M169 166h0M176 174h0M213 140h0M150 163h0M200 106h0M148 205h0M151 168h0M134 183h0M166 112h0M151 212h0M216 167h0M161 133h0M165 210h0M227 123h0M285 209h0M226 136h0M223 143h0M226 155h0M237 151h0M229 133h0M275 208h0M227 143h0M257 189h0M264 188h0M220 138h0M221 148h0M230 126h0M222 146h0M234 132h0M268 203h0M256 179h0M259 193h0M254 189h0M244 150h0M246 184h0M368 264h0M323 229h0M318 215h0M363 197h0M340 171h0M351 224h0M374 187h0M369 237h0M399 266h0M351 272h0M287 45h0M281 37h0M287 50h0M48 171h0M46 168h0M55 179h0M99 248h0M120 238h0M92 215h0M113 256h0M76 205h0M110 248h0M103 252h0M118 246h0M119 250h0M247 247h0M236 251h0M253 240h0M52 339h0M65 354h0M67 356h0M187 399h0M214 381h0M194 390h0M207 339h0M222 358h0M198 373h0M217 373h0M191 390h0M211 362h0M183 379h0M214 340h0M211 402h0M231 340h0M189 370h0M201 399h0M189 378h0M196 422h0M173 391h0M201 406h0M193 333h0M200 387h0M196 390h0M221 370h0M215 349h0M219 391h0M224 348h0M188 412h0M223 364h0M202 330h0M227 356h0M225 339h0M206 330h0M182 397h0M191 397h0M205 382h0M214 338h0M190 393h0M181 401h0M198 387h0M180 379h0M225 350h0M217 349h0M183 382h0M184 393h0M208 346h0M197 379h0M188 391h0M231 346h0M234 350h0M197 397h0M178 403h0M207 391h0M202 402h0M203 398h0M196 337h0M246 398h0M195 402h0M247 395h0M218 368h0M195 353h0M214 346h0M217 342h0M199 355h0M194 403h0M199 405h0M242 389h0M225 402h0M213 375h0M196 390h0M193 336h0M217 367h0M212 397h0M197 331h0M186 432h0M176 396h0M203 346h0M179 403h0M204 405h0M236 371h0M234 398h0M207 414h0M211 416h0M207 415h0M209 394h0M197 416h0M189 363h0M207 401h0M192 396h0M205 416h0M188 378h0M181 384h0M190 384h0M181 404h0M205 414h0M236 354h0M188 403h0M176 373h0M191 397h0M212 408h0M192 417h0M204 385h0M234 392h0M190 431h0M201 368h0M206 330h0M194 413h0M224 352h0M200 342h0M184 385h0M192 372h0M214 332h0M202 393h0M199 379h0M194 388h0M202 327h0M182 408h0M174 390h0M262 320h0M262 323h0M262 317h0M251 336h0M242 340h0M251 361h0M252 355h0M253 357h0M253 355h0M346 375h0M334 380h0M347 384h0M337 368h0M338 446h0M339 375h0M344 354h0M366 375h0M341 355h0M397 432h0M473 345h0M445 489h0M447 489h0M448 495h0M447 495h0M444 467h0M443 479h0M447 478h0M441 478h0M443 482h0M443 494h0M453 489h0M452 486h0M453 476h0M443 490h0M440 495h0M439 491h0M448 478h0M444 488h0M438 472h0M446 475h0M447 492h0M452 469h0M443 467h0" stroke="#6864f0" stroke-width="4.7" stroke-linecap="round" fill="none" transform="translate(2284 2300)"/>
<path d="M209 126h0M204 175h0M211 127h0M210 143h0M206 163h0M184 163h0M179 200h0M169 194h0M205 137h0M176 188h0M144 181h0M220 117h0M216 108h0M151 209h0M152 184h0M212 134h0M162 120h0M166 195h0M164 165h0M194 167h0M161 160h0M163 172h0M203 186h0M193 185h0M191 167h0M208 174h0M172 181h0M156 163h0M192 185h0M183 178h0M184 167h0M202 189h0M176 197h0M178 194h0M157 209h0M185 175h0M132 177h0M147 209h0M138 188h0M149 211h0M236 146h0M236 131h0M239 157h0M265 199h0M279 202h0M262 200h0M234 160h0M238 138h0M264 199h0M227 134h0M229 128h0M251 173h0M257 179h0M244 163h0M277 210h0M261 185h0M248 164h0M285 41h0M278 36h0M286 44h0M286 52h0M50 174h0M50 174h0M50 175h0M77 215h0M82 213h0M248 249h0M237 253h0M252 251h0M202 406h0M186 354h0M204 402h0M178 392h0M174 380h0M187 396h0M210 353h0M195 346h0M214 391h0M209 347h0M207 403h0M179 399h0M211 391h0M217 349h0M194 399h0M201 372h0M180 390h0M187 373h0M227 346h0M200 338h0M194 384h0M199 393h0M201 397h0M193 404h0M203 408h0M199 341h0M180 372h0M196 393h0M174 390h0M188 429h0M179 385h0M215 332h0M210 332h0M180 377h0M205 408h0M224 347h0M182 385h0M206 346h0M194 386h0M189 412h0M203 335h0M200 402h0M186 432h0M209 340h0M173 390h0M199 349h0M203 373h0M194 385h0M229 379h0M223 336h0M214 334h0M177 389h0M200 374h0M214 328h0M195 420h0M223 353h0M208 338h0M226 348h0M176 385h0M202 338h0M174 384h0M202 389h0M207 329h0M225 344h0M196 345h0M202 396h0M228 344h0M211 335h0M218 351h0M176 375h0M206 353h0M198 399h0M175 387h0M227 340h0M196 342h0M208 381h0M218 353h0M215 332h0M179 375h0M188 381h0M189 424h0M208 327h0M177 372h0M194 422h0M189 405h0M215 349h0M206 372h0M203 342h0M201 390h0M208 411h0M189 388h0M208 418h0M176 401h0M203 385h0M207 374h0M216 329h0M186 427h0M191 434h0M204 416h0M182 408h0M189 424h0M252 335h0M249 344h0M249 359h0M249 360h0M347 377h0M346 346h0M348 353h0M341 358h0M353 374h0M422 377h0M394 430h0M449 501h0M459 489h0M455 493h0M438 470h0M448 477h0M446 480h0M439 469h0M450 471h0M457 485h0M447 502h0" stroke="#4857f3" stroke-width="4.7" stroke-linecap="round" fill="none" transform="translate(2284 2300)"/>
<path d="M161 162h0M214 115h0M207 143h0M174 160h0M200 187h0M165 168h0M231 144h0M275 198h0M380 153h0M196 391h0M228 345h0M174 390h0M220 329h0M224 350h0M176 401h0M225 334h0M187 430h0M216 338h0M203 391h0M226 396h0M184 396h0M180 377h0M223 353h0M205 402h0M193 332h0M204 328h0M181 376h0M214 347h0M198 404h0M197 425h0M225 336h0M217 329h0M194 401h0M217 347h0M188 402h0M213 349h0M217 331h0M226 345h0M200 329h0M201 343h0M200 374h0M190 388h0M195 336h0M192 389h0M193 380h0M199 352h0M196 345h0M194 337h0M205 390h0M192 374h0M195 399h0M200 415h0M213 335h0M193 409h0M200 395h0M195 335h0M185 390h0M209 335h0M223 330h0M187 434h0M345 358h0M444 357h0M443 365h0M387 424h0M458 500h0" stroke="#284af6" stroke-width="4.7" stroke-linecap="round" fill="none" transform="translate(2284 2300)"/>
<path d="M2283.8 2301.1V2884.8M2282.4 2883.4H2836.5" stroke="#000" stroke-width="2.8" fill="none"/>
<path d="M2277.3 2384.5H2283.8M2277.3 2478.9H2283.8M2277.3 2573.3H2283.8M2277.3 2667.7H2283.8M2277.3 2762H2283.8M2277.3 2856.4H2283.8M2308.2 2883.4V2889.9M2392.9 2883.4V2889.9M2477.6 2883.4V2889.9M2562.2 2883.4V2889.9M2647.4 2883.4V2889.9M2732 2883.4V2889.9" stroke="#000" stroke-width="2.2" fill="none"/>
<text x="2272.4" y="2391.5" font-size="20" text-anchor="end">10</text>
<text x="2272.4" y="2485.9" font-size="20" text-anchor="end">5</text>
<text x="2272.4" y="2580.3" font-size="20" text-anchor="end">0</text>
<text x="2272.4" y="2674.7" font-size="20" text-anchor="end">−5</text>
<text x="2272.4" y="2769" font-size="20" text-anchor="end">−10</text>
<text x="2272.4" y="2863.4" font-size="20" text-anchor="end">−15</text>
<text x="2305.2" y="2907.8" font-size="20" text-anchor="middle">−15</text>
<text x="2389.9" y="2907.8" font-size="20" text-anchor="middle">−10</text>
<text x="2474.6" y="2907.8" font-size="20" text-anchor="middle">−5</text>
<text x="2562.2" y="2907.8" font-size="20" text-anchor="middle">0</text>
<text x="2647.4" y="2907.8" font-size="20" text-anchor="middle">5</text>
<text x="2732" y="2907.8" font-size="20" text-anchor="middle">10</text>
<text x="2547" y="2938" font-size="20.5" text-anchor="middle">UMAP_1</text>
<text font-size="20.5" text-anchor="middle" transform="translate(2202.5 2562.3) rotate(-90)">UMAP_2</text>
<text x="2413.1" y="2388.8" font-size="23.3" font-weight="bold" textLength="120.5" lengthAdjust="spacingAndGlyphs">Fibroblasts</text>
<text x="2429.1" y="2615" font-size="23.3" font-weight="bold" textLength="115.9" lengthAdjust="spacingAndGlyphs">Ductal Cell</text>
<defs><linearGradient id="gh" x1="0" y1="0" x2="0" y2="1"><stop offset="0.000" stop-color="#1a44fa"/><stop offset="0.286" stop-color="#484cf8"/><stop offset="0.524" stop-color="#7d6ef8"/><stop offset="0.762" stop-color="#b0a0fa"/><stop offset="0.893" stop-color="#c4bcf4"/><stop offset="0.976" stop-color="#cdd6d8"/><stop offset="1.000" stop-color="#cdd6d8"/></linearGradient></defs><rect x="2826.4" y="2545.5" width="19.8" height="104.5" fill="url(#gh)"/>
<path d="M2826.4 2553.9h4M2842.2 2553.9h4M2826.4 2577.9h4M2842.2 2577.9h4M2826.4 2601.9h4M2842.2 2601.9h4M2826.4 2626h4M2842.2 2626h4" stroke="#fff" stroke-width="1.2" fill="none"/>
<text x="2854.6" y="2560.5" font-size="18.5">4</text>
<text x="2854.6" y="2584.5" font-size="18.5">3</text>
<text x="2854.6" y="2608.5" font-size="18.5">2</text>
<text x="2854.6" y="2632.6" font-size="18.5">1</text>
<text x="2854.6" y="2656.6" font-size="18.5">0</text>
</svg>
</body></html>
